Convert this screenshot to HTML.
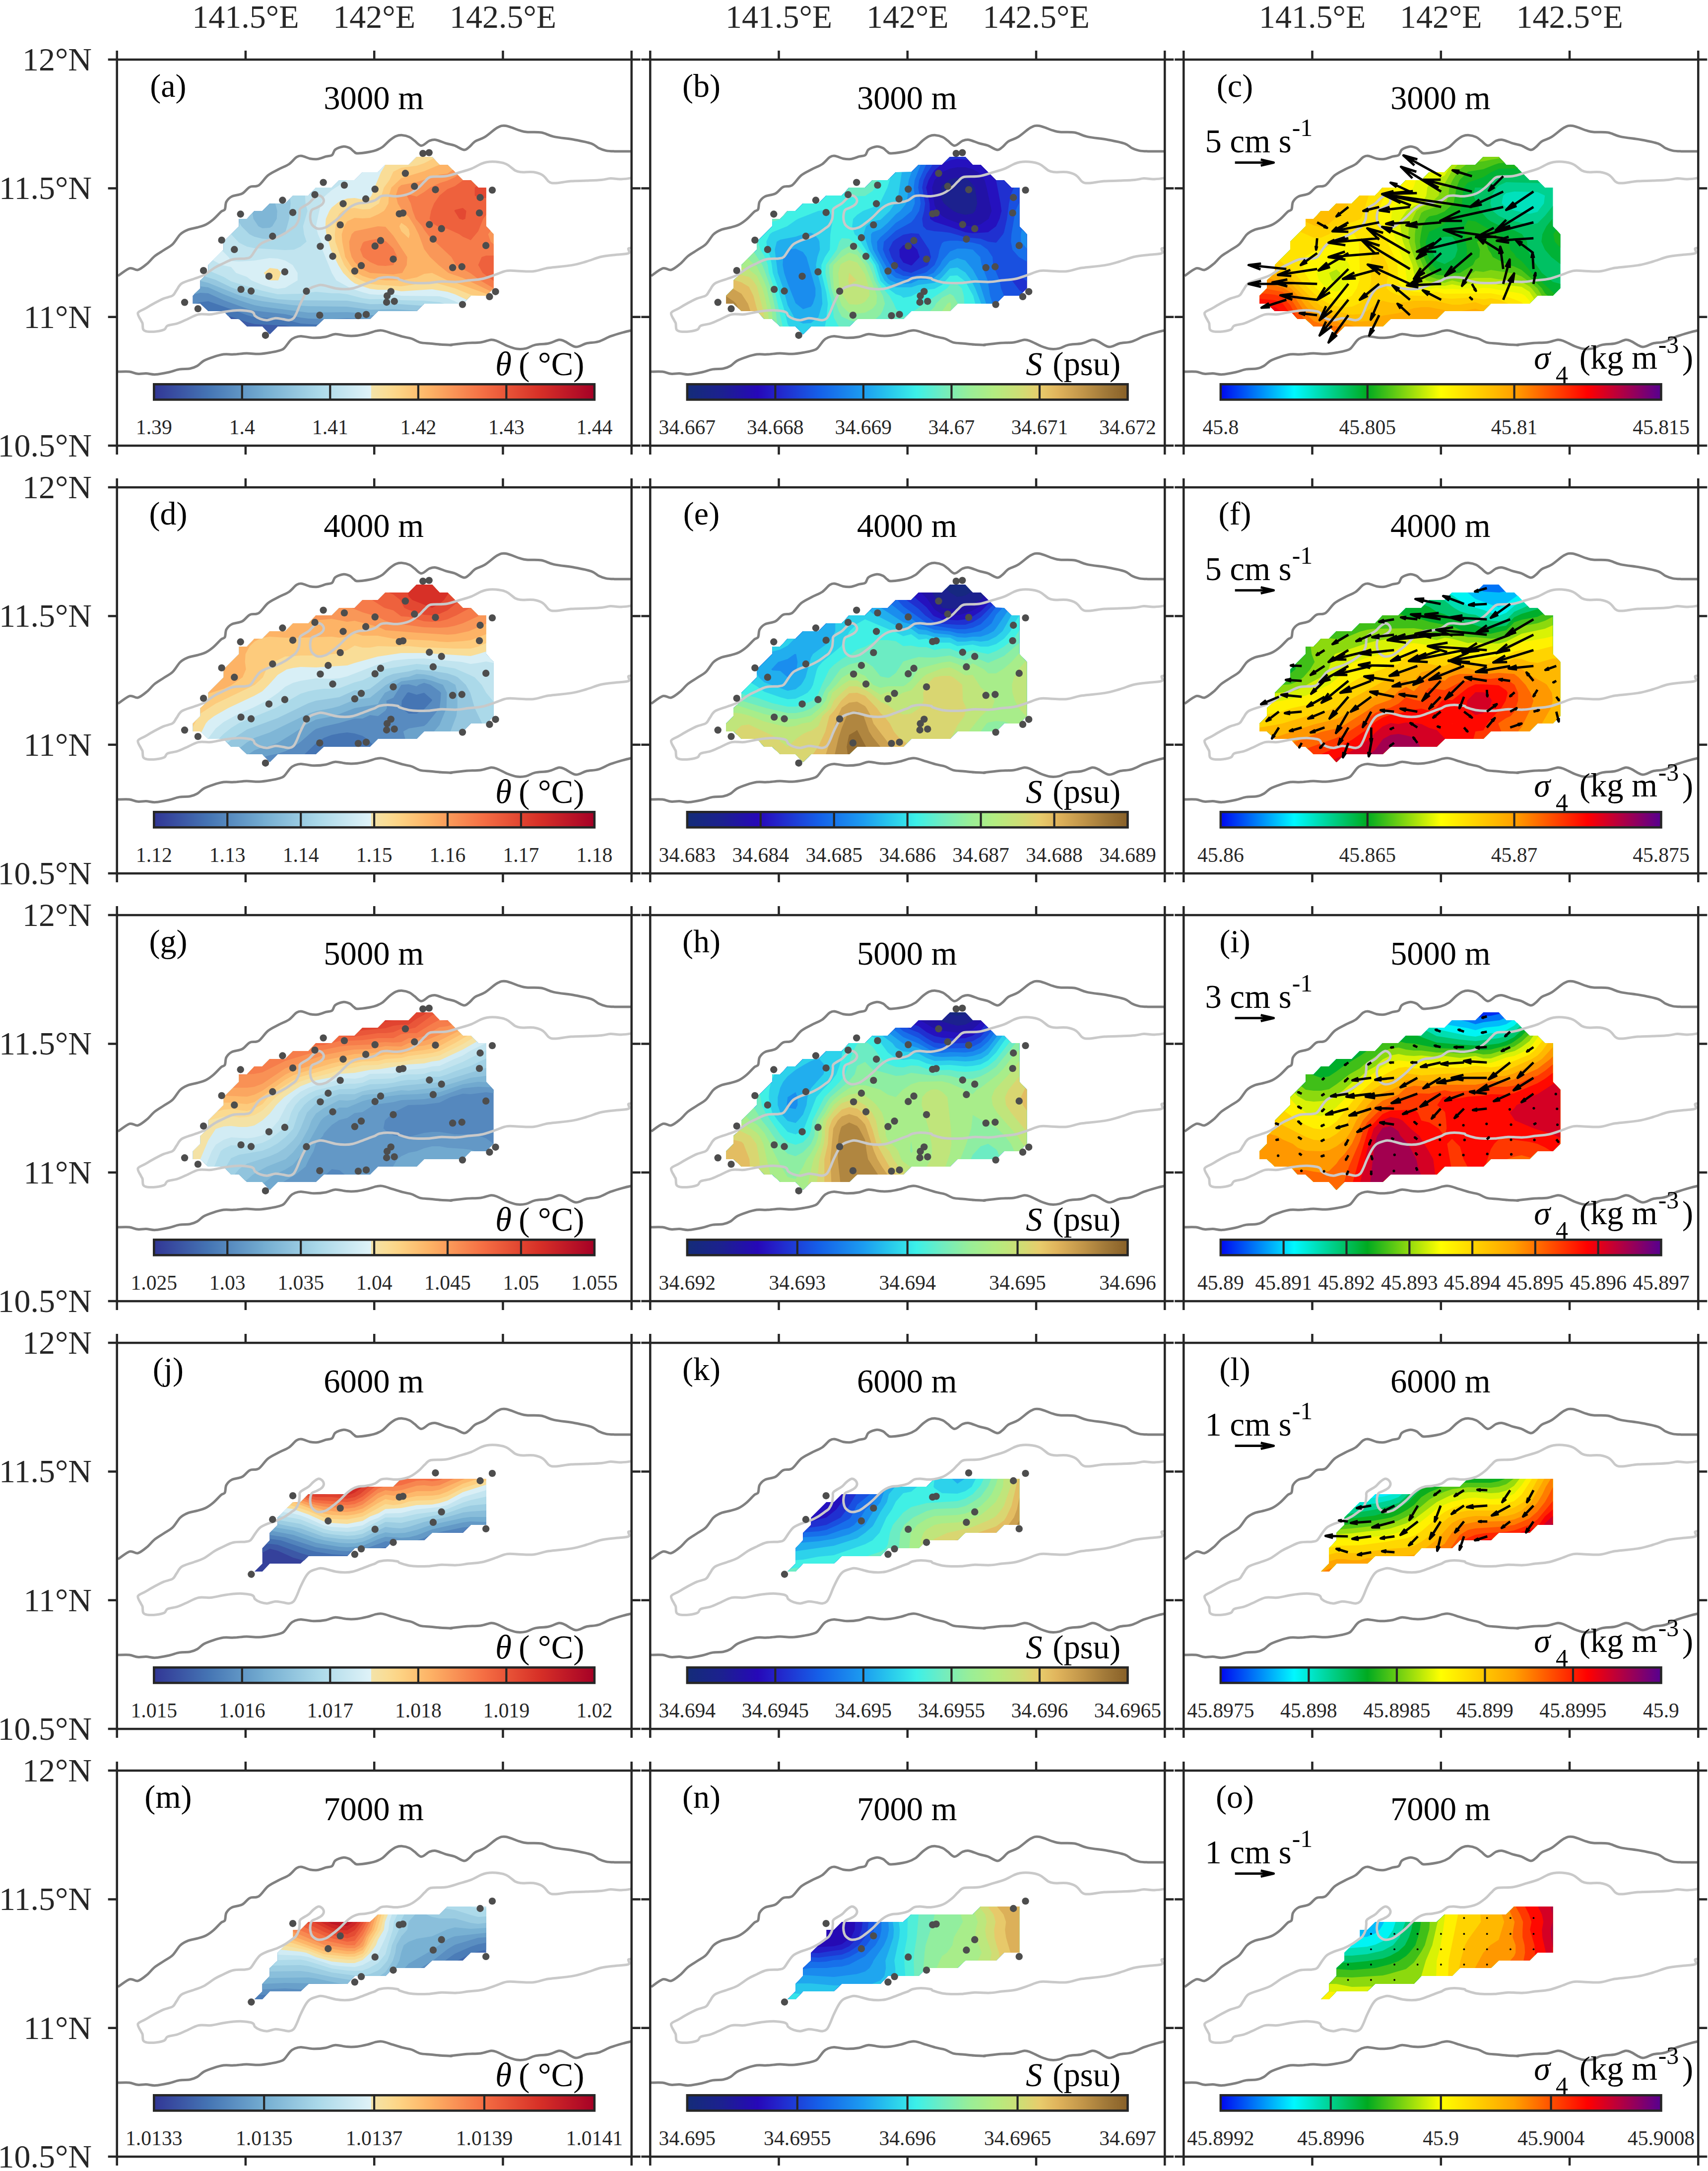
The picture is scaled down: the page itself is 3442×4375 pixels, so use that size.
<!DOCTYPE html><html><head><meta charset="utf-8"><title>fig</title><style>html,body{margin:0;padding:0;background:#fff}svg{display:block}text{font-family:"Liberation Serif",serif}</style></head><body>
<svg width="3442" height="4375" viewBox="0 0 3442 4375">
<rect width="3442" height="4375" fill="#fff"/>
<defs>
<linearGradient id="cm0" x1="0" x2="1" y1="0" y2="0"><stop offset="0.0000" stop-color="#313695"/><stop offset="0.1250" stop-color="#4575b4"/><stop offset="0.2500" stop-color="#74add1"/><stop offset="0.3750" stop-color="#abd9e9"/><stop offset="0.4934" stop-color="#e0f3f8"/><stop offset="0.4935" stop-color="#f3e3a9"/><stop offset="0.5300" stop-color="#fadc94"/><stop offset="0.5600" stop-color="#fdd283"/><stop offset="0.6250" stop-color="#fdb366"/><stop offset="0.7500" stop-color="#f46d43"/><stop offset="0.8750" stop-color="#d73027"/><stop offset="1.0000" stop-color="#a50026"/></linearGradient>
<linearGradient id="cm1" x1="0" x2="1" y1="0" y2="0"><stop offset="0.0000" stop-color="#142c78"/><stop offset="0.0800" stop-color="#1c2090"/><stop offset="0.1600" stop-color="#2608b8"/><stop offset="0.2000" stop-color="#2420c8"/><stop offset="0.3000" stop-color="#1560e8"/><stop offset="0.4000" stop-color="#1c9cf0"/><stop offset="0.4600" stop-color="#28c8ec"/><stop offset="0.5200" stop-color="#3cf0e8"/><stop offset="0.5800" stop-color="#70ecc0"/><stop offset="0.6400" stop-color="#98ee98"/><stop offset="0.7000" stop-color="#b4ec80"/><stop offset="0.7600" stop-color="#d0dc74"/><stop offset="0.8000" stop-color="#e8cc6c"/><stop offset="0.8400" stop-color="#e0b45c"/><stop offset="0.9000" stop-color="#c09448"/><stop offset="0.9500" stop-color="#a07838"/><stop offset="1.0000" stop-color="#886028"/></linearGradient>
<linearGradient id="cm2" x1="0" x2="1" y1="0" y2="0"><stop offset="0.0000" stop-color="#0008f0"/><stop offset="0.1670" stop-color="#00f8ff"/><stop offset="0.3330" stop-color="#00aa20"/><stop offset="0.5000" stop-color="#ffff00"/><stop offset="0.6670" stop-color="#ffa000"/><stop offset="0.8330" stop-color="#ff0000"/><stop offset="1.0000" stop-color="#560090"/></linearGradient>
<path id="du" d="M2.1 435.8C6.0 433.3 18.9 422.7 25.6 420.6C32.3 418.6 36.5 425.2 42.3 423.7C48.2 422.1 55.0 416.1 60.6 411.5C66.2 406.9 70.2 400.8 75.8 396.3C81.4 391.7 88.0 388.2 94.1 384.1C100.2 380.0 106.8 377.2 112.3 371.9C117.9 366.6 122.5 356.9 127.6 352.1C132.6 347.3 137.2 345.3 142.8 343.0C148.4 340.7 155.0 340.2 161.1 338.4C167.1 336.6 173.7 335.1 179.3 332.3C184.9 329.5 189.5 326.0 194.5 321.7C199.6 317.4 206.0 309.8 209.8 306.5C213.6 303.2 215.6 305.2 217.4 301.9C219.2 298.6 218.1 291.0 220.4 286.7C222.7 282.4 225.8 278.8 231.1 276.0C236.4 273.2 246.3 273.1 252.4 269.9C258.5 266.7 262.0 259.6 267.6 256.8C273.2 254.0 279.8 257.1 285.9 253.2C292.0 249.3 297.6 238.7 304.2 233.4C310.7 228.1 318.4 225.0 325.5 221.2C332.6 217.4 340.7 214.7 346.8 210.6C352.8 206.5 357.6 199.3 361.9 196.6C366.1 193.9 367.8 193.6 372.4 194.1C377.0 194.6 384.0 198.5 389.3 199.6C394.5 200.6 398.7 201.1 404.0 200.4C409.3 199.7 416.0 196.7 420.9 195.3C425.8 194.0 430.4 194.7 433.5 192.4C436.7 190.1 436.0 184.3 439.8 181.4C443.7 178.5 451.8 175.6 456.7 175.1C461.6 174.6 465.8 176.7 469.4 178.5C472.9 180.2 475.0 183.9 477.8 185.6C480.6 187.4 479.5 189.3 486.2 189.0C492.9 188.7 509.7 186.1 517.8 184.0C525.9 181.8 529.4 179.9 534.7 176.4C540.0 172.9 544.9 166.5 549.4 162.9C554.0 159.2 557.9 156.2 562.1 154.4C566.3 152.7 570.2 152.1 574.7 152.3C579.3 152.6 585.3 154.2 589.5 156.1C593.7 158.0 596.0 160.8 600.0 163.7C604.0 166.6 608.6 173.4 613.5 173.4C618.4 173.4 624.8 165.7 629.5 163.7C634.3 161.8 636.6 160.8 642.2 161.6C647.8 162.5 656.9 166.9 663.3 168.8C669.6 170.7 674.2 170.8 680.1 173.0C686.1 175.2 694.2 181.3 699.1 181.8C704.0 182.4 705.8 179.2 709.6 176.4C713.5 173.5 717.0 167.9 722.3 164.6C727.5 161.2 733.9 160.7 741.2 156.1C748.6 151.6 759.5 141.0 766.5 137.2C773.6 133.4 776.0 132.5 783.4 133.4C790.8 134.3 803.8 140.5 810.8 142.6C817.8 144.7 818.2 145.3 825.6 146.0C832.9 146.7 845.9 145.3 855.1 146.9C864.2 148.4 869.1 152.8 880.4 155.3C891.6 157.7 909.9 159.3 922.5 161.6C935.2 163.9 948.2 166.4 956.2 169.2C964.3 172.0 966.1 176.1 971.0 178.5C975.9 180.9 980.5 182.5 985.7 183.5C991.0 184.6 994.2 184.6 1002.6 184.8C1011.0 185.0 1030.7 184.8 1036.3 184.8"/>
<path id="dl" d="M1.4 629.0C5.3 629.0 18.2 628.3 25.0 629.0C31.7 629.7 36.2 632.7 41.9 633.2C47.5 633.8 52.7 632.2 58.7 632.4C64.7 632.6 70.0 634.9 77.7 634.5C85.4 634.1 97.0 631.6 105.1 629.9C113.2 628.1 119.1 625.1 126.2 624.0C133.2 622.8 141.3 623.8 147.2 622.7C153.2 621.6 157.4 619.8 162.0 617.2C166.6 614.6 169.4 610.0 174.6 607.1C179.9 604.1 186.9 601.7 193.6 599.5C200.3 597.3 207.7 594.9 214.7 594.0C221.7 593.1 228.0 594.4 235.8 594.0C243.5 593.7 252.6 592.1 261.1 591.9C269.5 591.8 277.9 593.5 286.4 593.2C294.8 592.8 304.6 591.0 311.6 589.8C318.7 588.6 324.3 587.3 328.5 586.0C332.7 584.7 333.4 585.2 336.9 581.8C340.5 578.4 346.1 569.4 349.6 565.8C353.1 562.2 354.5 561.7 358.0 560.3C361.5 558.9 364.3 557.3 370.7 557.3C377.0 557.4 387.5 560.5 396.0 560.7C404.4 560.9 413.9 559.9 421.2 558.6C428.6 557.3 433.2 553.5 440.2 553.1C447.2 552.8 456.0 556.0 463.4 556.5C470.8 557.0 477.5 556.9 484.5 556.1C491.5 555.3 499.2 553.4 505.6 551.9C511.9 550.3 517.5 547.8 522.4 546.8C527.3 545.8 529.4 545.1 535.1 546.0C540.7 546.9 549.1 550.2 556.1 552.3C563.2 554.4 570.9 556.9 577.2 558.6C583.5 560.3 588.5 560.5 594.1 562.4C599.7 564.3 604.6 568.4 610.9 570.0C617.3 571.6 625.0 571.4 632.0 572.1C639.1 572.8 646.1 573.7 653.1 574.2C660.1 574.7 671.0 574.9 674.2 575.1C677.3 575.2 667.2 575.6 671.9 575.0C676.6 574.4 692.2 572.2 702.4 571.3C712.5 570.5 724.2 570.9 732.8 569.8C741.4 568.7 748.5 565.0 754.1 564.6C759.7 564.2 760.7 565.2 766.3 567.4C771.9 569.5 781.0 574.8 787.6 577.4C794.2 580.0 799.8 582.1 805.9 582.9C812.0 583.7 818.1 583.3 824.2 582.0C830.2 580.7 834.8 576.7 842.4 575.0C850.0 573.3 861.7 573.7 869.8 571.9C877.9 570.2 885.5 565.2 891.1 564.6C896.7 564.0 897.7 565.9 903.3 568.3C908.9 570.7 917.5 578.3 924.6 578.9C931.7 579.6 938.3 573.7 945.9 571.9C953.5 570.2 962.2 570.7 970.3 568.3C978.4 565.9 986.5 560.7 994.6 557.6C1002.8 554.6 1011.9 552.0 1019.0 550.0C1026.1 548.0 1034.2 546.2 1037.3 545.5"/>
<path id="lg" d="M1037.3 238.0C1036.3 238.2 1035.2 239.0 1031.2 239.5C1027.1 240.0 1019.0 241.0 1012.9 241.0C1006.8 241.0 1000.7 239.2 994.6 239.5C988.6 239.7 984.5 241.8 976.4 242.5C968.3 243.3 956.1 243.6 945.9 244.0C935.8 244.5 925.1 244.2 915.5 245.0C905.8 245.7 894.7 248.0 888.1 248.6C881.5 249.2 879.0 249.1 875.9 248.6C872.9 248.1 872.9 248.2 869.8 245.6C866.8 242.9 862.7 235.9 857.6 232.8C852.6 229.6 846.5 227.7 839.4 226.7C832.3 225.7 821.1 227.2 815.0 226.7C808.9 226.2 807.9 226.3 802.8 223.6C797.8 221.0 791.2 213.5 784.6 210.6C778.0 207.6 769.9 206.6 763.3 206.0C756.7 205.3 750.1 205.8 745.0 206.6C739.9 207.4 737.9 208.4 732.8 210.6C727.7 212.7 721.7 216.9 714.5 219.7C707.4 222.5 698.8 224.8 690.2 227.3C681.6 229.8 672.4 233.4 662.8 234.9C653.2 236.4 639.5 234.7 632.3 236.4C625.2 238.2 624.2 242.0 620.2 245.6C616.1 249.1 613.1 253.7 608.0 257.7C602.9 261.8 596.8 267.0 589.7 269.9C582.6 272.9 573.0 274.7 565.4 275.4C557.8 276.1 549.6 273.9 544.1 273.9C538.5 273.9 535.9 273.8 531.9 275.4C527.8 277.0 524.7 281.5 519.7 283.6C514.7 285.8 507.5 287.2 502.0 288.2C496.6 289.2 491.4 288.7 486.8 289.7C482.3 290.7 478.7 292.0 474.6 294.3C470.6 296.6 467.0 299.4 462.5 303.4C457.9 307.5 452.3 314.1 447.2 318.6C442.2 323.2 436.6 327.5 432.0 330.8C427.5 334.1 424.2 336.8 419.8 338.4C415.5 340.1 410.2 341.4 406.1 340.9C402.1 340.4 398.0 337.6 395.5 335.4C392.9 333.2 391.9 331.1 390.9 327.8C389.9 324.5 389.1 319.7 389.4 315.6C389.7 311.5 390.4 306.2 392.4 303.4C394.5 300.6 398.3 300.6 401.6 298.8C404.9 297.1 409.7 295.0 412.2 292.8C414.8 290.5 416.5 287.7 416.8 285.1C417.1 282.6 415.5 279.4 413.8 277.5C412.0 275.7 409.2 273.4 406.1 273.9C403.1 274.4 398.8 277.9 395.5 280.6C392.2 283.2 390.7 286.4 386.4 289.7C382.0 293.0 372.7 297.1 369.6 300.4C366.6 303.7 368.6 306.0 368.1 309.5C367.6 313.1 367.8 317.6 366.6 321.7C365.3 325.7 362.8 330.8 360.5 333.9C358.2 336.9 356.7 337.2 352.9 339.9C349.1 342.7 342.7 347.6 337.6 350.6C332.6 353.6 328.0 355.9 322.4 358.2C316.8 360.5 309.7 362.0 304.2 364.3C298.6 366.6 293.0 368.9 288.9 371.9C284.9 375.0 283.1 378.3 279.8 382.6C276.5 386.9 272.7 394.7 269.1 397.8C265.6 400.8 264.3 400.1 258.5 400.8C252.6 401.6 241.7 400.6 234.1 402.4C226.5 404.1 218.9 408.7 212.8 411.5C206.7 414.3 203.9 415.3 197.6 419.1C191.3 422.9 181.9 430.5 174.8 434.3C167.7 438.1 162.3 439.1 155.0 441.9C147.6 444.7 136.4 447.3 130.6 451.1C124.8 454.9 123.0 460.7 120.0 464.8C116.9 468.8 116.7 472.6 112.3 475.4C108.0 478.2 100.2 479.0 94.1 481.5C88.0 484.1 81.9 487.4 75.8 490.7C69.7 493.9 63.1 498.0 57.5 501.3C52.0 504.6 43.8 506.4 42.3 510.4C40.8 514.5 46.9 522.1 48.4 525.7C49.9 529.2 50.7 528.7 51.5 531.8C52.2 534.8 51.5 541.2 53.0 543.9C54.5 546.6 56.3 547.2 60.6 547.9C64.9 548.5 73.0 548.5 78.9 547.9C84.7 547.2 91.8 545.9 95.6 543.9C99.4 542.0 97.4 538.3 101.7 536.3C106.0 534.3 115.1 533.8 121.5 531.8C127.8 529.7 132.6 527.2 139.7 524.1C146.9 521.1 156.0 515.3 164.1 513.5C172.2 511.7 180.3 514.2 188.5 513.5C196.6 512.7 205.2 510.2 212.8 508.9C220.4 507.6 227.5 506.5 234.1 505.9C240.7 505.3 246.6 505.0 252.4 505.3C258.2 505.5 265.3 506.5 269.1 507.4C272.9 508.3 273.7 508.9 275.2 510.4C276.8 512.0 276.0 514.5 278.3 516.5C280.6 518.6 284.9 521.2 288.9 522.6C293.0 524.0 297.6 525.3 302.6 525.1C307.7 524.8 314.0 521.4 319.4 521.1C324.7 520.8 330.0 522.6 334.6 523.2C339.2 523.9 343.2 525.4 346.8 525.1C350.3 524.7 353.4 523.5 355.9 521.1C358.4 518.7 359.7 515.3 362.0 510.4C364.3 505.6 366.8 498.3 369.6 492.2C372.4 486.1 376.0 478.7 378.7 473.9C381.5 469.1 383.6 465.9 386.4 463.3C389.1 460.6 391.4 459.6 395.5 458.1C399.5 456.6 405.6 454.3 410.7 454.1C415.8 454.0 420.9 456.0 425.9 457.2C431.0 458.3 435.6 460.2 441.2 461.1C446.7 462.0 453.8 462.6 459.4 462.6C465.0 462.6 469.1 462.4 474.6 461.1C480.2 459.9 486.8 457.2 492.9 455.0C499.0 452.8 506.7 449.7 511.2 448.0C515.6 446.4 516.8 446.3 519.7 445.0C522.6 443.7 524.5 441.5 528.8 440.4C533.1 439.3 539.5 438.3 545.6 438.3C551.7 438.3 561.3 439.6 565.4 440.4C569.4 441.3 565.4 441.9 569.9 443.5C574.5 445.0 583.4 448.4 592.8 449.5C602.2 450.7 616.1 450.6 626.3 450.2C636.4 449.8 644.0 447.5 653.7 447.1C663.3 446.8 675.0 448.4 684.1 448.0C693.2 447.7 699.8 446.0 708.5 445.0C717.1 444.0 727.2 443.7 735.9 441.9C744.5 440.2 752.1 437.0 760.2 434.3C768.3 431.6 777.0 427.2 784.6 425.8C792.2 424.4 796.8 425.7 805.9 425.8C815.0 426.0 828.7 427.7 839.4 426.7C850.0 425.7 857.1 421.7 869.8 419.7C882.5 417.7 902.8 416.7 915.5 414.5C928.2 412.4 935.8 409.8 945.9 406.9C956.1 404.0 966.2 399.5 976.4 397.2C986.5 394.9 997.7 394.4 1006.8 393.2C1016.0 392.1 1027.2 392.2 1031.2 390.2C1035.1 388.2 1029.6 382.8 1030.6 381.0C1031.6 379.3 1036.2 379.8 1037.3 379.5"/>
<g id="ctr"><use href="#du" fill="none" stroke="#808080" stroke-width="5" stroke-linejoin="round"/><use href="#dl" fill="none" stroke="#808080" stroke-width="5" stroke-linejoin="round"/><use href="#lg" fill="none" stroke="#c9c9c9" stroke-width="5" stroke-linejoin="round"/></g>
<path id="arr" d="M0 0H78M52 -6L78 0L52 6" fill="none" stroke="#000" stroke-width="4.8" stroke-linejoin="round"/>
</defs>
<g transform="translate(235.7 120.1)">
<svg x="0" y="0" width="1037.0" height="778.0" overflow="hidden">
<g shape-rendering="geometricPrecision"><path d="M308 554l-15 -16l-31 0l-16 -15l-16 0l-15 -16l-31 0l-16 -15l-15 0l0 -16l15 -15l0 -16l16 -15l0 -16l31 -31l0 -16l31 -31l0 -15l16 0l15 -16l16 0l15 -15l31 0l16 -16l31 0l15 -16l32 0l15 -15l31 0l16 -16l31 0l15 -15l47 0l16 -16l31 0l15 16l16 0l31 31l16 0l15 15l16 0l0 78l15 16l0 109l-15 15l-31 0l-16 16l-78 0l-15 15l-78 0l-16 16l-93 0l-16 15l-77 0z" fill="#3d5ca8"/><path d="M262 529l15 4l16 1l46 2l13 2l49 0l16 -15l93 0l16 -16l78 0l15 -15l78 0l16 -16l31 0l15 -15l0 -109l-15 -16l0 -78l-16 0l-15 -15l-16 0l-31 -31l-16 0l-15 -16l-31 0l-16 16l-47 0l-15 15l-31 0l-16 16l-31 0l-15 15l-32 0l-15 16l-31 0l-16 16l-31 0l-15 15l-16 0l-15 16l-16 0l0 15l-31 31l0 16l-31 31l0 16l-16 15l0 16l-15 15l0 16l15 0l16 15l31 0l8 9z" fill="#4575b4"/><path d="M168 489l16 -2l46 16l32 12l15 4l47 3l15 2l31 8l16 1l20 1l11 -11l93 0l16 -16l78 0l15 -15l78 0l16 -16l31 0l15 -15l0 -109l-15 -16l0 -78l-16 0l-15 -15l-16 0l-31 -31l-16 0l-15 -16l-31 0l-16 16l-47 0l-15 15l-31 0l-16 16l-31 0l-15 15l-32 0l-15 16l-31 0l-16 16l-31 0l-15 15l-16 0l-15 16l-16 0l0 15l-31 31l0 16l-31 31l0 16l-16 15l0 16l-15 15l0 16l6 0z" fill="#588bc0"/><path d="M168 470l16 1l31 14l47 17l15 4l62 7l31 7l16 2l47 1l31 -2l46 2l16 -16l78 0l15 -15l78 0l16 -16l31 0l15 -15l0 -109l-15 -16l0 -78l-16 0l-15 -15l-16 0l-31 -31l-16 0l-15 -16l-31 0l-16 16l-47 0l-15 15l-31 0l-16 16l-31 0l-15 15l-32 0l-15 16l-31 0l-16 16l-31 0l-15 15l-16 0l-15 16l-16 0l0 15l-31 31l0 16l-31 31l0 16l-16 15l0 16l-13 12z" fill="#6ba2cb"/><path d="M184 459l31 14l31 12l31 10l16 3l93 12l78 -1l15 1l31 5l8 0l8 -8l78 0l15 -15l78 0l16 -16l31 0l15 -15l0 -109l-15 -16l0 -78l-16 0l-15 -15l-16 0l-31 -31l-16 0l-15 -16l-31 0l-16 16l-47 0l-15 15l-31 0l-16 16l-31 0l-15 15l-32 0l-15 16l-31 0l-16 16l-31 0l-15 15l-16 0l-15 16l-16 0l0 15l-31 31l0 16l-31 31l0 16l-16 15l0 12z" fill="#7fb6d6"/><path d="M184 450l62 25l31 9l16 3l62 8l31 2l78 1l46 6l47 -1l48 3l14 -14l78 0l16 -16l31 0l15 -15l0 -109l-15 -16l0 -78l-16 0l-15 -15l-16 0l-31 -31l-16 0l-15 -16l-31 0l-16 16l-47 0l-15 15l-31 0l-16 16l-31 0l-15 15l-32 0l-15 16l-31 0l-16 16l-20 0l4 15l-1 16l-9 15l-5 3l-15 1l-8 -4l-10 -15l-2 -12l-11 12l-16 0l0 15l-31 31l0 16l-31 31l0 16l-16 15l0 1z" fill="#95c7df"/><path d="M350 290l-3 31l-4 15l-5 16l-14 8l-16 2l-15 -1l-16 -4l-10 -5l-16 -16l-5 -8l0 8l-31 31l0 16l-31 31l0 16l-7 7l22 7l31 15l16 6l41 11l21 4l16 3l31 2l109 1l46 7l47 -1l58 4l4 -4l78 0l16 -16l31 0l15 -15l0 -109l-15 -16l0 -78l-16 0l-15 -15l-16 0l-31 -31l-16 0l-15 -16l-31 0l-16 16l-47 0l-15 15l-31 0l-16 16l-31 0l-15 15l-32 0l-15 16l-31 0l-6 6z" fill="#abd9e9"/><path d="M184 425l31 13l15 9l16 5l47 14l31 7l46 -1l31 -4l32 3l15 0l16 2l31 8l15 2l47 -1l16 3l46 1l31 3l10 3l37 0l16 -16l31 0l15 -15l0 -109l-15 -16l0 -78l-16 0l-15 -15l-16 0l-31 -31l-16 0l-15 -16l-31 0l-16 16l-47 0l-15 15l-31 0l-16 16l-31 0l-15 15l-32 0l-15 16l-7 0l1 16l4 15l-9 31l2 16l5 15l-12 10l-13 6l-18 1l-62 -4l-15 -3l-16 -8l-16 -17l-15 15l0 16l-31 31z" fill="#c1e4ef"/><path d="M464 243l-31 20l-16 14l-6 13l-10 46l4 16l7 15l2 16l6 15l13 32l9 15l29 16l24 8l15 4l16 1l31 -1l16 3l77 1l16 4l15 6l9 5l7 0l16 -16l31 0l15 -15l0 -109l-15 -16l0 -78l-16 0l-15 -15l-16 0l-31 -31l-16 0l-15 -16l-31 0l-16 16l-47 0l-15 15l-31 0l-16 16zM193 404l18 10l19 4l10 12l22 8l9 7l22 9l23 7l8 1l15 -2l25 -15l0 -15l-10 -16l-15 -9l-15 -4l-16 -1l-31 5l-31 2l-16 -1l-5 -8l-13 -13z" fill="#d8eff6"/><path d="M532 227l-13 31l-6 16l-3 4l-15 4l-16 -3l-15 1l-16 6l-15 12l-5 7l-7 16l-1 15l2 16l9 31l15 31l10 16l15 15l8 6l16 6l15 5l16 2l31 0l16 3l62 -4l31 5l15 5l24 11l8 -8l31 0l15 -15l0 -109l-15 -16l0 -78l-16 0l-15 -15l-16 0l-31 -31l-16 0l-15 -16l-31 0l-16 16l-47 0zM308 445l17 0l6 -15l-7 -8l-16 -2l-12 10z" fill="#f9dd97"/><path d="M638 199l-19 10l-15 5l-31 4l-16 8l-8 17l-11 15l-10 32l-18 11l-15 1l-16 -3l-15 2l-9 4l-7 6l-6 10l-3 31l1 15l11 31l7 16l12 16l9 8l16 8l15 6l16 2l47 3l62 -9l46 13l32 13l17 2l14 0l15 -15l0 -109l-15 -16l0 -78l-16 0l-15 -15l-16 0l-31 -31l-16 0z" fill="#fdcb7c"/><path d="M650 212l-31 13l-46 14l-20 19l-5 16l-1 16l-6 11l-3 4l-12 7l-16 7l-15 1l-16 -1l-15 7l-6 10l-5 16l1 15l6 31l10 16l14 16l11 6l15 5l31 4l32 0l31 -6l15 -7l16 -2l31 15l15 4l66 24l12 -12l0 -109l-15 -16l0 -78l-16 0l-15 -15l-16 0l-31 -31zM583 336l5 6l2 10l-2 8l-15 -14l-4 -10l4 -7z" fill="#fdb366"/><path d="M677 222l-11 8l-16 2l-46 15l-31 6l-6 5l-5 16l4 16l9 15l13 12l12 19l8 16l11 30l12 16l17 16l20 16l29 10l56 27l6 -6l0 -109l-15 -16l0 -78l-16 0l-15 -15l-16 0zM526 336l-47 10l-6 6l-5 15l1 16l4 15l6 10l16 15l15 7l16 1l31 2l18 -3l9 -16l1 -16l-28 -43l-16 -18z" fill="#f99758"/><path d="M681 237l-15 7l-16 5l-19 9l-12 9l-15 9l-16 -4l-4 2l8 16l4 15l6 16l13 15l4 7l16 21l6 3l17 16l16 15l9 16l30 17l19 14l27 16l0 -89l-6 -5l-5 -15l5 -7l-9 -9l0 -78l-16 0l-15 -15l-16 0l-10 -10zM490 383l6 15l14 10l16 7l15 1l16 -2l8 -16l-8 -17l-14 -14l-2 -1l-15 -5l-16 3l-12 3l-3 3z" fill="#f67b4a"/><path d="M698 243l-17 12l-15 6l-16 13l-11 16l-6 15l-3 16l5 8l11 7l4 2l16 3l24 11l7 5l16 7l15 -18l10 -25l6 -8l0 -55l-16 0l-15 -15zM737 430l22 16l0 -51l-15 0l-9 3l-7 16z" fill="#ee613d"/><path d="M721 258l0 16l7 5l16 0l0 -21l-16 0l-3 -3zM690 321l7 2l5 -2l2 -16l-7 -6l-16 4l-1 2z" fill="#e34832"/></g>
<use href="#ctr"/>
<g fill="#4d4d4d"><circle cx="616.5" cy="189.0" r="7.2"/><circle cx="629.0" cy="187.5" r="7.2"/><circle cx="581.2" cy="229.2" r="7.2"/><circle cx="415.9" cy="247.5" r="7.2"/><circle cx="458.2" cy="253.0" r="7.2"/><circle cx="520.0" cy="261.2" r="7.2"/><circle cx="599.5" cy="255.4" r="7.2"/><circle cx="641.8" cy="262.1" r="7.2"/><circle cx="756.3" cy="263.0" r="7.2"/><circle cx="398.8" cy="272.1" r="7.2"/><circle cx="333.7" cy="283.4" r="7.2"/><circle cx="501.4" cy="280.7" r="7.2"/><circle cx="455.8" cy="290.4" r="7.2"/><circle cx="731.9" cy="277.9" r="7.2"/><circle cx="354.4" cy="308.1" r="7.2"/><circle cx="249.0" cy="311.4" r="7.2"/><circle cx="569.0" cy="310.8" r="7.2"/><circle cx="576.3" cy="309.3" r="7.2"/><circle cx="730.4" cy="309.0" r="7.2"/><circle cx="450.0" cy="333.0" r="7.2"/><circle cx="629.6" cy="332.4" r="7.2"/><circle cx="654.0" cy="340.7" r="7.2"/><circle cx="313.6" cy="355.9" r="7.2"/><circle cx="211.0" cy="363.8" r="7.2"/><circle cx="425.6" cy="358.9" r="7.2"/><circle cx="531.3" cy="364.7" r="7.2"/><circle cx="637.2" cy="361.7" r="7.2"/><circle cx="520.0" cy="375.7" r="7.2"/><circle cx="409.8" cy="376.3" r="7.2"/><circle cx="743.5" cy="374.7" r="7.2"/><circle cx="236.6" cy="382.7" r="7.2"/><circle cx="434.8" cy="396.4" r="7.2"/><circle cx="556.8" cy="402.1" r="7.2"/><circle cx="492.3" cy="415.2" r="7.2"/><circle cx="479.2" cy="426.2" r="7.2"/><circle cx="676.5" cy="419.2" r="7.2"/><circle cx="695.1" cy="417.4" r="7.2"/><circle cx="174.4" cy="425.0" r="7.2"/><circle cx="338.2" cy="427.7" r="7.2"/><circle cx="306.3" cy="436.6" r="7.2"/><circle cx="249.9" cy="463.0" r="7.2"/><circle cx="270.3" cy="466.4" r="7.2"/><circle cx="381.8" cy="466.7" r="7.2"/><circle cx="552.0" cy="467.3" r="7.2"/><circle cx="544.4" cy="476.1" r="7.2"/><circle cx="543.4" cy="488.9" r="7.2"/><circle cx="559.0" cy="487.1" r="7.2"/><circle cx="762.9" cy="467.6" r="7.2"/><circle cx="750.8" cy="477.7" r="7.2"/><circle cx="696.3" cy="493.5" r="7.2"/><circle cx="136.4" cy="489.2" r="7.2"/><circle cx="163.2" cy="502.0" r="7.2"/><circle cx="408.6" cy="515.1" r="7.2"/><circle cx="486.2" cy="516.0" r="7.2"/><circle cx="502.3" cy="513.6" r="7.2"/><circle cx="299.3" cy="555.6" r="7.2"/></g>
</svg>
<rect x="0" y="0" width="1037.0" height="778.0" fill="none" stroke="#262626" stroke-width="4.5"/>
<path d="M0.0 0V-18M0.0 778.0v18M259.2 0V-18M259.2 778.0v18M518.5 0V-18M518.5 778.0v18M777.8 0V-18M777.8 778.0v18M1037.0 0V-18M1037.0 778.0v18M0 0.0h-18M1037.0 0.0h18M0 259.3h-18M1037.0 259.3h18M0 518.7h-18M1037.0 518.7h18M0 778.0h-18M1037.0 778.0h18" stroke="#262626" stroke-width="4.5" fill="none"/>
<rect x="74.6" y="654.2" width="887.6" height="31.1" fill="url(#cm0)" stroke="#262626" stroke-width="4.6"/>
<text x="74.6" y="754.5" font-size="41.67" fill="#262626" text-anchor="middle">1.39</text>
<text x="252.1" y="754.5" font-size="41.67" fill="#262626" text-anchor="middle">1.4</text>
<text x="429.6" y="754.5" font-size="41.67" fill="#262626" text-anchor="middle">1.41</text>
<text x="607.2" y="754.5" font-size="41.67" fill="#262626" text-anchor="middle">1.42</text>
<text x="784.7" y="754.5" font-size="41.67" fill="#262626" text-anchor="middle">1.43</text>
<text x="962.2" y="754.5" font-size="41.67" fill="#262626" text-anchor="middle">1.44</text>
<path d="M252.1 654.2v31.1M429.6 654.2v31.1M607.2 654.2v31.1M784.7 654.2v31.1" stroke="#262626" stroke-width="4.2" fill="none"/>
<text x="103.2" y="74.9" font-size="66.00" text-anchor="middle">(a)</text>
<text x="517.5" y="100.2" font-size="66.67" text-anchor="middle">3000 m</text>
<text x="762.6" y="636.4" font-size="66.67" font-style="italic">θ</text><text x="941.7" y="636.4" font-size="66.67" text-anchor="end">( °C)</text>
</g>
<g transform="translate(1310.3 120.1)">
<svg x="0" y="0" width="1037.0" height="778.0" overflow="hidden">
<g shape-rendering="geometricPrecision"><path d="M308 554l-15 -16l-31 0l-16 -15l-16 0l-15 -16l-31 0l-16 -15l-15 0l0 -16l15 -15l0 -16l16 -15l0 -16l31 -31l0 -16l31 -31l0 -15l16 0l15 -16l16 0l15 -15l31 0l16 -16l31 0l15 -16l32 0l15 -15l31 0l16 -16l31 0l15 -15l47 0l16 -16l31 0l15 16l16 0l31 31l16 0l15 15l16 0l0 78l15 16l0 109l-15 15l-31 0l-16 16l-78 0l-15 15l-78 0l-16 16l-93 0l-16 15l-77 0z" fill="#1c218e"/><path d="M324 538l77 0l16 -15l93 0l16 -16l78 0l15 -15l78 0l16 -16l31 0l15 -15l0 -109l-15 -16l0 -78l-16 0l-15 -15l-16 0l-31 -31l-16 0l-15 -16l-31 0l-16 16l-47 0l-15 15l-31 0l-16 16l-31 0l-15 15l-32 0l-15 16l-31 0l-16 16l-31 0l-15 15l-16 0l-15 16l-16 0l0 15l-31 31l0 16l-31 31l0 16l-16 15l0 16l-15 15l0 16l15 0l16 15l31 0l15 16l16 0l16 15l31 0l15 16zM619 238l16 1l7 4l8 9l4 6l3 16l2 16l-4 15l-5 5l-15 3l-16 -4l-8 -4l-7 -5l-12 -10l-4 -7l-2 -9l0 -16l2 -4l16 -13z" fill="#2212a6"/><path d="M324 538l77 0l16 -15l93 0l16 -16l78 0l15 -15l78 0l16 -16l31 0l15 -15l0 -109l-15 -16l0 -78l-16 0l-15 -15l-16 0l-31 -31l-16 0l-15 -16l-31 0l-16 16l-47 0l-15 15l-31 0l-16 16l-31 0l-15 15l-32 0l-15 16l-31 0l-16 16l-31 0l-15 15l-16 0l-15 16l-16 0l0 15l-31 31l0 16l-31 31l0 16l-16 15l0 16l-15 15l0 16l15 0l16 15l31 0l15 16l16 0l16 15l31 0l15 16zM604 220l15 -3l16 0l15 4l11 6l13 16l4 15l10 47l-6 16l-16 11l-16 4l-15 -1l-37 -14l-10 -6l-10 -10l-5 -12l-5 -35l5 -15l15 -16z" fill="#2511be"/><path d="M697 243l9 47l2 15l-4 16l-7 15l-16 12l-15 1l-16 1l-15 -2l-31 -11l-31 -10l-9 -6l-1 -31l-7 -32l5 -15l9 -16l3 -4l13 -11l-45 0l-15 15l-31 0l-16 16l-31 0l-15 15l-32 0l-15 16l-31 0l-16 16l-31 0l-15 15l-16 0l-15 16l-16 0l0 15l-31 31l0 16l-31 31l0 16l-16 15l0 16l-15 15l0 16l15 0l16 15l31 0l15 16l16 0l16 15l31 0l15 16l16 -16l77 0l16 -15l93 0l16 -16l78 0l15 -15l78 0l16 -16l31 0l15 -15l0 -109l-15 -16l0 -78l-16 0l-15 -15zM526 372l12 11l5 15l-15 16l-2 1l-16 -6l-7 -11l-1 -15l8 -9zM604 203l15 -3l21 2l-5 -6l-31 0l-12 12z" fill="#2030d0"/><path d="M728 269l-5 21l-4 31l-6 27l-2 4l-12 15l-2 2l-16 -2l-15 -6l-31 -3l-31 -9l-16 -2l-15 -1l-16 -3l-7 -7l-2 -15l4 -16l2 -15l-6 -32l3 -15l6 -13l12 -18l-28 0l-15 15l-31 0l-16 16l-31 0l-15 15l-32 0l-15 16l-31 0l-16 16l-31 0l-15 15l-16 0l-15 16l-16 0l0 15l-31 31l0 16l-31 31l0 16l-16 15l0 16l-15 15l0 16l15 0l16 15l31 0l15 16l16 0l16 15l31 0l15 16l16 -16l77 0l16 -15l93 0l16 -16l78 0l15 -15l78 0l16 -16l31 0l7 -7l-7 -4l-15 -20l15 -9l13 9l2 3l0 -96l-15 -16l0 -78l-11 0zM541 351l21 32l4 15l-6 16l-3 2l-31 14l-16 -4l-15 -12l-9 -16l-5 -15l8 -16l6 -5l15 -9l16 -3z" fill="#1950e0"/><path d="M744 288l-8 17l-8 47l-1 15l3 16l13 15l16 9l0 -55l-15 -16zM713 476l-6 -15l-3 -16l-13 -31l-1 -16l-10 -15l-14 -10l-16 -4l-31 -4l-15 0l-12 2l-4 3l-5 13l-3 15l-7 16l-16 14l-4 2l-27 7l-16 -1l-15 -7l-11 -15l-9 -16l-6 -15l2 -16l24 -22l31 -17l6 -7l10 -16l3 -15l-2 -16l-3 -16l2 -15l14 -31l-15 0l-15 15l-31 0l-16 16l-31 0l-15 15l-32 0l-15 16l-31 0l-16 16l-31 0l-15 15l-16 0l-15 16l-16 0l0 15l-31 31l0 16l-31 31l0 16l-16 15l0 16l-15 15l0 16l15 0l16 15l31 0l15 16l16 0l16 15l31 0l15 16l16 -16l77 0l16 -15l93 0l16 -16l78 0l15 -15l78 0z" fill="#176fea"/><path d="M747 352l0 15l12 14l0 -29l-10 -10zM685 476l-5 -31l-12 -31l-3 -16l-15 -15l-15 -2l-16 0l-15 6l-16 19l-4 8l-13 16l-14 6l-16 2l-15 5l-16 0l-15 -3l-12 -10l-18 -32l-7 -15l-1 -16l7 -9l15 -13l16 -16l13 -8l19 -16l6 -15l0 -16l-2 -16l2 -15l12 -31l-4 0l-15 15l-31 0l-16 16l-31 0l-15 15l-32 0l-15 16l-31 0l-16 16l-31 0l-15 15l-16 0l-15 16l-16 0l0 15l-31 31l0 16l-31 31l0 16l-16 15l0 16l-15 15l0 16l15 0l16 15l31 0l15 16l16 0l16 15l31 0l15 16l16 -16l77 0l16 -15l93 0l16 -16l78 0l15 -15l71 0z" fill="#1a8dee"/><path d="M677 492l-15 -47l-12 -22l-15 -18l-16 -5l-15 6l-20 24l-11 9l-16 5l-16 0l-15 7l-16 1l-15 -2l-11 -5l-5 -4l-13 -27l-17 -31l-4 -16l0 -15l3 -4l16 -6l15 -13l16 -17l9 -7l12 -15l3 -16l0 -16l2 -15l6 -17l-32 1l-16 16l-31 0l-15 15l-32 0l-15 16l-31 0l-16 16l-31 0l-15 15l-16 0l-15 16l-16 0l0 15l-31 31l0 16l-31 31l0 16l-16 15l0 16l-15 15l0 16l15 0l16 15l31 0l15 16l16 0l16 15l31 0l15 16l16 -16l77 0l16 -15l93 0l16 -16l78 0l15 -15zM293 381l15 7l7 10l18 63l0 15l-5 16l-4 6l-16 5l-15 -12l-16 -40l-7 -21l-3 -16l1 -16l8 -15z" fill="#21aeee"/><path d="M667 492l-12 -31l-8 -16l-12 -16l-16 -10l-15 2l-16 18l-7 6l-8 5l-32 4l-15 5l-31 0l-16 -7l-7 -7l-8 -16l-4 -15l-19 -31l-11 -31l5 -16l13 -10l16 -3l19 -18l10 -15l7 -16l7 -47l-12 0l-16 16l-31 0l-15 15l-32 0l-15 16l-31 0l-16 16l-31 0l-15 15l-16 0l-15 16l-16 0l0 15l-31 31l0 16l-31 31l0 16l-16 15l0 16l-15 15l0 16l15 0l16 15l31 0l15 16l16 0l16 15l31 0l15 16l16 -16l77 0l16 -15l93 0l16 -16l78 0l15 -15zM330 352l9 10l2 5l1 16l-5 15l-3 16l2 16l3 7l6 24l2 31l-8 27l-15 12l-16 1l-15 -7l-16 -30l-9 -34l-11 -31l-6 -47l4 -16l7 -4l31 -6l15 -5l16 -3z" fill="#2dd2eb"/><path d="M651 476l-16 -29l-16 -12l-15 1l-16 18l-15 8l-16 2l-16 5l-15 8l-16 3l-5 -4l-10 -3l-16 -12l-15 -15l-10 -32l-37 -58l-5 -4l-5 -16l2 -15l8 -8l12 -8l19 -7l16 -11l14 -29l6 -20l-5 5l-31 0l-15 15l-32 0l-15 16l-31 0l-16 16l-31 0l-15 15l-16 0l-15 16l-16 0l0 15l-31 31l0 16l-31 31l0 16l-16 15l0 16l-15 15l0 16l15 0l16 15l31 0l15 16l16 0l16 15l18 0l-3 -5l-6 -26l-9 -29l-4 -17l-11 -31l-2 -16l-3 -16l-6 -15l-2 -16l7 -15l5 -4l30 -12l17 -12l5 -3l41 -16l16 -2l6 2l7 16l-5 31l-1 31l-10 15l-7 16l0 16l10 40l3 22l-3 31l-3 15l49 0l16 -15l93 0l16 -16l78 0l15 -15l36 0z" fill="#40f0e5"/><path d="M267 538l-17 -77l-11 -31l-2 -16l-7 -18l-8 -13l-5 -16l0 -2l-2 2l0 16l-31 31l0 16l-16 15l0 16l-15 15l0 16l15 0l16 15l31 0l15 16l16 0l16 15zM262 322l15 -15l3 -2l-3 0l-15 16l-16 0l0 6zM392 268l25 7l16 0l15 -10l5 -7l5 -15l-10 0l-15 15l-32 0zM376 383l-22 31l-1 16l6 31l8 31l3 28l10 18l21 0l16 -15l93 0l8 -8l-8 3l-15 -16l-4 -10l-9 -16l-18 -21l-6 -10l-9 -31l-32 -42l-8 -5l-8 -6l-15 -1l-5 7zM632 476l-4 -15l-9 -8l-15 1l-6 7l-46 31l-21 15l73 0l15 -15l14 0z" fill="#6cecc3"/><path d="M256 533l-3 -26l-10 -46l-13 -37l-4 -10l-17 -26l-25 26l0 16l-16 15l0 16l-15 15l0 16l15 0l16 15l31 0l15 16l16 0zM375 398l-14 16l0 16l4 31l15 46l6 11l15 7l11 3l5 -5l37 0l10 -9l4 -7l5 -15l-4 -16l-17 -31l-4 -14l-7 -17l-24 -31l-16 -7l-15 8zM573 498l-9 9l40 0l16 -15l-9 -16l-7 -4l-16 8l-12 12z" fill="#8eeea2"/><path d="M247 524l-2 -17l-7 -31l-3 -15l-5 -13l-15 -31l-19 -16l-12 13l0 16l-16 15l0 16l-15 15l0 16l15 0l16 15l31 0l15 16l16 0zM368 430l2 31l9 15l7 20l11 11l4 3l16 2l16 -2l15 -8l8 -10l1 -16l-5 -15l-7 -16l-12 -31l-16 -20l-16 -5l-15 9l-17 16zM606 492l-2 -3l-5 3l-11 15l16 0l2 -2z" fill="#a8ed8a"/><path d="M237 507l-7 -33l-4 -13l-11 -25l-16 -13l-15 -5l0 12l-16 15l0 16l-15 15l0 16l15 0l16 15l31 0l15 16l9 0zM379 430l2 31l5 11l15 21l16 1l9 -2l7 -4l9 -12l-1 -15l-8 -28l-16 -24l-16 -5l-15 7l-3 3z" fill="#c0e57b"/><path d="M401 430l-2 15l2 9l15 -9zM228 507l-13 -50l-8 -12l-8 -7l-19 -5l-12 12l0 16l-15 15l0 16l15 0l16 15l31 0l15 15z" fill="#d9d671"/><path d="M217 510l-9 -34l-9 -18l-15 -9l-15 -5l-1 1l0 16l-15 15l0 16l15 0l16 15l31 0z" fill="#e3bd62"/><path d="M202 507l-5 -15l-13 -20l-17 -10l-14 14l0 16l15 0l16 15z" fill="#cda150"/><path d="M173 492l-5 -5l-15 -10l0 15l15 0l11 11z" fill="#b08640"/></g>
<use href="#ctr"/>
<g fill="#4d4d4d"><circle cx="616.5" cy="189.0" r="7.2"/><circle cx="629.0" cy="187.5" r="7.2"/><circle cx="581.2" cy="229.2" r="7.2"/><circle cx="415.9" cy="247.5" r="7.2"/><circle cx="458.2" cy="253.0" r="7.2"/><circle cx="520.0" cy="261.2" r="7.2"/><circle cx="599.5" cy="255.4" r="7.2"/><circle cx="641.8" cy="262.1" r="7.2"/><circle cx="756.3" cy="263.0" r="7.2"/><circle cx="398.8" cy="272.1" r="7.2"/><circle cx="333.7" cy="283.4" r="7.2"/><circle cx="501.4" cy="280.7" r="7.2"/><circle cx="455.8" cy="290.4" r="7.2"/><circle cx="731.9" cy="277.9" r="7.2"/><circle cx="354.4" cy="308.1" r="7.2"/><circle cx="249.0" cy="311.4" r="7.2"/><circle cx="569.0" cy="310.8" r="7.2"/><circle cx="576.3" cy="309.3" r="7.2"/><circle cx="730.4" cy="309.0" r="7.2"/><circle cx="450.0" cy="333.0" r="7.2"/><circle cx="629.6" cy="332.4" r="7.2"/><circle cx="654.0" cy="340.7" r="7.2"/><circle cx="313.6" cy="355.9" r="7.2"/><circle cx="211.0" cy="363.8" r="7.2"/><circle cx="425.6" cy="358.9" r="7.2"/><circle cx="531.3" cy="364.7" r="7.2"/><circle cx="637.2" cy="361.7" r="7.2"/><circle cx="520.0" cy="375.7" r="7.2"/><circle cx="409.8" cy="376.3" r="7.2"/><circle cx="743.5" cy="374.7" r="7.2"/><circle cx="236.6" cy="382.7" r="7.2"/><circle cx="434.8" cy="396.4" r="7.2"/><circle cx="556.8" cy="402.1" r="7.2"/><circle cx="492.3" cy="415.2" r="7.2"/><circle cx="479.2" cy="426.2" r="7.2"/><circle cx="676.5" cy="419.2" r="7.2"/><circle cx="695.1" cy="417.4" r="7.2"/><circle cx="174.4" cy="425.0" r="7.2"/><circle cx="338.2" cy="427.7" r="7.2"/><circle cx="306.3" cy="436.6" r="7.2"/><circle cx="249.9" cy="463.0" r="7.2"/><circle cx="270.3" cy="466.4" r="7.2"/><circle cx="381.8" cy="466.7" r="7.2"/><circle cx="552.0" cy="467.3" r="7.2"/><circle cx="544.4" cy="476.1" r="7.2"/><circle cx="543.4" cy="488.9" r="7.2"/><circle cx="559.0" cy="487.1" r="7.2"/><circle cx="762.9" cy="467.6" r="7.2"/><circle cx="750.8" cy="477.7" r="7.2"/><circle cx="696.3" cy="493.5" r="7.2"/><circle cx="136.4" cy="489.2" r="7.2"/><circle cx="163.2" cy="502.0" r="7.2"/><circle cx="408.6" cy="515.1" r="7.2"/><circle cx="486.2" cy="516.0" r="7.2"/><circle cx="502.3" cy="513.6" r="7.2"/><circle cx="299.3" cy="555.6" r="7.2"/></g>
</svg>
<rect x="0" y="0" width="1037.0" height="778.0" fill="none" stroke="#262626" stroke-width="4.5"/>
<path d="M0.0 0V-18M0.0 778.0v18M259.2 0V-18M259.2 778.0v18M518.5 0V-18M518.5 778.0v18M777.8 0V-18M777.8 778.0v18M1037.0 0V-18M1037.0 778.0v18M0 0.0h-18M1037.0 0.0h18M0 259.3h-18M1037.0 259.3h18M0 518.7h-18M1037.0 518.7h18M0 778.0h-18M1037.0 778.0h18" stroke="#262626" stroke-width="4.5" fill="none"/>
<rect x="74.6" y="654.2" width="887.6" height="31.1" fill="url(#cm1)" stroke="#262626" stroke-width="4.6"/>
<text x="74.6" y="754.5" font-size="41.67" fill="#262626" text-anchor="middle">34.667</text>
<text x="252.1" y="754.5" font-size="41.67" fill="#262626" text-anchor="middle">34.668</text>
<text x="429.6" y="754.5" font-size="41.67" fill="#262626" text-anchor="middle">34.669</text>
<text x="607.2" y="754.5" font-size="41.67" fill="#262626" text-anchor="middle">34.67</text>
<text x="784.7" y="754.5" font-size="41.67" fill="#262626" text-anchor="middle">34.671</text>
<text x="962.2" y="754.5" font-size="41.67" fill="#262626" text-anchor="middle">34.672</text>
<path d="M252.1 654.2v31.1M429.6 654.2v31.1M607.2 654.2v31.1M784.7 654.2v31.1" stroke="#262626" stroke-width="4.2" fill="none"/>
<text x="103.2" y="74.9" font-size="66.00" text-anchor="middle">(b)</text>
<text x="517.5" y="100.2" font-size="66.67" text-anchor="middle">3000 m</text>
<text x="757" y="636.4" font-size="66.67" font-style="italic">S</text><text x="947.9" y="636.4" font-size="66.67" text-anchor="end">(psu)</text>
</g>
<g transform="translate(2385.3 120.1)">
<svg x="0" y="0" width="1037.0" height="778.0" overflow="hidden">
<g shape-rendering="geometricPrecision"><path d="M308 554l-15 -16l-31 0l-16 -15l-16 0l-15 -16l-31 0l-16 -15l-15 0l0 -16l15 -15l0 -16l16 -15l0 -16l31 -31l0 -16l31 -31l0 -15l16 0l15 -16l16 0l15 -15l31 0l16 -16l31 0l15 -16l32 0l15 -15l31 0l16 -16l31 0l15 -15l47 0l16 -16l31 0l15 16l16 0l31 31l16 0l15 15l16 0l0 78l15 16l0 109l-15 15l-31 0l-16 16l-78 0l-15 15l-78 0l-16 16l-93 0l-16 15l-77 0z" fill="#00e1bc"/><path d="M324 538l77 0l16 -15l93 0l16 -16l78 0l15 -15l78 0l16 -16l31 0l15 -15l0 -109l-15 -16l0 -78l-16 0l-15 -15l-16 0l-31 -31l-16 0l-15 -16l-31 0l-16 16l-47 0l-15 15l-31 0l-16 16l-31 0l-15 15l-32 0l-15 16l-31 0l-16 16l-31 0l-15 15l-16 0l-15 16l-16 0l0 15l-31 31l0 16l-31 31l0 16l-16 15l0 16l-15 15l0 16l15 0l16 15l31 0l15 16l16 0l16 15l31 0l15 16zM666 266l47 1l15 7l-2 16l-13 17l-16 4l-31 -7l-16 -6l-9 -8l3 -16l6 -5z" fill="#00d190"/><path d="M744 295l-16 20l-15 15l-16 3l-49 -12l-13 -6l-12 -10l-5 -15l3 -16l10 -16l4 -4l15 -7l68 2l-5 -6l-16 0l-31 -31l-16 0l-15 -16l-31 0l-16 16l-47 0l-15 15l-31 0l-16 16l-31 0l-15 15l-32 0l-15 16l-31 0l-16 16l-31 0l-15 15l-16 0l-15 16l-16 0l0 15l-31 31l0 16l-31 31l0 16l-16 15l0 16l-15 15l0 16l15 0l16 15l31 0l15 16l16 0l16 15l31 0l15 16l16 -16l77 0l16 -15l93 0l16 -16l78 0l15 -15l78 0l16 -16l31 0l15 -15l0 -109l-15 -16z" fill="#00c163"/><path d="M744 448l-22 -18l-22 -32l-7 -15l-1 -16l-10 -15l-16 -8l-16 -3l-31 -15l-7 -5l-14 -16l-14 -31l3 -16l17 0l31 -24l15 -2l37 1l-21 -21l-16 0l-15 -16l-31 0l-16 16l-47 0l-15 15l-31 0l-16 16l-31 0l-15 15l-32 0l-15 16l-31 0l-16 16l-31 0l-15 15l-16 0l-15 16l-16 0l0 15l-31 31l0 16l-31 31l0 16l-16 15l0 16l-15 15l0 16l15 0l16 15l31 0l15 16l16 0l16 15l31 0l15 16l16 -16l77 0l16 -15l93 0l16 -16l78 0l15 -15l78 0l16 -16l31 0l15 -15l0 -9zM526 357l15 0l8 10l3 16l-5 15l-6 6l-15 8l-16 -6l-4 -8l-6 -15l5 -16l5 -5zM743 321l-12 15l-8 16l-2 15l7 16l13 15l18 14l0 -60l-15 -16z" fill="#00b236"/><path d="M745 352l3 15l11 12l0 -27l-8 -9zM744 469l-42 -39l-21 -24l-11 -8l-4 -7l-8 -8l-2 -16l-6 -2l-15 -13l-16 -8l-31 -18l-15 -2l-7 12l0 16l5 31l-1 15l-13 16l-31 11l-16 -2l-8 -9l-7 -12l-7 -19l0 -16l7 -20l24 -11l17 -15l21 -16l4 -15l1 -16l3 -16l8 -10l31 -11l16 -10l15 -7l39 -1l-8 -7l-16 0l-15 -16l-31 0l-16 16l-47 0l-15 15l-31 0l-16 16l-31 0l-15 15l-32 0l-15 16l-31 0l-16 16l-31 0l-15 15l-16 0l-15 16l-16 0l0 15l-31 31l0 16l-31 31l0 16l-16 15l0 16l-15 15l0 16l15 0l16 15l31 0l15 16l16 0l16 15l31 0l15 16l16 -16l77 0l16 -15l93 0l16 -16l78 0l15 -15l78 0l16 -16l31 0l4 -4z" fill="#1ab31d"/><path d="M590 352l-2 0l0 7zM728 471l-6 -10l-9 -9l-32 -28l-15 -7l-16 -5l-27 -14l-4 -8l-5 -7l-5 -16l-5 -5l-13 5l6 16l-1 15l-8 6l-5 10l-26 16l-16 1l-15 4l-16 -1l-9 -4l-6 -7l-4 -9l-13 -31l-2 -16l2 -15l3 -16l8 -15l6 -5l15 -3l16 -7l15 -13l3 -3l6 -32l6 -15l17 -17l31 -5l22 -9l9 -3l12 -1l-12 -12l-31 0l-16 16l-47 0l-15 15l-31 0l-16 16l-31 0l-15 15l-32 0l-15 16l-31 0l-16 16l-31 0l-15 15l-16 0l-15 16l-16 0l0 15l-31 31l0 16l-31 31l0 16l-16 15l0 16l-15 15l0 16l15 0l16 15l31 0l15 16l16 0l16 15l31 0l15 16l16 -16l77 0l16 -15l93 0l16 -16l78 0l15 -15l78 0l16 -16l21 0z" fill="#4dc416"/><path d="M604 205l15 -3l18 -3l-2 -3l-31 0l-10 10zM713 461l-16 -13l-16 -11l-15 -6l-47 -7l-15 4l-16 -2l-6 4l-9 3l-16 8l-16 -3l-15 6l-16 -2l-15 -5l-7 -7l-19 -47l-3 -16l0 -15l2 -16l11 -27l6 -4l41 -14l2 -1l6 -16l1 -16l7 -15l10 -16l5 -6l12 -9l-28 0l-15 15l-31 0l-16 16l-31 0l-15 15l-32 0l-15 16l-31 0l-16 16l-31 0l-15 15l-16 0l-15 16l-16 0l0 15l-31 31l0 16l-31 31l0 16l-16 15l0 16l-15 15l0 16l15 0l16 15l31 0l15 16l16 0l16 15l31 0l15 16l16 -16l77 0l16 -15l93 0l16 -16l78 0l15 -15l78 0l16 -16l9 0z" fill="#80d510"/><path d="M713 476l-12 -15l-4 -4l-16 -9l-15 -4l-31 -1l-16 -3l-31 0l-15 2l-16 7l-16 -4l-15 5l-31 -3l-6 -2l-10 -11l-20 -51l-5 -16l-1 -15l1 -16l15 -31l10 -7l18 -8l17 -16l3 -16l9 -8l15 -26l11 -12l-11 0l-15 15l-31 0l-16 16l-31 0l-15 15l-32 0l-15 16l-31 0l-16 16l-31 0l-15 15l-16 0l-15 16l-16 0l0 15l-31 31l0 16l-31 31l0 16l-16 15l0 16l-15 15l0 16l15 0l16 15l31 0l15 16l16 0l16 15l31 0l15 16l16 -16l77 0l16 -15l93 0l16 -16l78 0l15 -15l78 0z" fill="#b3e60a"/><path d="M706 482l-9 -14l-16 -10l-15 -2l-31 -2l-16 -3l-15 -1l-16 2l-15 0l-16 4l-16 -3l-15 3l-16 -1l-15 0l-16 -4l-12 -6l-6 -31l-19 -47l-3 -15l-2 -16l1 -15l11 -16l15 -10l16 -5l9 -16l2 -16l4 -8l7 -7l8 -2l16 -7l10 -17l-10 10l-31 0l-16 16l-31 0l-15 15l-32 0l-15 16l-31 0l-16 16l-31 0l-15 15l-16 0l-15 16l-16 0l0 15l-31 31l0 16l-31 31l0 16l-16 15l0 16l-15 15l0 16l15 0l16 15l31 0l15 16l16 0l16 15l31 0l15 16l16 -16l77 0l16 -15l93 0l16 -16l78 0l15 -15l78 0zM308 423l8 7l-5 15l-3 3l-9 -3l-6 -15z" fill="#e6f703"/><path d="M510 230l5 -3l-19 0zM697 486l-9 -10l-7 -4l-15 -3l-47 -8l-15 -1l-16 2l-15 -1l-16 2l-16 -1l-15 1l-16 -3l-15 3l-16 -1l-15 -4l-14 -13l-4 -31l-18 -47l-5 -15l-5 -31l2 -16l13 -17l20 -14l11 -18l4 -13l-20 0l-15 15l-32 0l-15 16l-31 0l-16 16l-31 0l-15 15l-16 0l-15 16l-16 0l0 15l-31 31l0 16l-31 31l0 16l-16 15l0 16l-15 15l0 16l15 0l16 15l31 0l15 16l16 0l16 15l31 0l15 16l16 -16l77 0l16 -15l93 0l16 -16l78 0l15 -15l78 0l2 -2zM324 398l10 16l3 16l-3 15l-10 16l-16 7l-15 -4l-5 -3l-15 -16l-5 -15l9 -16l31 -14z" fill="#fff600"/><path d="M681 489l-15 -6l-20 -7l-27 -5l-93 1l-16 -4l-15 2l-16 -1l-15 -1l-16 -4l-8 -3l-8 -16l-1 -31l-6 -16l-29 -62l-3 -15l1 -16l4 -15l8 -16l11 -16l-16 0l-15 16l-31 0l-16 16l-31 0l-15 15l-16 0l-15 16l-16 0l0 15l-31 31l0 16l-31 31l0 16l-16 15l0 16l-15 15l0 16l15 0l16 15l31 0l15 16l16 0l16 15l31 0l15 16l16 -16l77 0l16 -15l93 0l16 -16l78 0l15 -15l65 0zM339 350l4 2l10 15l2 63l-1 15l-5 16l-10 15l-15 8l-16 0l-15 -5l-5 -3l-11 -7l-10 -8l-13 -16l-10 -15l-4 -16l6 -18l16 -8l15 -4l16 -8l8 -9l23 -17z" fill="#ffe300"/><path d="M235 347l27 12l15 0l16 -7l15 -11l16 -9l15 -4l16 -6l2 -1l7 -16l4 -15l5 -16l-18 0l-16 16l-31 0l-15 15l-16 0l-15 16l-16 0l0 15zM655 492l-20 -8l-16 -3l-15 2l-16 -2l-15 -1l-32 2l-15 -1l-16 -4l-77 -2l-16 -7l-8 -7l1 -16l4 -15l-3 -16l-10 -21l-15 -9l-7 14l-3 16l2 31l-3 16l-8 15l-12 15l-16 7l-15 1l-16 -2l-15 -5l-16 -9l-15 -12l-26 -26l-21 -25l-11 -6l-11 -10l-9 10l0 16l-16 15l0 16l-15 15l0 16l15 0l16 15l31 0l15 16l16 0l16 15l31 0l15 16l16 -16l77 0l16 -15l93 0l16 -16l78 0l15 -15z" fill="#ffd000"/><path d="M262 334l15 4l16 -7l29 -26l10 -15l-24 0l-15 15l-16 0l-15 16l-16 0l0 6zM604 495l-16 -6l-31 5l-16 0l-31 -7l-15 -1l-31 0l-31 5l-16 -1l-16 -4l-15 8l-17 13l-14 6l-16 1l-15 -3l-31 -7l-16 -7l-15 -12l-47 -47l-31 -17l0 9l-16 15l0 16l-15 15l0 16l15 0l16 15l31 0l15 16l16 0l16 15l31 0l15 16l16 -16l77 0l16 -15l93 0l16 -16l78 0l13 -13z" fill="#ffbd00"/><path d="M277 305zM604 507l-16 -5l-28 5zM536 507l-41 -8l-16 0l-15 2l-31 10l-32 5l-16 7l-15 4l-15 1l-16 -2l-46 -12l-19 -7l-12 -8l-21 -23l-26 -26l-16 -10l-18 -7l-13 12l0 16l-15 15l0 16l15 0l16 15l31 0l15 16l16 0l16 15l31 0l15 16l16 -16l77 0l16 -15l93 0l16 -16z" fill="#ffaa00"/><path d="M345 538l-37 -10l-31 -7l-15 -8l-16 -16l-15 -21l-15 -15l-17 -11l-27 -9l-4 4l0 16l-15 15l0 16l15 0l16 15l31 0l15 16l16 0l16 15l31 0l15 16l16 -16z" fill="#ff9000"/><path d="M310 538l-33 -5l-15 -6l-16 -15l-24 -36l-7 -7l-16 -10l-31 -8l0 10l-15 15l0 16l15 0l16 15l31 0l15 16l16 0l16 15l31 0l15 16l12 -12z" fill="#ff7000"/><path d="M242 523l-27 -43l-16 -12l-32 -6l-14 14l0 16l15 0l16 15l31 0l15 16zM312 551l-9 -3l5 6z" fill="#ff5000"/><path d="M230 523l-15 -28l-16 -17l-15 -4l-26 -3l-5 5l0 16l15 0l16 15l31 0z" fill="#ff3000"/><path d="M200 492l-16 -7l-31 -3l0 10l15 0l16 15l27 0z" fill="#ff1000"/><path d="M184 499l-10 -1l10 9l12 0z" fill="#ee000f"/></g>
<use href="#ctr"/>
<path d="M519 235L443 193M465 213L443 193L471 201M581 235L542 223M554 230L542 223L556 224M644 235L615 264M627 257L615 264L622 252M456 266L417 248M429 257L417 248L431 251M519 266L438 216M461 239L438 216L469 226M581 266L484 242M514 258L484 242L518 242M644 266L577 297M601 292L577 297L596 282M705 266L650 303M671 295L650 303L665 287M332 297L308 316M317 312L308 316L314 308M394 297L362 305M373 305L362 305L372 300M456 297L395 304M416 307L395 304L415 297M470 269L400 271M423 276L400 271L423 265M519 297L400 271M437 289L400 271L441 270M581 297L400 271M458 294L400 271L462 265M644 297L517 325M561 325L517 325L557 305M705 297L629 344M658 335L629 344L650 323M269 328L289 339M283 334L289 339L282 337M332 328L300 346M312 343L300 346L309 337M394 328L300 346M332 347L300 346L329 333M456 328L408 331M424 334L408 331L424 326M519 328L449 334M472 338L449 334L471 327M705 328L589 358M630 357L589 358L625 339M269 360L267 383M269 376L267 383L266 375M332 360L292 369M306 369L292 369L304 363M394 360L292 369M326 374L292 369L325 358M456 360L400 337M417 349L400 337L421 340M519 360L470 401M490 391L470 401L483 383M581 360L470 387M509 387L470 387L505 369M644 360L524 343M562 358L524 343L565 339M705 360L631 365M656 369L631 365L655 357M269 390L236 414M249 409L236 414L245 403M332 390L272 425M295 418L272 425L289 409M394 390L292 398M326 403L292 398L325 387M456 390L370 340M394 363L370 340L402 349M519 390L464 442M486 429L464 442L478 420M581 390L527 436M548 425L527 436L541 416M644 390L590 356M605 372L590 356L610 363M705 390L669 363M679 375L669 363L683 369M207 422L131 414M155 423L131 414L156 411M269 422L190 434M217 436L190 434L215 424M332 422L269 484M295 469L269 484L285 459M394 422L321 442M347 441L321 442L344 429M456 422L358 363M386 391L358 363L395 375M519 422L458 451M481 446L458 451L476 437M581 422L561 456M570 447L561 456L565 443M644 422L638 377M636 392L638 377L643 391M705 422L703 389M701 400L703 389L706 400M207 452L131 452M156 458L131 452L156 446M269 452L179 449M209 457L179 449L209 443M332 452L274 525M299 506L274 525L287 497M394 452L355 484M371 476L355 484L366 470M456 452L371 413M396 433L371 413L402 419M519 452L450 455M473 459L450 455L473 449M581 452L589 466M587 461L589 466L585 462M644 452L657 403M649 418L657 403L657 420M705 452L709 430M706 437L709 430L709 437M207 484L157 500M174 499L157 500L172 491M269 484L195 475M219 484L195 475L220 472M332 484L274 556M299 537L274 556L287 528M394 484L377 524M386 512L377 524L380 510M456 484L421 455M431 467L421 455L435 462M519 484L482 465M493 475L482 465L496 469M576 478L581 483M580 481L581 483L579 482M644 484L666 431M654 447L666 431L663 450M269 515L234 511M245 515L234 511L246 510M332 515L292 570M309 555L292 570L301 549M394 515L374 556M384 544L374 556L378 541M456 515L431 492M437 502L431 492L441 497" fill="none" stroke="#000" stroke-width="4.8" stroke-linejoin="round"/><g fill="#000"></g>
</svg>
<rect x="0" y="0" width="1037.0" height="778.0" fill="none" stroke="#262626" stroke-width="4.5"/>
<path d="M0.0 0V-18M0.0 778.0v18M259.2 0V-18M259.2 778.0v18M518.5 0V-18M518.5 778.0v18M777.8 0V-18M777.8 778.0v18M1037.0 0V-18M1037.0 778.0v18M0 0.0h-18M1037.0 0.0h18M0 259.3h-18M1037.0 259.3h18M0 518.7h-18M1037.0 518.7h18M0 778.0h-18M1037.0 778.0h18" stroke="#262626" stroke-width="4.5" fill="none"/>
<rect x="74.6" y="654.2" width="887.6" height="31.1" fill="url(#cm2)" stroke="#262626" stroke-width="4.6"/>
<text x="74.6" y="754.5" font-size="41.67" fill="#262626" text-anchor="middle">45.8</text>
<text x="370.5" y="754.5" font-size="41.67" fill="#262626" text-anchor="middle">45.805</text>
<text x="666.3" y="754.5" font-size="41.67" fill="#262626" text-anchor="middle">45.81</text>
<text x="962.2" y="754.5" font-size="41.67" fill="#262626" text-anchor="middle">45.815</text>
<path d="M370.5 654.2v31.1M666.3 654.2v31.1" stroke="#262626" stroke-width="4.2" fill="none"/>
<text x="103.2" y="74.9" font-size="66.00" text-anchor="middle">(c)</text>
<text x="517.5" y="100.2" font-size="66.67" text-anchor="middle">3000 m</text>
<text x="706" y="623" font-size="66.67" font-style="italic">σ</text>
<text x="749.8" y="651.9" font-size="50">4</text>
<text x="797.5" y="623" font-size="66.67">(kg m</text>
<text x="956.4" y="591" font-size="50.00">-3</text>
<text x="1004.8" y="623" font-size="66.67">)</text>
<text x="43.3" y="186.5" font-size="66.67">5 cm s</text>
<text x="218.4" y="154.4" font-size="50.00">-1</text>
<use href="#arr" transform="translate(103.4 207.5)"/>
</g>
<g transform="translate(235.7 982.1)">
<svg x="0" y="0" width="1037.0" height="778.0" overflow="hidden">
<g shape-rendering="geometricPrecision"><path d="M308 554l-15 -16l-31 0l-16 -15l-16 0l-15 -16l-31 0l-16 -15l-15 0l0 -16l15 -15l0 -16l16 -15l0 -16l31 -31l0 -16l31 -31l0 -15l16 0l15 -16l16 0l15 -15l31 0l16 -16l31 0l15 -16l32 0l15 -15l31 0l16 -16l31 0l15 -15l47 0l16 -16l31 0l15 16l16 0l31 31l16 0l15 15l16 0l0 78l15 16l0 109l-15 15l-31 0l-16 16l-78 0l-15 15l-78 0l-16 16l-93 0l-16 15l-77 0z" fill="#4575b4"/><path d="M378 538l23 -22l16 -11l16 -6l15 -3l16 -2l15 2l16 5l9 6l11 11l11 -11l78 0l15 -15l78 0l16 -16l31 0l15 -15l0 -109l-15 -16l0 -78l-16 0l-15 -15l-16 0l-31 -31l-16 0l-15 -16l-31 0l-16 16l-47 0l-15 15l-31 0l-16 16l-31 0l-15 15l-32 0l-15 16l-31 0l-16 16l-31 0l-15 15l-16 0l-15 16l-16 0l0 15l-31 31l0 16l-31 31l0 16l-16 15l0 16l-15 15l0 16l15 0l16 15l31 0l15 16l16 0l16 15l31 0l15 16l16 -16zM588 413l16 5l15 -4l16 14l0 2l-16 17l-15 9l-16 0l-15 -11l1 -15l11 -16z" fill="#588bc0"/><path d="M308 540l16 -3l15 -5l16 -8l15 -11l24 -21l7 -5l16 -5l31 -7l31 -9l16 0l15 -7l16 2l15 -11l3 -5l-1 -15l14 -6l16 -26l15 -1l16 4l4 -3l11 -4l13 4l18 13l3 3l-1 16l-2 15l-25 31l-6 5l-31 5l-11 6l4 15l23 0l15 -15l78 0l16 -16l31 0l15 -15l0 -109l-15 -16l0 -78l-16 0l-15 -15l-16 0l-31 -31l-16 0l-15 -16l-31 0l-16 16l-47 0l-15 15l-31 0l-16 16l-31 0l-15 15l-32 0l-15 16l-31 0l-16 16l-31 0l-15 15l-16 0l-15 16l-16 0l0 15l-31 31l0 16l-31 31l0 16l-16 15l0 16l-15 15l0 16l15 0l16 15l31 0l15 16l16 0l16 15l31 0l4 5z" fill="#6ba2cb"/><path d="M277 530l16 -6l15 -3l16 -6l31 -19l30 -20l16 -8l32 -6l15 -5l31 -12l47 -8l3 -7l11 -16l17 -8l5 -8l11 -7l31 -4l15 -1l16 4l22 8l8 16l-1 31l-14 34l-11 13l58 0l16 -16l31 0l15 -15l0 -109l-15 -16l0 -78l-16 0l-15 -15l-16 0l-31 -31l-16 0l-15 -16l-31 0l-16 16l-47 0l-15 15l-31 0l-16 16l-31 0l-15 15l-32 0l-15 16l-31 0l-16 16l-31 0l-15 15l-16 0l-15 16l-16 0l0 15l-31 31l0 16l-31 31l0 16l-16 15l0 16l-15 15l0 16l15 0l16 15l31 0l15 16l16 0l16 15l3 0z" fill="#7fb6d6"/><path d="M248 525l14 -11l15 -9l31 -11l78 -38l15 -5l32 -6l15 -4l31 -13l31 -4l31 -25l16 -9l16 -6l15 -2l16 -6l15 1l16 3l15 6l16 3l16 9l4 16l0 31l-2 16l-12 31l25 0l16 -16l31 0l15 -15l0 -109l-15 -16l0 -78l-16 0l-15 -15l-16 0l-31 -31l-16 0l-15 -16l-31 0l-16 16l-47 0l-15 15l-31 0l-16 16l-31 0l-15 15l-32 0l-15 16l-31 0l-16 16l-31 0l-15 15l-16 0l-15 16l-16 0l0 15l-31 31l0 16l-31 31l0 16l-16 15l0 16l-15 15l0 16l15 0l16 15l31 0l15 16l16 0z" fill="#95c7df"/><path d="M230 509l32 -21l62 -23l62 -30l15 -5l47 -7l31 -14l16 1l15 -4l31 -24l16 -6l31 -5l16 -4l31 3l31 5l15 5l6 3l16 15l9 16l9 31l15 31l8 0l15 -15l0 -109l-15 -16l0 -78l-16 0l-15 -15l-16 0l-31 -31l-16 0l-15 -16l-31 0l-16 16l-47 0l-15 15l-31 0l-16 16l-31 0l-15 15l-32 0l-15 16l-31 0l-16 16l-31 0l-15 15l-16 0l-15 16l-16 0l0 15l-31 31l0 16l-31 31l0 16l-16 15l0 16l-15 15l0 16l15 0l16 15l31 0l8 8z" fill="#abd9e9"/><path d="M215 497l15 -12l16 -10l73 -30l51 -29l16 -5l15 -3l16 -2l16 0l15 -1l31 -12l16 -4l46 -23l63 -10l46 4l31 5l32 14l8 4l14 15l9 16l15 18l0 -80l-15 -16l0 -78l-16 0l-15 -15l-16 0l-31 -31l-16 0l-15 -16l-31 0l-16 16l-47 0l-15 15l-31 0l-16 16l-31 0l-15 15l-32 0l-15 16l-31 0l-16 16l-31 0l-15 15l-16 0l-15 16l-16 0l0 15l-31 31l0 16l-31 31l0 16l-16 15l0 16l-15 15l0 16l15 0l16 15l21 0z" fill="#c1e4ef"/><path d="M183 507l16 -21l16 -13l31 -17l26 -11l30 -15l23 -16l14 -12l16 -8l15 -4l31 -5l32 1l15 -1l16 -4l62 -24l31 -8l31 -3l31 -1l76 7l18 4l15 -2l16 -3l15 3l0 -2l-15 -16l0 -78l-16 0l-15 -15l-16 0l-31 -31l-16 0l-15 -16l-31 0l-16 16l-47 0l-15 15l-31 0l-16 16l-31 0l-15 15l-32 0l-15 16l-31 0l-16 16l-31 0l-15 15l-16 0l-15 16l-16 0l0 15l-31 31l0 16l-31 31l0 16l-16 15l0 16l-15 15l0 16l15 0z" fill="#d8eff6"/><path d="M170 494l9 -18l5 -6l12 -9l28 -16l53 -25l16 -9l13 -13l18 -20l18 -11l13 -3l15 -2l31 1l63 -4l15 -5l47 -13l47 -7l46 0l94 6l15 -4l16 -5l0 -73l-16 0l-15 -15l-16 0l-31 -31l-16 0l-15 -16l-31 0l-16 16l-47 0l-15 15l-31 0l-16 16l-31 0l-15 15l-32 0l-15 16l-31 0l-16 16l-31 0l-15 15l-16 0l-15 16l-16 0l0 15l-31 31l0 16l-31 31l0 16l-16 15l0 16l-15 15l0 16l15 0z" fill="#f9dd97"/><path d="M168 456l31 -20l79 -38l16 -15l7 -16l7 -11l31 -15l31 -2l31 0l47 -4l16 -7l15 -9l16 4l15 0l16 -3l31 1l31 -1l31 3l16 0l46 2l32 0l15 -4l16 -7l0 -56l-16 0l-15 -15l-16 0l-31 -31l-16 0l-15 -16l-31 0l-16 16l-47 0l-15 15l-31 0l-16 16l-31 0l-15 15l-32 0l-15 16l-31 0l-16 16l-31 0l-15 15l-16 0l-15 16l-16 0l0 15l-31 31l0 16l-31 31l0 16l-16 15zM153 483l8 -15l-8 8z" fill="#fdcb7c"/><path d="M308 301l31 2l31 0l63 -2l15 2l16 -2l15 -7l16 5l31 0l31 6l78 4l15 2l16 1l31 -2l16 -2l31 -12l0 -38l-16 0l-15 -15l-16 0l-31 -31l-16 0l-15 -16l-31 0l-16 16l-47 0l-15 15l-31 0l-16 16l-31 0l-15 15l-32 0l-15 16l-31 0l-16 16l-31 0l-13 13zM184 416l31 -10l15 -7l23 -16l7 -16l-2 -15l1 -16l8 -15l10 -10l11 -6l-11 0l-15 16l-16 0l0 15l-31 31l0 16l-31 31z" fill="#fdb366"/><path d="M401 268l32 -3l31 6l15 -2l47 12l15 7l63 5l62 4l15 -1l28 -6l35 -15l0 -17l-16 0l-15 -15l-16 0l-31 -31l-16 0l-15 -16l-31 0l-16 16l-47 0l-15 15l-31 0l-16 16l-31 0l-15 15l-32 0l-8 9z" fill="#f99758"/><path d="M473 243l22 9l31 9l15 8l16 5l62 8l31 1l16 -1l15 -3l16 -5l35 -16l-4 0l-15 -15l-16 0l-31 -31l-16 0l-15 -16l-31 0l-16 16l-47 0l-15 15l-31 0l-16 16z" fill="#f67b4a"/><path d="M514 227l25 16l18 5l13 10l3 2l15 1l31 9l16 1l15 -1l16 -4l18 -8l28 -15l-15 0l-31 -31l-16 0l-15 -16l-31 0l-16 16l-47 0l-15 15z" fill="#ee613d"/><path d="M557 216l14 11l8 16l9 4l31 10l16 1l15 -3l16 -7l20 -16l-20 -20l-16 0l-15 -16l-31 0l-16 16l-41 0z" fill="#e34832"/><path d="M588 220l7 7l40 16l15 -8l9 -8l9 -13l-2 -2l-16 0l-15 -16l-31 0l-16 16l-2 0z" fill="#d73027"/></g>
<use href="#ctr"/>
<g fill="#4d4d4d"><circle cx="616.5" cy="189.0" r="7.2"/><circle cx="629.0" cy="187.5" r="7.2"/><circle cx="581.2" cy="229.2" r="7.2"/><circle cx="415.9" cy="247.5" r="7.2"/><circle cx="458.2" cy="253.0" r="7.2"/><circle cx="520.0" cy="261.2" r="7.2"/><circle cx="599.5" cy="255.4" r="7.2"/><circle cx="641.8" cy="262.1" r="7.2"/><circle cx="756.3" cy="263.0" r="7.2"/><circle cx="398.8" cy="272.1" r="7.2"/><circle cx="333.7" cy="283.4" r="7.2"/><circle cx="501.4" cy="280.7" r="7.2"/><circle cx="455.8" cy="290.4" r="7.2"/><circle cx="731.9" cy="277.9" r="7.2"/><circle cx="354.4" cy="308.1" r="7.2"/><circle cx="249.0" cy="311.4" r="7.2"/><circle cx="569.0" cy="310.8" r="7.2"/><circle cx="576.3" cy="309.3" r="7.2"/><circle cx="730.4" cy="309.0" r="7.2"/><circle cx="450.0" cy="333.0" r="7.2"/><circle cx="629.6" cy="332.4" r="7.2"/><circle cx="654.0" cy="340.7" r="7.2"/><circle cx="313.6" cy="355.9" r="7.2"/><circle cx="211.0" cy="363.8" r="7.2"/><circle cx="425.6" cy="358.9" r="7.2"/><circle cx="531.3" cy="364.7" r="7.2"/><circle cx="637.2" cy="361.7" r="7.2"/><circle cx="520.0" cy="375.7" r="7.2"/><circle cx="409.8" cy="376.3" r="7.2"/><circle cx="743.5" cy="374.7" r="7.2"/><circle cx="236.6" cy="382.7" r="7.2"/><circle cx="434.8" cy="396.4" r="7.2"/><circle cx="556.8" cy="402.1" r="7.2"/><circle cx="492.3" cy="415.2" r="7.2"/><circle cx="479.2" cy="426.2" r="7.2"/><circle cx="676.5" cy="419.2" r="7.2"/><circle cx="695.1" cy="417.4" r="7.2"/><circle cx="174.4" cy="425.0" r="7.2"/><circle cx="338.2" cy="427.7" r="7.2"/><circle cx="306.3" cy="436.6" r="7.2"/><circle cx="249.9" cy="463.0" r="7.2"/><circle cx="270.3" cy="466.4" r="7.2"/><circle cx="381.8" cy="466.7" r="7.2"/><circle cx="552.0" cy="467.3" r="7.2"/><circle cx="544.4" cy="476.1" r="7.2"/><circle cx="543.4" cy="488.9" r="7.2"/><circle cx="559.0" cy="487.1" r="7.2"/><circle cx="762.9" cy="467.6" r="7.2"/><circle cx="750.8" cy="477.7" r="7.2"/><circle cx="696.3" cy="493.5" r="7.2"/><circle cx="136.4" cy="489.2" r="7.2"/><circle cx="163.2" cy="502.0" r="7.2"/><circle cx="408.6" cy="515.1" r="7.2"/><circle cx="486.2" cy="516.0" r="7.2"/><circle cx="502.3" cy="513.6" r="7.2"/><circle cx="299.3" cy="555.6" r="7.2"/></g>
</svg>
<rect x="0" y="0" width="1037.0" height="778.0" fill="none" stroke="#262626" stroke-width="4.5"/>
<path d="M0.0 0V-18M0.0 778.0v18M259.2 0V-18M259.2 778.0v18M518.5 0V-18M518.5 778.0v18M777.8 0V-18M777.8 778.0v18M1037.0 0V-18M1037.0 778.0v18M0 0.0h-18M1037.0 0.0h18M0 259.3h-18M1037.0 259.3h18M0 518.7h-18M1037.0 518.7h18M0 778.0h-18M1037.0 778.0h18" stroke="#262626" stroke-width="4.5" fill="none"/>
<rect x="74.6" y="654.2" width="887.6" height="31.1" fill="url(#cm0)" stroke="#262626" stroke-width="4.6"/>
<text x="74.6" y="754.5" font-size="41.67" fill="#262626" text-anchor="middle">1.12</text>
<text x="222.5" y="754.5" font-size="41.67" fill="#262626" text-anchor="middle">1.13</text>
<text x="370.5" y="754.5" font-size="41.67" fill="#262626" text-anchor="middle">1.14</text>
<text x="518.4" y="754.5" font-size="41.67" fill="#262626" text-anchor="middle">1.15</text>
<text x="666.3" y="754.5" font-size="41.67" fill="#262626" text-anchor="middle">1.16</text>
<text x="814.3" y="754.5" font-size="41.67" fill="#262626" text-anchor="middle">1.17</text>
<text x="962.2" y="754.5" font-size="41.67" fill="#262626" text-anchor="middle">1.18</text>
<path d="M222.5 654.2v31.1M370.5 654.2v31.1M518.4 654.2v31.1M666.3 654.2v31.1M814.3 654.2v31.1" stroke="#262626" stroke-width="4.2" fill="none"/>
<text x="103.2" y="74.9" font-size="66.00" text-anchor="middle">(d)</text>
<text x="517.5" y="100.2" font-size="66.67" text-anchor="middle">4000 m</text>
<text x="762.6" y="636.4" font-size="66.67" font-style="italic">θ</text><text x="941.7" y="636.4" font-size="66.67" text-anchor="end">( °C)</text>
</g>
<g transform="translate(1310.3 982.1)">
<svg x="0" y="0" width="1037.0" height="778.0" overflow="hidden">
<g shape-rendering="geometricPrecision"><path d="M308 554l-15 -16l-31 0l-16 -15l-16 0l-15 -16l-31 0l-16 -15l-15 0l0 -16l15 -15l0 -16l16 -15l0 -16l31 -31l0 -16l31 -31l0 -15l16 0l15 -16l16 0l15 -15l31 0l16 -16l31 0l15 -16l32 0l15 -15l31 0l16 -16l31 0l15 -15l47 0l16 -16l31 0l15 16l16 0l31 31l16 0l15 15l16 0l0 78l15 16l0 109l-15 15l-31 0l-16 16l-78 0l-15 15l-78 0l-16 16l-93 0l-16 15l-77 0z" fill="#162880"/><path d="M648 210l-13 8l-16 3l-15 -9l-8 -8l-8 8l-47 0l-15 15l-31 0l-16 16l-31 0l-15 15l-32 0l-15 16l-31 0l-16 16l-31 0l-15 15l-16 0l-15 16l-16 0l0 15l-31 31l0 16l-31 31l0 16l-16 15l0 16l-15 15l0 16l15 0l16 15l31 0l15 16l16 0l16 15l31 0l15 16l16 -16l77 0l16 -15l93 0l16 -16l78 0l15 -15l78 0l16 -16l31 0l15 -15l0 -109l-15 -16l0 -78l-16 0l-15 -15l-16 0l-31 -31l-16 0z" fill="#1c218e"/><path d="M666 227l-31 13l-16 4l-15 1l-16 -2l-11 -16l-9 -15l-27 0l-15 15l-31 0l-16 16l-31 0l-15 15l-32 0l-15 16l-31 0l-16 16l-31 0l-15 15l-16 0l-15 16l-16 0l0 15l-31 31l0 16l-31 31l0 16l-16 15l0 16l-15 15l0 16l15 0l16 15l31 0l15 16l16 0l16 15l31 0l15 16l16 -16l77 0l16 -15l93 0l16 -16l78 0l15 -15l78 0l16 -16l31 0l15 -15l0 -109l-15 -16l0 -78l-16 0l-15 -15l-16 0l-25 -25z" fill="#2212a6"/><path d="M680 226l-14 13l-16 9l-15 6l-16 4l-16 0l-15 -2l-15 -10l-16 -23l-12 -11l-4 0l-15 15l-31 0l-16 16l-31 0l-15 15l-32 0l-15 16l-31 0l-16 16l-31 0l-15 15l-16 0l-15 16l-16 0l0 15l-31 31l0 16l-31 31l0 16l-16 15l0 16l-15 15l0 16l15 0l16 15l31 0l15 16l16 0l16 15l31 0l15 16l16 -16l77 0l16 -15l93 0l16 -16l78 0l15 -15l78 0l16 -16l31 0l15 -15l0 -109l-15 -16l0 -78l-16 0l-15 -15l-16 0z" fill="#2511be"/><path d="M685 231l-19 19l-16 10l-15 6l-16 2l-15 -1l-16 -1l-15 -6l-3 -2l-13 -16l-25 -21l-6 6l-31 0l-16 16l-31 0l-15 15l-32 0l-15 16l-31 0l-16 16l-31 0l-15 15l-16 0l-15 16l-16 0l0 15l-31 31l0 16l-31 31l0 16l-16 15l0 16l-15 15l0 16l15 0l16 15l31 0l15 16l16 0l16 15l31 0l15 16l16 -16l77 0l16 -15l93 0l16 -16l78 0l15 -15l78 0l16 -16l31 0l15 -15l0 -109l-15 -16l0 -78l-16 0l-15 -15l-16 0z" fill="#2030d0"/><path d="M691 237l-25 25l-16 10l-15 5l-16 0l-31 -2l-15 -4l-19 -13l-13 -13l-25 -18l-21 0l-16 16l-31 0l-15 15l-32 0l-15 16l-31 0l-16 16l-31 0l-15 15l-16 0l-15 16l-16 0l0 15l-31 31l0 16l-31 31l0 16l-16 15l0 16l-15 15l0 16l15 0l16 15l31 0l15 16l16 0l16 15l31 0l15 16l16 -16l77 0l16 -15l93 0l16 -16l78 0l15 -15l78 0l16 -16l31 0l15 -15l0 -109l-15 -16l0 -78l-16 0l-15 -15l-16 0z" fill="#1950e0"/><path d="M696 242l-15 19l-15 15l-16 7l-15 3l-16 0l-46 -7l-15 -5l-48 -34l-12 -13l-3 0l-16 16l-31 0l-15 15l-32 0l-15 16l-31 0l-16 16l-31 0l-15 15l-16 0l-15 16l-16 0l0 15l-31 31l0 16l-31 31l0 16l-16 15l0 16l-15 15l0 16l15 0l16 15l31 0l15 16l16 0l16 15l31 0l15 16l16 -16l77 0l16 -15l93 0l16 -16l78 0l15 -15l78 0l16 -16l31 0l15 -15l0 -109l-15 -16l0 -78l-16 0l-15 -15z" fill="#176fea"/><path d="M697 257l-9 17l-7 6l-15 10l-31 5l-16 -1l-15 -4l-31 -3l-32 -11l-15 -12l-16 -9l-24 -19l-7 7l-31 0l-15 15l-32 0l-15 16l-31 0l-16 16l-31 0l-15 15l-16 0l-15 16l-16 0l0 15l-31 31l0 16l-31 31l0 16l-16 15l0 16l-15 15l0 16l15 0l16 15l31 0l15 16l16 0l16 15l31 0l15 16l16 -16l77 0l16 -15l93 0l16 -16l78 0l15 -15l78 0l16 -16l31 0l15 -15l0 -109l-15 -16l0 -78l-16 0l-15 -15l-3 0z" fill="#1a8dee"/><path d="M720 250l-23 34l-5 6l-11 6l-15 5l-16 0l-15 2l-16 -1l-15 -5l-31 -3l-16 -6l-16 -2l-15 -10l-16 -4l-45 -29l-17 0l-15 15l-32 0l-15 16l-31 0l-16 16l-31 0l-15 15l-16 0l-15 16l-16 0l0 15l-31 31l0 16l-31 31l0 16l-16 15l0 16l-15 15l0 16l15 0l16 15l31 0l15 16l16 0l16 15l31 0l15 16l16 -16l77 0l16 -15l93 0l16 -16l78 0l15 -15l78 0l16 -16l31 0l15 -15l0 -109l-15 -16l0 -78l-16 0zM294 336l3 16l-2 15l-2 6l-16 10l-15 -13l-16 -1l-2 -2l14 -15l19 -6l14 -10z" fill="#21aeee"/><path d="M262 327l15 -8l14 -14l-14 0l-15 16l-16 0l0 10zM373 290l-7 15l-11 11l-27 20l-4 7l-11 40l-5 9l-4 6l-11 9l-16 3l-47 -17l-11 -10l-4 -7l0 7l-31 31l0 16l-16 15l0 16l-15 15l0 16l15 0l16 15l31 0l15 16l16 0l16 15l31 0l15 16l16 -16l77 0l16 -15l93 0l16 -16l78 0l15 -15l78 0l16 -16l31 0l15 -15l0 -109l-15 -16l0 -78l-16 0l-18 32l-13 11l-16 8l-15 2l-16 -2l-15 2l-16 0l-15 -8l-31 -1l-16 -5l-16 -1l-15 -11l-16 1l-62 -32l-6 -5l-9 9l-32 0l-15 16l-13 0z" fill="#2dd2eb"/><path d="M734 274l-8 16l-13 15l-16 11l-16 5l-15 0l-16 -4l-31 3l-15 -7l-31 0l-16 -8l-16 2l-15 -11l-16 4l-15 -8l-62 -26l-16 9l-15 15l-18 31l-37 31l-8 9l-3 6l-8 31l-4 8l-7 8l-9 5l-15 7l-16 1l-15 -4l-32 -11l-15 -11l-12 -7l-19 20l0 16l-16 15l0 16l-15 15l0 16l15 0l16 15l31 0l15 16l16 0l16 15l31 0l15 16l16 -16l77 0l16 -15l93 0l16 -16l78 0l15 -15l78 0l16 -16l31 0l15 -15l0 -109l-15 -16l0 -78z" fill="#40f0e5"/><path d="M744 288l-11 17l-20 16l-16 9l-16 6l-15 -3l-16 -5l-15 5l-16 -2l-15 -6l-16 0l-15 3l-16 -6l-16 0l-15 -3l-16 1l-15 -10l-16 -2l-15 0l-16 5l-14 8l-17 6l-12 9l-19 10l-16 12l-9 9l-15 31l-7 18l-12 14l-19 8l-15 4l-16 0l-31 -7l-31 -11l-31 -8l0 14l-16 15l0 16l-15 15l0 16l15 0l16 15l31 0l15 16l16 0l16 15l31 0l15 16l16 -16l77 0l16 -15l93 0l16 -16l78 0l15 -15l78 0l16 -16l31 0l15 -15l0 -109l-15 -16z" fill="#6cecc3"/><path d="M735 321l-22 19l-32 14l-31 -13l-15 8l-31 -10l-31 4l-16 0l-16 -1l-15 4l-16 5l-15 23l-12 9l-4 1l-15 -3l-16 -20l-15 -10l-16 2l-16 4l-15 8l-3 2l-22 31l-6 7l-5 9l-6 16l-5 5l-15 11l-16 6l-15 3l-16 0l-43 -10l-50 -15l-16 15l0 16l-15 15l0 16l15 0l16 15l31 0l15 16l16 0l16 15l31 0l15 16l16 -16l77 0l16 -15l93 0l16 -16l78 0l15 -15l78 0l16 -16l31 0l15 -15l0 -109l-15 -16l0 -22z" fill="#8eeea2"/><path d="M678 476l3 -2l16 -3l16 1l10 4l21 0l15 -15l0 -109l-15 -16l0 -2l-16 18l-15 13l-16 10l-16 0l-8 -8l-23 -12l-15 9l-16 -8l-15 -5l-16 2l-31 8l-16 5l-15 23l-11 9l-5 3l-31 0l-15 3l-15 -6l-16 -18l-16 -7l-16 2l-15 9l-11 14l-16 16l-5 16l-12 15l-18 15l-16 4l-15 3l-16 0l-47 -10l-56 -18l-6 6l0 16l-15 15l0 16l15 0l16 15l31 0l15 16l16 0l16 15l31 0l15 16l16 -16l77 0l16 -15l93 0l16 -16l78 0l15 -15l47 0z" fill="#a8ed8a"/><path d="M757 350l-15 17l-9 16l-4 15l1 16l5 16l8 15l15 17l1 -1l0 -109zM557 377l-8 6l-23 26l-17 5l-14 8l-9 -8l-7 -2l-15 6l-47 -29l-16 0l-14 9l-20 16l-5 16l-7 15l-31 28l-18 3l-13 5l-16 2l-15 -3l-32 -8l-31 -12l-15 -4l-16 -2l0 7l-15 15l0 16l15 0l16 15l31 0l15 16l16 0l16 15l31 0l15 16l16 -16l77 0l16 -15l93 0l16 -16l78 0l15 -15l23 0l24 -30l15 -14l8 -3l5 -15l-14 -16l-14 -11l-16 -25l-15 1l-21 -12l-10 -4l-16 2z" fill="#c0e57b"/><path d="M557 398l-7 16l1 16l-8 15l-17 11l-16 2l-15 -7l-16 -12l-15 -7l-21 -18l-10 -6l-16 -7l-16 0l-15 13l-16 16l-6 15l-17 16l-8 20l-15 10l-5 1l-11 5l-14 10l-17 16l-15 -11l-3 -5l-13 -7l-47 -22l-15 2l-14 13l14 14l31 0l15 16l16 0l16 15l31 0l15 16l16 -16l77 0l16 -15l93 0l16 -16l78 0l4 -4l5 -11l6 -12l14 -19l4 -16l-7 -15l-1 -32l-18 -15l-7 -3l-16 0l-16 3z" fill="#d9d671"/><path d="M517 516l-13 -9l-9 -10l-4 -5l-8 -16l-12 -15l-7 -6l-7 -10l-24 -25l-16 -6l-16 1l-16 15l-15 21l-9 10l-8 31l-14 30l-11 16l73 0l16 -15l93 0z" fill="#e3bd62"/><path d="M479 514l-29 -38l-5 -15l-9 -16l-3 -4l-16 -9l-16 2l-15 10l-8 17l-24 77l47 0l16 -15l71 0z" fill="#cda150"/><path d="M464 523l-16 -20l-7 -11l-11 -31l-13 -10l-16 2l-5 8l-10 24l-7 22l-7 31l29 0l16 -15z" fill="#b08640"/><path d="M435 523l-18 -34l-4 3l-12 7l-2 8l-3 16l2 15l3 0l16 -15z" fill="#946c30"/></g>
<use href="#ctr"/>
<g fill="#4d4d4d"><circle cx="616.5" cy="189.0" r="7.2"/><circle cx="629.0" cy="187.5" r="7.2"/><circle cx="581.2" cy="229.2" r="7.2"/><circle cx="415.9" cy="247.5" r="7.2"/><circle cx="458.2" cy="253.0" r="7.2"/><circle cx="520.0" cy="261.2" r="7.2"/><circle cx="599.5" cy="255.4" r="7.2"/><circle cx="641.8" cy="262.1" r="7.2"/><circle cx="756.3" cy="263.0" r="7.2"/><circle cx="398.8" cy="272.1" r="7.2"/><circle cx="333.7" cy="283.4" r="7.2"/><circle cx="501.4" cy="280.7" r="7.2"/><circle cx="455.8" cy="290.4" r="7.2"/><circle cx="731.9" cy="277.9" r="7.2"/><circle cx="354.4" cy="308.1" r="7.2"/><circle cx="249.0" cy="311.4" r="7.2"/><circle cx="569.0" cy="310.8" r="7.2"/><circle cx="576.3" cy="309.3" r="7.2"/><circle cx="730.4" cy="309.0" r="7.2"/><circle cx="450.0" cy="333.0" r="7.2"/><circle cx="629.6" cy="332.4" r="7.2"/><circle cx="654.0" cy="340.7" r="7.2"/><circle cx="313.6" cy="355.9" r="7.2"/><circle cx="211.0" cy="363.8" r="7.2"/><circle cx="425.6" cy="358.9" r="7.2"/><circle cx="531.3" cy="364.7" r="7.2"/><circle cx="637.2" cy="361.7" r="7.2"/><circle cx="520.0" cy="375.7" r="7.2"/><circle cx="409.8" cy="376.3" r="7.2"/><circle cx="743.5" cy="374.7" r="7.2"/><circle cx="236.6" cy="382.7" r="7.2"/><circle cx="434.8" cy="396.4" r="7.2"/><circle cx="556.8" cy="402.1" r="7.2"/><circle cx="492.3" cy="415.2" r="7.2"/><circle cx="479.2" cy="426.2" r="7.2"/><circle cx="676.5" cy="419.2" r="7.2"/><circle cx="695.1" cy="417.4" r="7.2"/><circle cx="174.4" cy="425.0" r="7.2"/><circle cx="338.2" cy="427.7" r="7.2"/><circle cx="306.3" cy="436.6" r="7.2"/><circle cx="249.9" cy="463.0" r="7.2"/><circle cx="270.3" cy="466.4" r="7.2"/><circle cx="381.8" cy="466.7" r="7.2"/><circle cx="552.0" cy="467.3" r="7.2"/><circle cx="544.4" cy="476.1" r="7.2"/><circle cx="543.4" cy="488.9" r="7.2"/><circle cx="559.0" cy="487.1" r="7.2"/><circle cx="762.9" cy="467.6" r="7.2"/><circle cx="750.8" cy="477.7" r="7.2"/><circle cx="696.3" cy="493.5" r="7.2"/><circle cx="136.4" cy="489.2" r="7.2"/><circle cx="163.2" cy="502.0" r="7.2"/><circle cx="408.6" cy="515.1" r="7.2"/><circle cx="486.2" cy="516.0" r="7.2"/><circle cx="502.3" cy="513.6" r="7.2"/><circle cx="299.3" cy="555.6" r="7.2"/></g>
</svg>
<rect x="0" y="0" width="1037.0" height="778.0" fill="none" stroke="#262626" stroke-width="4.5"/>
<path d="M0.0 0V-18M0.0 778.0v18M259.2 0V-18M259.2 778.0v18M518.5 0V-18M518.5 778.0v18M777.8 0V-18M777.8 778.0v18M1037.0 0V-18M1037.0 778.0v18M0 0.0h-18M1037.0 0.0h18M0 259.3h-18M1037.0 259.3h18M0 518.7h-18M1037.0 518.7h18M0 778.0h-18M1037.0 778.0h18" stroke="#262626" stroke-width="4.5" fill="none"/>
<rect x="74.6" y="654.2" width="887.6" height="31.1" fill="url(#cm1)" stroke="#262626" stroke-width="4.6"/>
<text x="74.6" y="754.5" font-size="41.67" fill="#262626" text-anchor="middle">34.683</text>
<text x="222.5" y="754.5" font-size="41.67" fill="#262626" text-anchor="middle">34.684</text>
<text x="370.5" y="754.5" font-size="41.67" fill="#262626" text-anchor="middle">34.685</text>
<text x="518.4" y="754.5" font-size="41.67" fill="#262626" text-anchor="middle">34.686</text>
<text x="666.3" y="754.5" font-size="41.67" fill="#262626" text-anchor="middle">34.687</text>
<text x="814.3" y="754.5" font-size="41.67" fill="#262626" text-anchor="middle">34.688</text>
<text x="962.2" y="754.5" font-size="41.67" fill="#262626" text-anchor="middle">34.689</text>
<path d="M222.5 654.2v31.1M370.5 654.2v31.1M518.4 654.2v31.1M666.3 654.2v31.1M814.3 654.2v31.1" stroke="#262626" stroke-width="4.2" fill="none"/>
<text x="103.2" y="74.9" font-size="66.00" text-anchor="middle">(e)</text>
<text x="517.5" y="100.2" font-size="66.67" text-anchor="middle">4000 m</text>
<text x="757" y="636.4" font-size="66.67" font-style="italic">S</text><text x="947.9" y="636.4" font-size="66.67" text-anchor="end">(psu)</text>
</g>
<g transform="translate(2385.3 982.1)">
<svg x="0" y="0" width="1037.0" height="778.0" overflow="hidden">
<g shape-rendering="geometricPrecision"><path d="M308 554l-15 -16l-31 0l-16 -15l-16 0l-15 -16l-31 0l-16 -15l-15 0l0 -16l15 -15l0 -16l16 -15l0 -16l31 -31l0 -16l31 -31l0 -15l16 0l15 -16l16 0l15 -15l31 0l16 -16l31 0l15 -16l32 0l15 -15l31 0l16 -16l31 0l15 -15l47 0l16 -16l31 0l15 16l16 0l31 31l16 0l15 15l16 0l0 78l15 16l0 109l-15 15l-31 0l-16 16l-78 0l-15 15l-78 0l-16 16l-93 0l-16 15l-77 0z" fill="#0074f7"/><path d="M636 212l-32 -2l-9 -6l-7 8l-47 0l-15 15l-31 0l-16 16l-31 0l-15 15l-32 0l-15 16l-31 0l-16 16l-31 0l-15 15l-16 0l-15 16l-16 0l0 15l-31 31l0 16l-31 31l0 16l-16 15l0 16l-15 15l0 16l15 0l16 15l31 0l15 16l16 0l16 15l31 0l15 16l16 -16l77 0l16 -15l93 0l16 -16l78 0l15 -15l78 0l16 -16l31 0l15 -15l0 -109l-15 -16l0 -78l-16 0l-15 -15l-16 0l-31 -31l-16 0l-2 -2z" fill="#00bcfb"/><path d="M673 218l-23 16l-15 8l-47 -17l-16 -13l-31 0l-15 15l-31 0l-16 16l-31 0l-15 15l-32 0l-15 16l-31 0l-16 16l-31 0l-15 15l-16 0l-15 16l-16 0l0 15l-31 31l0 16l-31 31l0 16l-16 15l0 16l-15 15l0 16l15 0l16 15l31 0l15 16l16 0l16 15l31 0l15 16l16 -16l77 0l16 -15l93 0l16 -16l78 0l15 -15l78 0l16 -16l31 0l15 -15l0 -109l-15 -16l0 -78l-16 0l-15 -15l-16 0z" fill="#00f4f4"/><path d="M683 229l-17 10l-16 14l-15 6l-31 -12l-31 -8l-35 -24l-12 12l-31 0l-16 16l-31 0l-15 15l-32 0l-15 16l-31 0l-16 16l-31 0l-15 15l-16 0l-15 16l-16 0l0 15l-31 31l0 16l-31 31l0 16l-16 15l0 16l-15 15l0 16l15 0l16 15l31 0l15 16l16 0l16 15l31 0l15 16l16 -16l77 0l16 -15l93 0l16 -16l78 0l15 -15l78 0l16 -16l31 0l15 -15l0 -109l-15 -16l0 -78l-16 0l-15 -15l-16 0z" fill="#00ddb1"/><path d="M693 239l-27 12l-16 16l-15 3l-16 -1l-15 -4l-16 -8l-15 -2l-16 -5l-12 -7l-21 -16l-29 0l-16 16l-31 0l-15 15l-32 0l-15 16l-31 0l-16 16l-31 0l-15 15l-16 0l-15 16l-16 0l0 15l-31 31l0 16l-31 31l0 16l-16 15l0 16l-15 15l0 16l15 0l16 15l31 0l15 16l16 0l16 15l31 0l15 16l16 -16l77 0l16 -15l93 0l16 -16l78 0l15 -15l78 0l16 -16l31 0l15 -15l0 -109l-15 -16l0 -78l-16 0l-15 -15l-16 0z" fill="#00c56e"/><path d="M715 245l-34 10l-15 7l-16 17l-31 4l-15 0l-31 -10l-16 -3l-31 -14l-16 -5l-15 -10l-10 -4l-6 6l-31 0l-15 15l-32 0l-15 16l-31 0l-16 16l-31 0l-15 15l-16 0l-15 16l-16 0l0 15l-31 31l0 16l-31 31l0 16l-16 15l0 16l-15 15l0 16l15 0l16 15l31 0l15 16l16 0l16 15l31 0l15 16l16 -16l77 0l16 -15l93 0l16 -16l78 0l15 -15l78 0l16 -16l31 0l15 -15l0 -109l-15 -16l0 -78l-16 0z" fill="#00ae2b"/><path d="M225 367l-10 8l0 8l-31 31l0 16l-16 15l0 16l-15 15l0 16l15 0l16 15l31 0l15 16l16 0l16 15l31 0l15 16l16 -16l77 0l16 -15l93 0l16 -16l78 0l15 -15l78 0l16 -16l31 0l15 -15l0 -109l-15 -16l0 -78l-16 0l-3 -3l-12 6l-32 6l-15 5l-16 16l-31 7l-15 0l-39 -5l-8 -3l-16 -7l-46 -9l-16 -5l-31 -6l-12 -5l-3 3l-32 0l-15 16l-31 0l-16 16l-31 0l-15 15l-16 0l-15 16l-16 0l0 15l-19 19z" fill="#40bf18"/><path d="M258 336l6 16l-9 15l-14 16l-11 8l-15 6l-15 1l-16 16l0 16l-16 15l0 16l-15 15l0 16l15 0l16 15l31 0l15 16l16 0l16 15l31 0l15 16l16 -16l77 0l16 -15l93 0l16 -16l78 0l15 -15l78 0l16 -16l31 0l15 -15l0 -109l-15 -16l0 -75l-16 8l-15 5l-32 6l-15 7l-16 11l-15 6l-16 1l-31 -3l-15 0l-32 -8l-15 -2l-16 3l-31 -9l-15 -2l-78 1l-16 2l-15 4l-31 13l-16 2l-14 -2l-1 1l-16 0l-15 16l-6 0z" fill="#8cd90e"/><path d="M728 285l-47 10l-31 16l-15 4l-31 -1l-16 -2l-15 2l-32 -9l-15 -2l-16 5l-31 -7l-15 -2l-16 1l-62 10l-16 4l-62 21l-3 1l-8 16l-5 15l-16 16l-46 25l-15 4l-31 3l0 15l-16 15l0 16l-15 15l0 16l15 0l16 15l31 0l15 16l16 0l16 15l31 0l15 16l16 -16l77 0l16 -15l93 0l16 -16l78 0l15 -15l78 0l16 -16l31 0l15 -15l0 -109l-15 -16l0 -58z" fill="#d9f205"/><path d="M728 304l-47 8l-15 5l-16 9l-46 3l-16 -2l-15 1l-16 -6l-16 -3l-15 0l-16 2l-31 -5l-15 -2l-16 2l-31 16l-47 11l-31 12l-15 13l-16 18l-15 12l-47 22l-16 4l-50 9l-12 12l0 16l-15 15l0 16l15 0l16 15l31 0l15 16l16 0l16 15l31 0l15 16l16 -16l77 0l16 -15l93 0l16 -16l78 0l15 -15l78 0l16 -16l31 0l15 -15l0 -109l-15 -16l0 -36z" fill="#fff100"/><path d="M744 320l-31 8l-16 1l-16 -1l-15 3l-16 9l-31 2l-15 4l-16 1l-47 -9l-31 4l-15 -2l-16 -5l-15 -2l-16 7l-15 16l-47 15l-29 12l-18 10l-29 21l-17 8l-31 13l-16 4l-28 6l-19 6l-31 7l0 3l-15 15l0 16l15 0l16 15l31 0l15 16l16 0l16 15l31 0l15 16l16 -16l77 0l16 -15l93 0l16 -16l78 0l15 -15l78 0l16 -16l31 0l15 -15l0 -109l-15 -16z" fill="#ffd400"/><path d="M744 345l-31 9l-16 -2l-16 -6l-15 -1l-16 8l-15 2l-16 -1l-15 4l-16 1l-31 -6l-16 0l-15 7l-16 -1l-15 -3l-16 -1l-15 4l-9 8l-7 4l-31 12l-113 62l-11 4l-31 8l-63 19l-15 3l-31 5l0 8l15 0l16 15l31 0l15 16l16 0l16 15l31 0l15 16l16 -16l77 0l16 -15l93 0l16 -16l78 0l15 -15l78 0l16 -16l31 0l15 -15l0 -109l-6 -7z" fill="#ffb800"/><path d="M722 476l18 -31l4 -15l-2 -16l-10 -16l-4 -3l-31 -17l-16 -12l-15 -6l-16 4l-31 1l-15 3l-16 1l-15 -5l-16 -1l-16 2l-15 9l-31 -5l-16 4l-10 10l-5 16l-16 -11l-15 4l-10 6l-6 7l-12 9l-19 8l-66 39l-12 6l-46 11l-81 27l3 2l31 0l15 16l16 0l16 15l31 0l15 16l16 -16l77 0l16 -15l93 0l16 -16l78 0l15 -15l78 0l16 -16z" fill="#ff9800"/><path d="M681 483l19 -38l5 -15l-6 -16l-10 -16l-14 -15l-9 -7l-31 -2l-31 3l-47 -1l-16 4l-7 3l-8 7l-31 -7l-16 10l-3 5l-12 13l-16 -9l-15 9l-16 17l-31 11l-16 11l-46 29l-16 7l-31 7l-56 21l9 9l16 0l16 15l31 0l15 16l16 -16l77 0l16 -15l93 0l16 -16l78 0l15 -15l55 0z" fill="#ff6800"/><path d="M640 492l-6 -16l1 -1l15 -10l9 -4l7 -8l3 -8l5 -15l0 -16l-7 -16l-17 -12l-15 -2l-16 2l-31 -1l-15 5l-16 3l-31 16l-31 -5l-9 10l-4 16l-3 1l-15 -3l-16 -5l-15 13l-16 8l-16 4l-15 7l-31 23l-31 20l-16 7l-59 21l13 12l31 0l15 16l16 -16l77 0l16 -15l93 0l16 -16l78 0l15 -15z" fill="#ff3800"/><path d="M588 492l16 -2l8 -14l13 -15l15 -16l9 -15l4 -16l-3 -5l-15 -10l-31 -2l-16 0l-15 7l-32 25l-15 -2l-6 3l-10 13l-2 2l-13 5l-16 -4l-15 2l-31 8l-16 2l-16 6l-15 9l-16 14l-31 22l-15 8l-47 21l16 0l15 16l16 -16l77 0l16 -15l93 0l16 -16l58 0zM542 476l-1 1l0 -1z" fill="#ff0800"/><path d="M571 430l0 15l2 2l15 12l16 -4l12 -10l5 -15l-2 -4l-11 -12l-4 -1l-16 0zM389 492l-19 18l-15 11l-16 10l-15 7l-21 11l5 5l16 -16l77 0l16 -15l93 0l17 -16l-17 -18l-15 -4l-16 -8l-15 -2l-16 -1l-15 3l-16 -2l-16 7z" fill="#d40024"/><path d="M468 507l-4 -3l-16 -4l-15 -3l-16 2l-15 8l-16 22l-11 9l26 0l16 -15l60 0z" fill="#a2004f"/></g>
<use href="#ctr"/>
<path d="M611 203L587 210M595 210L587 210L594 206M518 235L467 225M483 232L467 225L485 224M565 235L523 219M535 228L523 219L538 221M611 235L575 237M587 239L575 237L587 233M658 235L619 263M634 257L619 263L630 250M424 266L394 271M405 272L394 271L404 267M471 266L438 262M448 266L438 262L449 261M518 266L458 256M477 264L458 256L479 255M565 266L487 256M512 265L487 256L514 253M611 266L537 262M561 269L537 262L562 258M658 266L590 293M615 289L590 293L611 278M705 266L649 299M670 292L649 299L665 283M332 297L300 316M312 312L300 316L309 307M378 297L348 310M359 308L348 310L357 304M424 297L380 302M395 304L380 302L395 297M471 297L411 308M432 309L411 308L430 299M518 297L413 308M448 313L413 308L447 296M565 297L467 295M499 303L467 295L500 288M611 297L509 287M542 299L509 287L543 282M658 297L562 333M596 329L562 333L591 314M705 297L630 334M658 327L630 334L652 316M284 328L268 338M274 336L268 338L272 333M332 328L292 352M307 347L292 352L303 341M378 328L301 347M328 347L301 347L325 335M424 328L356 335M379 338L356 335L378 327M471 328L418 350M438 347L418 350L434 339M518 328L454 350M477 348L454 350L473 338M565 328L454 350M492 352L454 350L489 334M611 328L492 320M531 332L492 320L532 313M658 328L534 350M577 352L534 350L574 333M705 328L624 353M652 352L624 353L648 339M238 360L216 359M223 361L216 359L223 357M284 360L256 378M267 374L256 378L264 369M332 360L274 393M296 387L274 393L290 377M378 360L304 378M330 378L304 378L327 366M424 360L353 358M376 364L353 358L377 353M471 360L415 380M435 378L415 380L432 369M518 360L463 398M484 390L463 398L478 381M565 360L495 388M520 384L495 388L516 373M611 360L534 349M559 358L534 349L561 346M658 360L589 372M613 373L589 372L611 362M705 360L655 365M672 367L655 365L671 359M751 360L729 368M737 367L729 368L736 363M238 390L206 388M217 391L206 388L217 386M284 390L257 416M268 409L257 416L264 405M332 390L278 434M299 424L278 434L292 415M378 390L316 414M339 411L316 414L335 401M424 390L364 381M383 389L364 381L384 379M471 390L421 401M439 401L421 401L437 393M518 390L481 430M496 419L481 430L490 414M565 390L527 427M543 417L527 427L537 412M611 390L567 383M581 389L567 383L582 382M658 390L636 387M643 390L636 387L644 386M705 390L691 373M694 380L691 373L697 378M751 390L745 393M748 392L745 393L747 392M192 422L156 437M169 435L156 437L166 429M238 422L197 418M210 423L197 418L211 416M284 422L249 442M262 438L249 442L259 432M332 422L294 466M310 454L294 466L303 449M378 422L337 452M353 445L337 452L348 439M424 422L376 412M391 419L376 412L393 411M471 422L435 417M447 422L435 417L447 416M518 422L495 446M504 440L495 446L501 436M565 422L556 445M560 438L556 445L557 437M611 408L612 421M613 417L612 421L611 417M667 413L658 421M662 419L658 421L660 418M713 408L705 421M709 418L705 421L707 416M751 422L756 429M755 426L756 429L754 427M192 452L167 471M177 467L167 471L174 463M238 452L204 455M215 457L204 455L215 452M284 452L251 466M263 464L251 466L261 459M332 452L307 495M319 483L307 495L312 479M378 452L361 483M369 474L361 483L364 471M424 452L397 449M406 453L397 449L406 448M471 452L437 446M448 451L437 446L449 446M518 452L503 464M509 461L503 464L507 459M565 452L581 464M576 459L581 464L575 461M611 452L631 437M623 440L631 437L626 443M658 452L671 445M667 447L671 445L668 449M705 452L716 449M712 449L716 449L712 451M751 452L756 472M756 465L756 472L753 466M192 484L178 506M184 500L178 506L181 498M238 484L214 491M222 491L214 491L221 487M284 484L256 494M266 493L256 494L265 489M332 484L312 518M321 508L312 518L316 505M378 484L378 515M380 505L378 515L376 505M424 484L417 487M420 487L417 487L419 486M471 484L457 475M461 479L457 475L463 477M518 484L512 482M514 483L512 482L514 482M565 484L572 492M570 489L572 492L569 490M611 484L627 465M620 470L627 465L623 472M658 484L681 476M673 477L681 476L674 480M238 515L233 524M235 521L233 524L234 521M284 515L275 525M279 523L275 525L277 521M332 515L321 544M327 535L321 544L322 533M378 515L373 542M377 534L373 542L372 533M424 515L416 521M419 520L416 521L419 518M471 515L463 504M465 508L463 504L466 507" fill="none" stroke="#000" stroke-width="4.8" stroke-linejoin="round"/><g fill="#000"></g>
</svg>
<rect x="0" y="0" width="1037.0" height="778.0" fill="none" stroke="#262626" stroke-width="4.5"/>
<path d="M0.0 0V-18M0.0 778.0v18M259.2 0V-18M259.2 778.0v18M518.5 0V-18M518.5 778.0v18M777.8 0V-18M777.8 778.0v18M1037.0 0V-18M1037.0 778.0v18M0 0.0h-18M1037.0 0.0h18M0 259.3h-18M1037.0 259.3h18M0 518.7h-18M1037.0 518.7h18M0 778.0h-18M1037.0 778.0h18" stroke="#262626" stroke-width="4.5" fill="none"/>
<rect x="74.6" y="654.2" width="887.6" height="31.1" fill="url(#cm2)" stroke="#262626" stroke-width="4.6"/>
<text x="74.6" y="754.5" font-size="41.67" fill="#262626" text-anchor="middle">45.86</text>
<text x="370.5" y="754.5" font-size="41.67" fill="#262626" text-anchor="middle">45.865</text>
<text x="666.3" y="754.5" font-size="41.67" fill="#262626" text-anchor="middle">45.87</text>
<text x="962.2" y="754.5" font-size="41.67" fill="#262626" text-anchor="middle">45.875</text>
<path d="M370.5 654.2v31.1M666.3 654.2v31.1" stroke="#262626" stroke-width="4.2" fill="none"/>
<text x="103.2" y="74.9" font-size="66.00" text-anchor="middle">(f)</text>
<text x="517.5" y="100.2" font-size="66.67" text-anchor="middle">4000 m</text>
<text x="706" y="623" font-size="66.67" font-style="italic">σ</text>
<text x="749.8" y="651.9" font-size="50">4</text>
<text x="797.5" y="623" font-size="66.67">(kg m</text>
<text x="956.4" y="591" font-size="50.00">-3</text>
<text x="1004.8" y="623" font-size="66.67">)</text>
<text x="43.3" y="186.5" font-size="66.67">5 cm s</text>
<text x="218.4" y="154.4" font-size="50.00">-1</text>
<use href="#arr" transform="translate(103.4 207.5)"/>
</g>
<g transform="translate(235.7 1844.1)">
<svg x="0" y="0" width="1037.0" height="778.0" overflow="hidden">
<g shape-rendering="geometricPrecision"><path d="M308 554l-15 -16l-31 0l-16 -15l-16 0l-15 -16l-31 0l-16 -15l-15 0l0 -16l15 -15l0 -16l16 -15l0 -16l31 -31l0 -16l31 -31l0 -15l16 0l15 -16l16 0l15 -15l31 0l16 -16l31 0l15 -16l32 0l15 -15l31 0l16 -16l31 0l15 -15l47 0l16 -16l31 0l15 16l16 0l31 31l16 0l15 15l16 0l0 78l15 16l0 109l-15 15l-31 0l-16 16l-78 0l-15 15l-78 0l-16 16l-93 0l-16 15l-77 0z" fill="#5588be"/><path d="M744 450l-16 -6l-15 -2l-32 0l-31 -5l-15 0l-16 2l-31 8l-15 0l-16 -3l-16 -10l-4 -4l3 -16l17 -16l30 -15l32 -1l31 -4l22 -11l25 -7l16 1l31 -4l15 2l0 -7l-15 -16l0 -78l-16 0l-15 -15l-16 0l-31 -31l-16 0l-15 -16l-31 0l-16 16l-47 0l-15 15l-31 0l-16 16l-31 0l-15 15l-32 0l-15 16l-31 0l-16 16l-31 0l-15 15l-16 0l-15 16l-16 0l0 15l-31 31l0 16l-31 31l0 16l-16 15l0 16l-15 15l0 16l15 0l16 15l31 0l15 16l16 0l16 15l31 0l15 16l16 -16l77 0l16 -15l4 0l12 -11l15 2l11 9l51 0l16 -16l78 0l15 -15l78 0l16 -16l31 0l15 -15z" fill="#6398c6"/><path d="M335 538l25 -15l20 -16l7 -15l9 -16l5 -16l14 -15l2 -5l9 -10l7 -7l15 -10l16 -4l15 -10l16 -2l22 -14l9 -2l31 -4l16 -4l46 -2l31 -5l47 -17l31 -3l26 1l-10 -11l0 -78l-16 0l-15 -15l-16 0l-31 -31l-16 0l-15 -16l-31 0l-16 16l-47 0l-15 15l-31 0l-16 16l-31 0l-15 15l-32 0l-15 16l-31 0l-16 16l-31 0l-15 15l-16 0l-15 16l-16 0l0 15l-31 31l0 16l-31 31l0 16l-16 15l0 16l-15 15l0 16l15 0l16 15l31 0l15 16l16 0l16 15l31 0l15 16l16 -16zM573 486l-8 6l-9 15l48 0l15 -15l78 0l16 -16l8 0l-8 -3l-16 -2l-31 -2l-16 -3l-15 0l-16 4l-15 6l-16 3z" fill="#71a9cf"/><path d="M295 541l22 -18l22 -10l16 -10l15 -18l6 -9l35 -62l6 -6l31 -20l16 0l31 -13l15 -4l16 0l15 -5l32 -4l31 -1l46 -4l47 -16l31 -5l16 1l0 -79l-16 0l-15 -15l-16 0l-31 -31l-16 0l-15 -16l-31 0l-16 16l-47 0l-15 15l-31 0l-16 16l-31 0l-15 15l-32 0l-15 16l-31 0l-16 16l-31 0l-15 15l-16 0l-15 16l-16 0l0 15l-31 31l0 16l-31 31l0 16l-16 15l0 16l-15 15l0 16l15 0l16 15l31 0l15 16l16 0l16 15l31 0z" fill="#80b7d6"/><path d="M259 536l15 -13l19 -11l9 -5l38 -15l15 -14l15 -19l16 -29l6 -16l9 -14l16 -11l31 -16l16 1l15 -2l16 -9l15 -2l16 0l47 -8l15 1l62 -7l63 -19l31 -4l0 -66l-16 0l-15 -15l-16 0l-31 -31l-16 0l-15 -16l-31 0l-16 16l-47 0l-15 15l-31 0l-16 16l-31 0l-15 15l-32 0l-15 16l-31 0l-16 16l-31 0l-15 15l-16 0l-15 16l-16 0l0 15l-31 31l0 16l-31 31l0 16l-16 15l0 16l-15 15l0 16l15 0l16 15l31 0l15 16l16 0z" fill="#91c4dd"/><path d="M246 512l16 -11l46 -15l16 -7l15 -10l16 -15l7 -9l8 -15l13 -32l18 -18l16 -7l31 -12l31 0l16 -6l15 -3l31 -3l32 -5l77 -7l94 -29l0 -50l-16 0l-15 -15l-16 0l-31 -31l-16 0l-15 -16l-31 0l-16 16l-47 0l-15 15l-31 0l-16 16l-31 0l-15 15l-32 0l-15 16l-31 0l-16 16l-31 0l-15 15l-16 0l-15 16l-16 0l0 15l-31 31l0 16l-31 31l0 16l-16 15l0 16l-15 15l0 16l15 0l16 15l31 0l15 16l7 0z" fill="#a1d1e5"/><path d="M218 510l12 -20l16 -7l47 -8l15 -6l16 -9l15 -12l16 -17l11 -33l11 -15l9 -8l15 -10l47 -14l31 -1l31 -9l31 -1l16 -2l16 -4l15 -2l16 0l31 -6l15 0l16 -5l15 -6l32 -11l31 -15l0 -31l-16 0l-15 -15l-16 0l-31 -31l-16 0l-15 -16l-31 0l-16 16l-47 0l-15 15l-31 0l-16 16l-31 0l-15 15l-32 0l-15 16l-31 0l-16 16l-31 0l-15 15l-16 0l-15 16l-16 0l0 15l-31 31l0 16l-31 31l0 16l-16 15l0 16l-15 15l0 16l15 0l16 15l31 0z" fill="#b1dceb"/><path d="M196 507l13 -31l6 -5l15 -7l32 1l15 -2l16 -4l15 -7l28 -22l10 -16l5 -16l8 -15l11 -12l16 -11l15 -7l47 -11l16 -2l15 0l16 -2l15 -7l47 -2l16 -6l15 -2l16 0l15 -1l16 -5l15 0l47 -19l47 -24l0 -14l-16 0l-15 -15l-16 0l-31 -31l-16 0l-15 -16l-31 0l-16 16l-47 0l-15 15l-31 0l-16 16l-31 0l-15 15l-32 0l-15 16l-31 0l-16 16l-31 0l-15 15l-16 0l-15 16l-16 0l0 15l-31 31l0 16l-31 31l0 16l-16 15l0 16l-15 15l0 16l15 0l16 15z" fill="#c2e4ef"/><path d="M180 503l11 -27l8 -13l16 -10l15 -5l32 2l15 -2l16 -4l15 -11l4 -3l14 -16l16 -31l14 -16l14 -11l16 -8l15 -5l32 -7l15 -5l16 -2l15 1l16 -3l15 -7l47 -1l16 -6l46 -4l16 -4l15 -1l30 -14l17 -7l16 -10l31 -15l-16 0l-15 -15l-16 0l-31 -31l-16 0l-15 -16l-31 0l-16 16l-47 0l-15 15l-31 0l-16 16l-31 0l-15 15l-32 0l-15 16l-31 0l-16 16l-31 0l-15 15l-16 0l-15 16l-16 0l0 15l-31 31l0 16l-31 31l0 16l-16 15l0 16l-15 15l0 16l15 0z" fill="#d2ecf4"/><path d="M168 492l16 -38l15 -23l16 -5l15 -1l16 2l16 0l15 -3l16 -10l15 -14l13 -17l16 -16l22 -15l11 -7l31 -12l32 -6l15 -7l31 -2l31 -6l16 -1l62 -10l31 -2l16 -4l15 -2l47 -22l28 -16l-12 -12l-16 0l-31 -31l-16 0l-15 -16l-31 0l-16 16l-47 0l-15 15l-31 0l-16 16l-31 0l-15 15l-32 0l-15 16l-31 0l-16 16l-31 0l-15 15l-16 0l-15 16l-16 0l0 15l-31 31l0 16l-31 31l0 16l-16 15l0 16l-15 15l0 16z" fill="#f4e2a5"/><path d="M184 414l31 -8l15 -1l16 3l16 -1l15 -4l16 -9l27 -27l21 -15l27 -16l18 -6l47 -12l15 -6l31 -5l16 -4l31 -1l15 -4l32 -2l31 -6l15 -1l31 -6l47 -23l20 -12l-4 -5l-16 0l-31 -31l-16 0l-15 -16l-31 0l-16 16l-47 0l-15 15l-31 0l-16 16l-31 0l-15 15l-32 0l-15 16l-31 0l-16 16l-31 0l-15 15l-16 0l-15 16l-16 0l0 15l-31 31l0 16zM153 476l0 -1l0 2z" fill="#fbda90"/><path d="M215 392l15 -1l32 4l15 -5l16 -9l12 -14l20 -15l30 -19l15 -7l78 -22l47 -9l31 -1l15 -4l32 -2l15 -4l47 -6l15 -4l31 -16l26 -15l-10 0l-31 -31l-16 0l-15 -16l-31 0l-16 16l-47 0l-15 15l-31 0l-16 16l-31 0l-15 15l-32 0l-15 16l-31 0l-16 16l-31 0l-15 15l-16 0l-15 16l-16 0l0 15l-31 31l0 16l-13 13z" fill="#fdcb7d"/><path d="M215 378l15 0l32 3l15 -4l62 -45l16 -9l15 -5l63 -19l46 -10l16 -2l31 -2l15 -4l32 0l15 -5l31 -4l16 -3l15 -5l44 -24l-28 -28l-16 0l-15 -16l-31 0l-16 16l-47 0l-15 15l-31 0l-16 16l-31 0l-15 15l-32 0l-15 16l-31 0l-16 16l-31 0l-15 15l-16 0l-15 16l-16 0l0 15l-31 31z" fill="#fdba6c"/><path d="M218 364l44 2l15 -4l16 -8l47 -33l15 -7l31 -9l31 -12l62 -13l31 -1l31 -6l32 1l15 -7l31 -4l16 -4l15 -6l38 -19l-22 -22l-16 0l-15 -16l-31 0l-16 16l-47 0l-15 15l-31 0l-16 16l-31 0l-15 15l-32 0l-15 16l-31 0l-16 16l-31 0l-15 15l-16 0l-15 16l-16 0l0 15z" fill="#fba660"/><path d="M234 348l28 0l15 -2l16 -6l46 -31l78 -27l47 -9l15 -2l31 -1l31 -6l32 1l15 -7l31 -4l63 -26l-16 -16l-16 0l-15 -16l-31 0l-16 16l-47 0l-15 15l-31 0l-16 16l-31 0l-15 15l-32 0l-15 16l-31 0l-16 16l-31 0l-15 15l-16 0l-15 16l-16 0l0 15z" fill="#f99155"/><path d="M262 321l15 -1l16 -3l46 -23l66 -20l43 -9l16 -2l46 -2l16 -4l15 -1l16 1l16 -1l15 -8l16 0l15 -4l31 -18l16 -2l9 -3l-9 -9l-16 0l-15 -16l-31 0l-16 16l-47 0l-15 15l-31 0l-16 16l-31 0l-15 15l-32 0l-15 16l-31 0l-16 16l-31 0l-15 15l-16 0l-15 16l-16 0l0 2z" fill="#f67d4b"/><path d="M666 214l2 0l-2 -2l-13 0zM448 254l47 -2l31 -4l31 0l16 -8l15 -2l16 0l31 -19l15 -8l-15 -15l-31 0l-16 16l-47 0l-15 15l-31 0l-16 16l-31 0l-15 15zM396 263l21 -1l14 -4l-30 0z" fill="#f26841"/><path d="M448 243l31 2l47 -7l15 0l16 -2l16 -7l15 1l13 -3l34 -25l5 -1l-5 -5l-31 0l-16 16l-47 0l-15 15l-31 0l-16 16z" fill="#e95639"/><path d="M489 233l52 -5l16 -5l16 -2l15 0l16 -12l15 -8l6 -5l-21 0l-16 16l-47 0l-15 15l-31 0z" fill="#e14430"/><path d="M538 215l19 -3l22 0l-38 0z" fill="#d83228"/></g>
<use href="#ctr"/>
<g fill="#4d4d4d"><circle cx="616.5" cy="189.0" r="7.2"/><circle cx="629.0" cy="187.5" r="7.2"/><circle cx="581.2" cy="229.2" r="7.2"/><circle cx="415.9" cy="247.5" r="7.2"/><circle cx="458.2" cy="253.0" r="7.2"/><circle cx="520.0" cy="261.2" r="7.2"/><circle cx="599.5" cy="255.4" r="7.2"/><circle cx="641.8" cy="262.1" r="7.2"/><circle cx="756.3" cy="263.0" r="7.2"/><circle cx="398.8" cy="272.1" r="7.2"/><circle cx="333.7" cy="283.4" r="7.2"/><circle cx="501.4" cy="280.7" r="7.2"/><circle cx="455.8" cy="290.4" r="7.2"/><circle cx="731.9" cy="277.9" r="7.2"/><circle cx="354.4" cy="308.1" r="7.2"/><circle cx="249.0" cy="311.4" r="7.2"/><circle cx="569.0" cy="310.8" r="7.2"/><circle cx="576.3" cy="309.3" r="7.2"/><circle cx="730.4" cy="309.0" r="7.2"/><circle cx="450.0" cy="333.0" r="7.2"/><circle cx="629.6" cy="332.4" r="7.2"/><circle cx="654.0" cy="340.7" r="7.2"/><circle cx="313.6" cy="355.9" r="7.2"/><circle cx="211.0" cy="363.8" r="7.2"/><circle cx="425.6" cy="358.9" r="7.2"/><circle cx="531.3" cy="364.7" r="7.2"/><circle cx="637.2" cy="361.7" r="7.2"/><circle cx="520.0" cy="375.7" r="7.2"/><circle cx="409.8" cy="376.3" r="7.2"/><circle cx="743.5" cy="374.7" r="7.2"/><circle cx="236.6" cy="382.7" r="7.2"/><circle cx="434.8" cy="396.4" r="7.2"/><circle cx="556.8" cy="402.1" r="7.2"/><circle cx="492.3" cy="415.2" r="7.2"/><circle cx="479.2" cy="426.2" r="7.2"/><circle cx="676.5" cy="419.2" r="7.2"/><circle cx="695.1" cy="417.4" r="7.2"/><circle cx="174.4" cy="425.0" r="7.2"/><circle cx="338.2" cy="427.7" r="7.2"/><circle cx="306.3" cy="436.6" r="7.2"/><circle cx="249.9" cy="463.0" r="7.2"/><circle cx="270.3" cy="466.4" r="7.2"/><circle cx="381.8" cy="466.7" r="7.2"/><circle cx="552.0" cy="467.3" r="7.2"/><circle cx="544.4" cy="476.1" r="7.2"/><circle cx="543.4" cy="488.9" r="7.2"/><circle cx="559.0" cy="487.1" r="7.2"/><circle cx="762.9" cy="467.6" r="7.2"/><circle cx="750.8" cy="477.7" r="7.2"/><circle cx="696.3" cy="493.5" r="7.2"/><circle cx="136.4" cy="489.2" r="7.2"/><circle cx="163.2" cy="502.0" r="7.2"/><circle cx="408.6" cy="515.1" r="7.2"/><circle cx="486.2" cy="516.0" r="7.2"/><circle cx="502.3" cy="513.6" r="7.2"/><circle cx="299.3" cy="555.6" r="7.2"/></g>
</svg>
<rect x="0" y="0" width="1037.0" height="778.0" fill="none" stroke="#262626" stroke-width="4.5"/>
<path d="M0.0 0V-18M0.0 778.0v18M259.2 0V-18M259.2 778.0v18M518.5 0V-18M518.5 778.0v18M777.8 0V-18M777.8 778.0v18M1037.0 0V-18M1037.0 778.0v18M0 0.0h-18M1037.0 0.0h18M0 259.3h-18M1037.0 259.3h18M0 518.7h-18M1037.0 518.7h18M0 778.0h-18M1037.0 778.0h18" stroke="#262626" stroke-width="4.5" fill="none"/>
<rect x="74.6" y="654.2" width="887.6" height="31.1" fill="url(#cm0)" stroke="#262626" stroke-width="4.6"/>
<text x="74.6" y="754.5" font-size="41.67" fill="#262626" text-anchor="middle">1.025</text>
<text x="222.5" y="754.5" font-size="41.67" fill="#262626" text-anchor="middle">1.03</text>
<text x="370.5" y="754.5" font-size="41.67" fill="#262626" text-anchor="middle">1.035</text>
<text x="518.4" y="754.5" font-size="41.67" fill="#262626" text-anchor="middle">1.04</text>
<text x="666.3" y="754.5" font-size="41.67" fill="#262626" text-anchor="middle">1.045</text>
<text x="814.3" y="754.5" font-size="41.67" fill="#262626" text-anchor="middle">1.05</text>
<text x="962.2" y="754.5" font-size="41.67" fill="#262626" text-anchor="middle">1.055</text>
<path d="M222.5 654.2v31.1M370.5 654.2v31.1M518.4 654.2v31.1M666.3 654.2v31.1M814.3 654.2v31.1" stroke="#262626" stroke-width="4.2" fill="none"/>
<text x="103.2" y="74.9" font-size="66.00" text-anchor="middle">(g)</text>
<text x="517.5" y="100.2" font-size="66.67" text-anchor="middle">5000 m</text>
<text x="762.6" y="636.4" font-size="66.67" font-style="italic">θ</text><text x="941.7" y="636.4" font-size="66.67" text-anchor="end">( °C)</text>
</g>
<g transform="translate(1310.3 1844.1)">
<svg x="0" y="0" width="1037.0" height="778.0" overflow="hidden">
<g shape-rendering="geometricPrecision"><path d="M308 554l-15 -16l-31 0l-16 -15l-16 0l-15 -16l-31 0l-16 -15l-15 0l0 -16l15 -15l0 -16l16 -15l0 -16l31 -31l0 -16l31 -31l0 -15l16 0l15 -16l16 0l15 -15l31 0l16 -16l31 0l15 -16l32 0l15 -15l31 0l16 -16l31 0l15 -15l47 0l16 -16l31 0l15 16l16 0l31 31l16 0l15 15l16 0l0 78l15 16l0 109l-15 15l-31 0l-16 16l-78 0l-15 15l-78 0l-16 16l-93 0l-16 15l-77 0z" fill="#162880"/><path d="M635 200l-16 3l-18 -4l-13 13l-47 0l-15 15l-31 0l-16 16l-31 0l-15 15l-32 0l-15 16l-31 0l-16 16l-31 0l-15 15l-16 0l-15 16l-16 0l0 15l-31 31l0 16l-31 31l0 16l-16 15l0 16l-15 15l0 16l15 0l16 15l31 0l15 16l16 0l16 15l31 0l15 16l16 -16l77 0l16 -15l93 0l16 -16l78 0l15 -15l78 0l16 -16l31 0l15 -15l0 -109l-15 -16l0 -78l-16 0l-15 -15l-16 0l-31 -31l-16 0l-13 -14z" fill="#1c218e"/><path d="M652 212l-17 9l-16 2l-15 -4l-25 -7l-38 0l-15 15l-31 0l-16 16l-31 0l-15 15l-32 0l-15 16l-31 0l-16 16l-31 0l-15 15l-16 0l-15 16l-16 0l0 15l-31 31l0 16l-31 31l0 16l-16 15l0 16l-15 15l0 16l15 0l16 15l31 0l15 16l16 0l16 15l31 0l15 16l16 -16l77 0l16 -15l93 0l16 -16l78 0l15 -15l78 0l16 -16l31 0l15 -15l0 -109l-15 -16l0 -78l-16 0l-15 -15l-16 0l-31 -31z" fill="#2212a6"/><path d="M668 214l-18 16l-15 6l-16 1l-31 -4l-15 -4l-29 -17l-3 0l-15 15l-31 0l-16 16l-31 0l-15 15l-32 0l-15 16l-31 0l-16 16l-31 0l-15 15l-16 0l-15 16l-16 0l0 15l-31 31l0 16l-31 31l0 16l-16 15l0 16l-15 15l0 16l15 0l16 15l31 0l15 16l16 0l16 15l31 0l15 16l16 -16l77 0l16 -15l93 0l16 -16l78 0l15 -15l78 0l16 -16l31 0l15 -15l0 -109l-15 -16l0 -78l-16 0l-15 -15l-16 0z" fill="#2511be"/><path d="M675 221l-9 11l-16 11l-15 5l-16 1l-31 -2l-15 -3l-16 -8l-16 -12l-9 -3l-6 6l-31 0l-16 16l-31 0l-15 15l-32 0l-15 16l-31 0l-16 16l-31 0l-15 15l-16 0l-15 16l-16 0l0 15l-31 31l0 16l-31 31l0 16l-16 15l0 16l-15 15l0 16l15 0l16 15l31 0l15 16l16 0l16 15l31 0l15 16l16 -16l77 0l16 -15l93 0l16 -16l78 0l15 -15l78 0l16 -16l31 0l15 -15l0 -109l-15 -16l0 -78l-16 0l-15 -15l-16 0z" fill="#2030d0"/><path d="M681 228l-15 17l-16 9l-15 4l-47 1l-15 -2l-16 -9l-16 -11l-15 -6l-8 -4l-23 0l-16 16l-31 0l-15 15l-32 0l-15 16l-31 0l-16 16l-31 0l-15 15l-16 0l-15 16l-16 0l0 15l-31 31l0 16l-31 31l0 16l-16 15l0 16l-15 15l0 16l15 0l16 15l31 0l15 16l16 0l16 15l31 0l15 16l16 -16l77 0l16 -15l93 0l16 -16l78 0l15 -15l78 0l16 -16l31 0l15 -15l0 -109l-15 -16l0 -78l-16 0l-15 -15l-16 0z" fill="#1950e0"/><path d="M681 242l-15 15l-16 8l-15 3l-47 1l-15 -2l-17 -9l-15 -10l-31 -14l-8 -7l-7 0l-16 16l-31 0l-15 15l-32 0l-15 16l-31 0l-16 16l-31 0l-15 15l-16 0l-15 16l-16 0l0 15l-31 31l0 16l-31 31l0 16l-16 15l0 16l-15 15l0 16l15 0l16 15l31 0l15 16l16 0l16 15l31 0l15 16l16 -16l77 0l16 -15l93 0l16 -16l78 0l15 -15l78 0l16 -16l31 0l15 -15l0 -109l-15 -16l0 -78l-16 0l-15 -15l-16 0l-9 -10z" fill="#176fea"/><path d="M693 239l-12 16l-15 13l-16 7l-15 2l-31 -1l-16 2l-15 -1l-32 -18l-31 -13l-19 -15l-12 12l-31 0l-15 15l-32 0l-15 16l-31 0l-16 16l-31 0l-15 15l-16 0l-15 16l-16 0l0 15l-31 31l0 16l-31 31l0 16l-16 15l0 16l-15 15l0 16l15 0l16 15l31 0l15 16l16 0l16 15l31 0l15 16l16 -16l77 0l16 -15l93 0l16 -16l78 0l15 -15l78 0l16 -16l31 0l15 -15l0 -109l-15 -16l0 -78l-16 0l-15 -15l-16 0z" fill="#1a8dee"/><path d="M700 243l-19 25l-7 6l-8 5l-16 5l-15 2l-16 -1l-31 1l-15 -1l-16 -7l-16 -10l-31 -9l-27 -20l-4 4l-31 0l-15 15l-32 0l-15 16l-31 0l-16 16l-31 0l-15 15l-16 0l-15 16l-16 0l0 15l-31 31l0 16l-31 31l0 16l-16 15l0 16l-15 15l0 16l15 0l16 15l31 0l15 16l16 0l16 15l31 0l15 16l16 -16l77 0l16 -15l93 0l16 -16l78 0l15 -15l78 0l16 -16l31 0l15 -15l0 -109l-15 -16l0 -78l-16 0l-15 -15zM293 357l4 10l0 16l-4 8l-16 -3l-2 -5l2 -16z" fill="#21aeee"/><path d="M710 243l-29 38l-14 9l-17 4l-15 1l-31 -2l-31 1l-16 -6l-16 -9l-15 -3l-16 -1l-15 -8l-7 -9l-20 -15l-20 0l-15 15l-32 0l-15 16l-31 0l-15 15l14 16l-5 16l-25 28l-7 18l-2 16l-7 19l-10 12l-5 5l-16 -4l-15 -17l-5 -15l0 -16l5 -19l6 -12l9 -11l16 -13l15 -9l16 -9l12 -4l-28 0l-15 15l-16 0l-15 16l-16 0l0 15l-31 31l0 16l-31 31l0 16l-16 15l0 16l-15 15l0 16l15 0l16 15l31 0l15 16l16 0l16 15l31 0l15 16l16 -16l77 0l16 -15l93 0l16 -16l78 0l15 -15l78 0l16 -16l31 0l15 -15l0 -109l-15 -16l0 -78l-16 0l-15 -15z" fill="#2dd2eb"/><path d="M250 321l-4 0l0 9zM388 272l-3 18l-4 15l-6 16l-11 15l-16 16l-13 15l-27 68l-15 7l-16 -5l-20 -23l-11 -16l-5 -15l-2 -16l1 -15l3 -13l-28 28l0 16l-31 31l0 16l-16 15l0 16l-15 15l0 16l15 0l16 15l31 0l15 16l16 0l16 15l31 0l15 16l16 -16l77 0l16 -15l93 0l16 -16l78 0l15 -15l78 0l16 -16l31 0l15 -15l0 -109l-15 -16l0 -78l-16 0l-10 -10l-5 6l-16 23l-16 16l-15 8l-16 3l-15 1l-31 -3l-31 1l-16 -4l-16 -7l-15 -2l-16 2l-15 -3l-16 -12l-14 -19l-18 -14l-14 14l-32 0z" fill="#40f0e5"/><path d="M417 260l-8 14l-16 47l-11 15l-31 31l-24 47l-3 20l-4 11l-12 13l-15 5l-16 -5l-15 -16l-30 -44l-7 -15l-4 -22l-6 6l0 16l-31 31l0 16l-16 15l0 16l-15 15l0 16l15 0l16 15l31 0l15 16l16 0l16 15l31 0l15 16l16 -16l77 0l16 -15l93 0l16 -16l78 0l15 -15l78 0l16 -16l31 0l15 -15l0 -109l-15 -16l0 -78l-16 0l-3 -3l-28 36l-16 13l-15 8l-16 3l-15 1l-16 -1l-15 -3l-31 1l-16 -3l-16 -6l-15 -1l-16 4l-15 -1l-16 -6l-13 -10l-18 -25l-9 -7l-4 -2l-2 2l-12 0z" fill="#6cecc3"/><path d="M728 268l-31 38l-16 11l-15 8l-16 5l-15 0l-16 -2l-15 -4l-16 -2l-15 2l-47 -6l-16 5l-15 1l-47 -13l-15 -15l-16 8l-5 17l-13 15l-36 31l-8 12l-20 35l-3 16l-1 15l-7 16l-16 17l-15 8l-16 -5l-15 -15l-24 -36l-13 -16l-10 -16l-6 -10l-25 26l0 16l-16 15l0 16l-15 15l0 16l15 0l16 15l31 0l15 16l16 0l16 15l31 0l15 16l16 -16l77 0l16 -15l93 0l16 -16l78 0l15 -15l27 0l4 -9l16 -17l15 -5l16 11l3 4l3 9l10 -9l31 0l15 -15l0 -109l-15 -16l0 -78l-7 0z" fill="#8eeea2"/><path d="M744 271l-16 17l-15 20l-12 13l-35 27l-8 4l-8 9l-15 -6l-2 -3l-29 -13l-16 -4l-46 1l-16 5l-17 11l-14 15l-16 -5l-15 -10l-31 -9l-16 0l-16 6l-15 10l-16 13l-9 11l-8 15l-11 16l-3 16l0 15l-5 16l-10 19l-9 12l-7 15l-15 25l-16 -4l-15 -24l-16 -32l-4 -11l-12 -22l-15 -17l-14 -8l-8 -9l-9 9l0 16l-16 15l0 16l-15 15l0 16l15 0l16 15l31 0l15 16l16 0l16 15l31 0l15 16l16 -16l77 0l16 -15l93 0l16 -16l78 0l15 -15l6 0l12 -31l10 -31l3 -27l19 11l12 5l16 9l16 15l14 18l7 15l10 0l15 -15l0 -109l-15 -16zM526 456l3 20l-3 4l-2 -4l1 -15z" fill="#a8ed8a"/><path d="M744 294l-21 27l-29 31l-6 15l2 16l9 15l41 47l14 21l5 -5l0 -109l-15 -16zM548 367l-1 16l14 47l6 31l1 15l-2 16l-9 15l38 0l9 -26l3 -20l-1 -31l-7 -63l-11 -11l-8 -4l-7 -1l-7 1l-9 5zM525 508l-15 -11l-4 -5l-6 -16l-5 -7l-16 -15l-4 -9l-3 -31l-5 -16l-11 -15l-8 -8l-15 -11l-16 -5l-16 3l-15 7l-16 13l-10 16l-11 16l-3 16l0 15l-3 16l-14 31l-12 53l7 -7l77 0l16 -15l93 0zM242 523l-14 -62l-8 -16l-5 -6l-13 -9l-18 -10l0 10l-16 15l0 16l-15 15l0 16l15 0l16 15l31 0l15 16z" fill="#c0e57b"/><path d="M744 325l-22 27l-7 15l2 16l10 15l32 39l0 -85l-15 -16zM356 414l-4 16l0 15l-2 16l-9 31l-5 46l65 0l16 -15l93 0l4 -4l-13 -12l-11 -15l-8 -16l-15 -15l-6 -16l-6 -31l-8 -16l-14 -15l-16 -9l-16 0l-15 5l-16 15zM221 514l-1 -22l-6 -31l-12 -16l-22 -11l-12 11l0 16l-15 15l0 16l15 0l16 15l31 0z" fill="#d9d671"/><path d="M756 348l-9 19l4 16l8 11l0 -42zM360 430l-2 31l-7 31l0 46l50 0l16 -15l80 0l-15 -16l-18 -32l-8 -14l-8 -29l-7 -18l-8 -12l-16 -12l-16 -3l-15 5l-16 16l-4 6zM200 492l-12 -31l-4 -4l-16 -4l0 8l-15 15l0 16l15 0l16 15l17 0z" fill="#e3bd62"/><path d="M369 430l-6 62l2 46l36 0l16 -15l61 0l-11 -16l-9 -15l-7 -16l-15 -46l-3 -8l-7 -8l-9 -8l-16 -5l-15 5l-8 8z" fill="#cda150"/><path d="M459 523l-20 -31l-3 -16l-3 -23l-12 -23l-4 -5l-16 -7l-15 8l-2 4l-4 15l-2 16l0 31l5 46l18 0l16 -15z" fill="#b08640"/></g>
<use href="#ctr"/>
<g fill="#4d4d4d"><circle cx="616.5" cy="189.0" r="7.2"/><circle cx="629.0" cy="187.5" r="7.2"/><circle cx="581.2" cy="229.2" r="7.2"/><circle cx="415.9" cy="247.5" r="7.2"/><circle cx="458.2" cy="253.0" r="7.2"/><circle cx="520.0" cy="261.2" r="7.2"/><circle cx="599.5" cy="255.4" r="7.2"/><circle cx="641.8" cy="262.1" r="7.2"/><circle cx="756.3" cy="263.0" r="7.2"/><circle cx="398.8" cy="272.1" r="7.2"/><circle cx="333.7" cy="283.4" r="7.2"/><circle cx="501.4" cy="280.7" r="7.2"/><circle cx="455.8" cy="290.4" r="7.2"/><circle cx="731.9" cy="277.9" r="7.2"/><circle cx="354.4" cy="308.1" r="7.2"/><circle cx="249.0" cy="311.4" r="7.2"/><circle cx="569.0" cy="310.8" r="7.2"/><circle cx="576.3" cy="309.3" r="7.2"/><circle cx="730.4" cy="309.0" r="7.2"/><circle cx="450.0" cy="333.0" r="7.2"/><circle cx="629.6" cy="332.4" r="7.2"/><circle cx="654.0" cy="340.7" r="7.2"/><circle cx="313.6" cy="355.9" r="7.2"/><circle cx="211.0" cy="363.8" r="7.2"/><circle cx="425.6" cy="358.9" r="7.2"/><circle cx="531.3" cy="364.7" r="7.2"/><circle cx="637.2" cy="361.7" r="7.2"/><circle cx="520.0" cy="375.7" r="7.2"/><circle cx="409.8" cy="376.3" r="7.2"/><circle cx="743.5" cy="374.7" r="7.2"/><circle cx="236.6" cy="382.7" r="7.2"/><circle cx="434.8" cy="396.4" r="7.2"/><circle cx="556.8" cy="402.1" r="7.2"/><circle cx="492.3" cy="415.2" r="7.2"/><circle cx="479.2" cy="426.2" r="7.2"/><circle cx="676.5" cy="419.2" r="7.2"/><circle cx="695.1" cy="417.4" r="7.2"/><circle cx="174.4" cy="425.0" r="7.2"/><circle cx="338.2" cy="427.7" r="7.2"/><circle cx="306.3" cy="436.6" r="7.2"/><circle cx="249.9" cy="463.0" r="7.2"/><circle cx="270.3" cy="466.4" r="7.2"/><circle cx="381.8" cy="466.7" r="7.2"/><circle cx="552.0" cy="467.3" r="7.2"/><circle cx="544.4" cy="476.1" r="7.2"/><circle cx="543.4" cy="488.9" r="7.2"/><circle cx="559.0" cy="487.1" r="7.2"/><circle cx="762.9" cy="467.6" r="7.2"/><circle cx="750.8" cy="477.7" r="7.2"/><circle cx="696.3" cy="493.5" r="7.2"/><circle cx="136.4" cy="489.2" r="7.2"/><circle cx="163.2" cy="502.0" r="7.2"/><circle cx="408.6" cy="515.1" r="7.2"/><circle cx="486.2" cy="516.0" r="7.2"/><circle cx="502.3" cy="513.6" r="7.2"/><circle cx="299.3" cy="555.6" r="7.2"/></g>
</svg>
<rect x="0" y="0" width="1037.0" height="778.0" fill="none" stroke="#262626" stroke-width="4.5"/>
<path d="M0.0 0V-18M0.0 778.0v18M259.2 0V-18M259.2 778.0v18M518.5 0V-18M518.5 778.0v18M777.8 0V-18M777.8 778.0v18M1037.0 0V-18M1037.0 778.0v18M0 0.0h-18M1037.0 0.0h18M0 259.3h-18M1037.0 259.3h18M0 518.7h-18M1037.0 518.7h18M0 778.0h-18M1037.0 778.0h18" stroke="#262626" stroke-width="4.5" fill="none"/>
<rect x="74.6" y="654.2" width="887.6" height="31.1" fill="url(#cm1)" stroke="#262626" stroke-width="4.6"/>
<text x="74.6" y="754.5" font-size="41.67" fill="#262626" text-anchor="middle">34.692</text>
<text x="296.5" y="754.5" font-size="41.67" fill="#262626" text-anchor="middle">34.693</text>
<text x="518.4" y="754.5" font-size="41.67" fill="#262626" text-anchor="middle">34.694</text>
<text x="740.3" y="754.5" font-size="41.67" fill="#262626" text-anchor="middle">34.695</text>
<text x="962.2" y="754.5" font-size="41.67" fill="#262626" text-anchor="middle">34.696</text>
<path d="M296.5 654.2v31.1M518.4 654.2v31.1M740.3 654.2v31.1" stroke="#262626" stroke-width="4.2" fill="none"/>
<text x="103.2" y="74.9" font-size="66.00" text-anchor="middle">(h)</text>
<text x="517.5" y="100.2" font-size="66.67" text-anchor="middle">5000 m</text>
<text x="757" y="636.4" font-size="66.67" font-style="italic">S</text><text x="947.9" y="636.4" font-size="66.67" text-anchor="end">(psu)</text>
</g>
<g transform="translate(2385.3 1844.1)">
<svg x="0" y="0" width="1037.0" height="778.0" overflow="hidden">
<g shape-rendering="geometricPrecision"><path d="M308 554l-15 -16l-31 0l-16 -15l-16 0l-15 -16l-31 0l-16 -15l-15 0l0 -16l15 -15l0 -16l16 -15l0 -16l31 -31l0 -16l31 -31l0 -15l16 0l15 -16l16 0l15 -15l31 0l16 -16l31 0l15 -16l32 0l15 -15l31 0l16 -16l31 0l15 -15l47 0l16 -16l31 0l15 16l16 0l31 31l16 0l15 15l16 0l0 78l15 16l0 109l-15 15l-31 0l-16 16l-78 0l-15 15l-78 0l-16 16l-93 0l-16 15l-77 0z" fill="#002cf2"/><path d="M637 199l-18 4l-15 1l-11 3l-5 5l-47 0l-15 15l-31 0l-16 16l-31 0l-15 15l-32 0l-15 16l-31 0l-16 16l-31 0l-15 15l-16 0l-15 16l-16 0l0 15l-31 31l0 16l-31 31l0 16l-16 15l0 16l-15 15l0 16l15 0l16 15l31 0l15 16l16 0l16 15l31 0l15 16l16 -16l77 0l16 -15l93 0l16 -16l78 0l15 -15l78 0l16 -16l31 0l15 -15l0 -109l-15 -16l0 -78l-16 0l-15 -15l-16 0l-31 -31l-16 0z" fill="#0074f7"/><path d="M637 212l-33 4l-16 4l-15 -5l-14 -3l-18 0l-15 15l-31 0l-16 16l-31 0l-15 15l-32 0l-15 16l-31 0l-16 16l-31 0l-15 15l-16 0l-15 16l-16 0l0 15l-31 31l0 16l-31 31l0 16l-16 15l0 16l-15 15l0 16l15 0l16 15l31 0l15 16l16 0l16 15l31 0l15 16l16 -16l77 0l16 -15l93 0l16 -16l78 0l15 -15l78 0l16 -16l31 0l15 -15l0 -109l-15 -16l0 -78l-16 0l-15 -15l-16 0l-31 -31l-16 0l-4 -4z" fill="#00bcfb"/><path d="M650 220l-15 4l-30 3l-17 5l-15 -4l-41 -7l-6 6l-31 0l-16 16l-31 0l-15 15l-32 0l-15 16l-31 0l-16 16l-31 0l-15 15l-16 0l-15 16l-16 0l0 15l-31 31l0 16l-31 31l0 16l-16 15l0 16l-15 15l0 16l15 0l16 15l31 0l15 16l16 0l16 15l31 0l15 16l16 -16l77 0l16 -15l93 0l16 -16l78 0l15 -15l78 0l16 -16l31 0l15 -15l0 -109l-15 -16l0 -78l-16 0l-15 -15l-16 0l-31 -31l-3 0z" fill="#00f4f4"/><path d="M666 223l-16 9l-15 5l-16 1l-31 7l-17 -2l-61 -13l-5 -3l-10 0l-16 16l-31 0l-15 15l-32 0l-15 16l-31 0l-16 16l-31 0l-15 15l-16 0l-15 16l-16 0l0 15l-31 31l0 16l-31 31l0 16l-16 15l0 16l-15 15l0 16l15 0l16 15l31 0l15 16l16 0l16 15l31 0l15 16l16 -16l77 0l16 -15l93 0l16 -16l78 0l15 -15l78 0l16 -16l31 0l15 -15l0 -109l-15 -16l0 -78l-16 0l-15 -15l-16 0l-25 -26z" fill="#00ddb1"/><path d="M678 224l-12 11l-16 9l-15 4l-47 6l-31 -3l-47 -7l-21 -11l-10 10l-31 0l-15 15l-32 0l-15 16l-31 0l-16 16l-31 0l-15 15l-16 0l-15 16l-16 0l0 15l-31 31l0 16l-31 31l0 16l-16 15l0 16l-15 15l0 16l15 0l16 15l31 0l15 16l16 0l16 15l31 0l15 16l16 -16l77 0l16 -15l93 0l16 -16l78 0l15 -15l78 0l16 -16l31 0l15 -15l0 -109l-15 -16l0 -78l-16 0l-15 -15l-16 0z" fill="#00c56e"/><path d="M684 230l-18 16l-16 8l-15 5l-16 2l-31 2l-31 -2l-47 -4l-39 -14l-23 0l-15 15l-32 0l-15 16l-31 0l-16 16l-31 0l-15 15l-16 0l-15 16l-16 0l0 15l-31 31l0 16l-31 31l0 16l-16 15l0 16l-15 15l0 16l15 0l16 15l31 0l15 16l16 0l16 15l31 0l15 16l16 -16l77 0l16 -15l93 0l16 -16l78 0l15 -15l78 0l16 -16l31 0l15 -15l0 -109l-15 -16l0 -78l-16 0l-15 -15l-16 0z" fill="#00ae2b"/><path d="M355 284l-31 19l-16 12l-15 10l-16 3l-20 -7l-11 0l0 15l-31 31l0 16l-31 31l0 16l-16 15l0 16l-15 15l0 16l15 0l16 15l31 0l15 16l16 0l16 15l31 0l15 16l16 -16l77 0l16 -15l93 0l16 -16l78 0l15 -15l78 0l16 -16l31 0l15 -15l0 -109l-15 -16l0 -78l-16 0l-15 -15l-16 0l-8 -8l-8 9l-20 14l-11 5l-31 8l-15 1l-94 -4l-46 -9l-16 -1l-12 -3l-3 3l-32 0l-15 16l-17 0z" fill="#40bf18"/><path d="M696 241l-15 14l-15 10l-47 15l-15 1l-16 -3l-31 1l-31 -2l-16 0l-31 -4l-15 0l-16 -2l-15 -4l-16 2l-16 6l-31 21l-15 13l-21 12l-26 20l-15 10l-16 3l-15 0l-16 -2l-9 -7l-22 22l0 16l-31 31l0 16l-16 15l0 16l-15 15l0 16l15 0l16 15l31 0l15 16l16 0l16 15l31 0l15 16l16 -16l77 0l16 -15l93 0l16 -16l78 0l15 -15l78 0l16 -16l31 0l15 -15l0 -109l-15 -16l0 -78l-16 0l-15 -15l-16 0z" fill="#8cd90e"/><path d="M697 254l-16 12l-14 8l-17 4l-31 11l-15 0l-16 -5l-31 4l-31 -4l-16 2l-31 -3l-15 1l-16 -1l-15 -3l-16 3l-16 8l-15 14l-16 9l-15 13l-14 9l-18 16l-15 11l-15 9l-16 3l-15 1l-16 -2l-16 -9l-6 -7l-9 9l0 16l-31 31l0 16l-16 15l0 16l-15 15l0 16l15 0l16 15l31 0l15 16l16 0l16 15l31 0l15 16l16 -16l77 0l16 -15l93 0l16 -16l78 0l15 -15l78 0l16 -16l31 0l15 -15l0 -109l-15 -16l0 -78l-16 0l-15 -15l-8 0z" fill="#d9f205"/><path d="M715 245l-10 13l-8 10l-9 6l-22 10l-16 3l-15 6l-16 5l-15 0l-16 -7l-31 7l-31 -4l-16 2l-31 -2l-15 2l-31 -3l-16 5l-16 8l-31 22l-27 24l-35 35l-15 12l-16 6l-15 -2l-16 -5l-16 -11l-15 -17l0 13l-31 31l0 16l-16 15l0 16l-15 15l0 16l15 0l16 15l31 0l15 16l16 0l16 15l31 0l15 16l16 -16l77 0l16 -15l93 0l16 -16l78 0l15 -15l78 0l16 -16l31 0l15 -15l0 -109l-15 -16l0 -78l-16 0z" fill="#fff100"/><path d="M723 253l-17 21l-9 7l-31 13l-31 11l-16 2l-31 -3l-31 4l-31 -1l-62 2l-16 -3l-15 2l-16 7l-31 17l-6 4l-18 16l-15 15l-39 49l-15 11l-16 5l-15 -2l-16 -7l-16 -9l-27 -19l-19 19l0 16l-16 15l0 16l-15 15l0 16l15 0l16 15l31 0l15 16l16 0l16 15l31 0l15 16l16 -16l77 0l16 -15l93 0l16 -16l78 0l15 -15l78 0l16 -16l31 0l15 -15l0 -109l-15 -16l0 -78l-16 0z" fill="#ffd400"/><path d="M734 258l-12 16l-9 9l-11 7l-52 23l-31 3l-31 1l-31 3l-16 -1l-46 3l-16 1l-31 -4l-3 2l-28 14l-16 5l-19 12l-16 15l-11 14l-13 17l-18 29l-16 14l-15 9l-16 4l-15 -1l-16 -6l-47 -24l-15 -7l0 14l-16 15l0 16l-15 15l0 16l15 0l16 15l31 0l15 16l16 0l16 15l31 0l15 16l16 -16l77 0l16 -15l93 0l16 -16l78 0l15 -15l78 0l16 -16l31 0l15 -15l0 -109l-15 -16l0 -78z" fill="#ffb800"/><path d="M737 274l-15 16l-9 6l-47 23l-16 5l-31 2l-31 4l-47 1l-46 4l-31 -3l-16 1l-15 12l-14 7l-18 6l-15 10l-16 16l-15 20l-7 10l-9 19l-8 12l-7 9l-16 12l-15 8l-16 2l-31 -1l-16 -6l-10 -8l-21 -9l-11 -7l-15 -4l-5 4l0 16l-15 15l0 16l15 0l16 15l31 0l15 16l16 0l16 15l31 0l15 16l16 -16l77 0l16 -15l93 0l16 -16l78 0l15 -15l78 0l16 -16l31 0l15 -15l0 -109l-15 -16l0 -70z" fill="#ff9800"/><path d="M739 290l-26 20l-47 21l-16 4l-31 0l-15 4l-16 3l-62 0l-31 4l-31 -2l-16 4l-15 14l-32 12l-15 12l-25 28l-8 16l-14 31l-15 21l-10 10l-6 9l-15 15l-16 3l-15 -2l-16 -3l-25 -1l9 10l16 0l16 15l31 0l15 16l16 -16l77 0l16 -15l93 0l16 -16l78 0l15 -15l78 0l16 -16l31 0l15 -15l0 -109l-15 -16l0 -51z" fill="#ff6800"/><path d="M666 487l15 -3l18 5l14 -13l31 0l15 -15l0 -109l-15 -16l0 -35l-16 13l-15 10l-16 5l-31 15l-16 2l-31 0l-15 5l-16 2l-47 3l-15 -3l-31 7l-31 -1l-31 18l-32 11l-15 14l-16 16l-7 12l-8 26l-22 51l-9 29l-3 5l3 -3l77 0l16 -15l93 0l16 -16l78 0l15 -15l32 0z" fill="#ff3800"/><path d="M609 502l10 -30l7 -11l9 -9l15 -3l16 4l31 4l16 4l15 7l13 8l3 0l15 -15l0 -109l-15 -16l0 -18l-16 12l-15 9l-47 20l-16 3l-31 -1l-15 3l-31 2l-16 3l-16 1l-6 -3l-9 -1l-4 1l-11 16l15 13l1 2l2 16l1 16l-4 16l-12 -16l-19 -12l-16 -4l-7 -16l-8 -6l-47 2l-16 7l-28 29l-19 62l-13 46l60 0l16 -15l93 0l16 -16l13 0l-8 -46l10 -10l16 16l7 25l8 15l32 0z" fill="#ff0800"/><path d="M747 339l-34 22l-15 6l-17 11l-10 5l-5 7l-9 8l11 16l38 16l38 12l15 7l0 -97zM383 430l-14 46l-13 62l45 0l16 -15l90 0l-4 -31l-9 -16l-19 -31l-18 -15l-16 -16l-8 -4l-16 -3l-16 6z" fill="#d40024"/><path d="M386 458l-3 18l-7 62l25 0l16 -15l61 0l-6 -16l-3 -15l-17 -31l-15 -16l-4 -9l-8 -6l-8 -5l-16 4l-11 16z" fill="#a2004f"/></g>
<use href="#ctr"/>
<path d="M611 204L602 207M605 207L602 207L605 205M518 235L508 231M511 233L508 231L512 231M565 235L554 231M558 233L554 231L558 231M611 235L601 237M605 237L601 237L604 236M658 235L648 244M652 242L648 244L651 240M424 266L418 267M420 267L418 267L420 266M471 266L464 263M466 264L464 263L467 263M518 266L506 263M510 265L506 263L510 263M565 266L546 266M552 268L546 266L552 265M611 266L590 267M597 269L590 267L597 265M658 266L641 274M647 273L641 274L646 270M705 266L692 275M697 273L692 275L695 271M332 297L325 302M328 301L325 302L327 300M378 297L372 301M374 300L372 301L374 299M424 297L416 297M419 298L416 297L419 297M471 297L459 297M463 298L459 297L463 296M518 297L478 306M492 306L478 306L490 300M565 297L519 300M534 303L519 300L534 296M611 297L565 294M580 299L565 294L580 291M658 297L615 331M632 323L615 331L626 317M705 297L673 328M686 320L673 328L681 315M284 328L280 331M282 331L280 331L282 330M332 328L325 335M328 333L325 335L327 332M378 328L340 333M353 334L340 333L352 328M424 328L386 332M399 333L386 332L399 327M471 328L437 347M449 343L437 347L447 338M518 328L483 349M496 345L483 349L493 339M565 328L511 338M530 339L511 338L528 330M611 328L540 328M564 333L540 328L564 322M658 328L592 355M616 351L592 355L612 341M705 328L665 353M680 348L665 353L676 341M238 360L231 357M233 358L231 357L234 357M284 360L279 363M281 363L279 363L280 362M332 360L297 365M309 366L297 365L308 360M378 360L328 366M345 368L328 366L344 360M424 360L367 366M386 369L367 366L385 359M471 360L419 379M438 377L419 379L435 369M518 360L477 386M493 381L477 386L489 374M565 360L527 374M541 372L527 374L538 366M611 360L577 356M588 360L577 356L588 354M658 360L625 375M638 373L625 375L635 368M705 360L681 377M690 373L681 377L688 369M238 390L231 386M233 388L231 386L234 387M284 390L279 395M281 394L279 395L280 393M332 390L287 402M302 401L287 402L301 394M378 390L334 404M350 403L334 404L347 396M424 390L387 389M399 393L387 389L399 387M471 390L442 401M452 399L442 401L451 395M518 390L500 410M507 405L500 410L504 402M565 390L546 409M554 404L546 409L551 401M611 390L583 393M592 394L583 393L592 390M192 422L186 420M187 421L186 420L188 420M238 422L231 416M233 418L231 416L234 417M284 422L278 425M280 425L278 425L280 423M332 422L308 429M316 429L308 429L315 425M378 422L350 437M360 434L350 437L358 430M424 422L396 418M405 422L396 418L406 417M471 422L465 417M467 419L465 417L467 418M705 422L709 420M708 421L709 420L708 421M192 452L187 453M189 453L187 453L188 452M238 452L232 448M234 450L232 448L234 449M284 452L278 455M280 455L278 455L280 454M332 452L326 463M329 460L326 463L327 459M378 452L374 462M376 459L374 462L375 458M424 452L420 450M421 451L420 450L422 451M471 452L466 448M467 450L466 448L468 449M611 452L615 448M613 449L615 448L614 450M751 452L755 457M754 455L755 457L754 456M238 484L234 481M235 483L234 481L236 482M284 484L278 486M280 486L278 486L280 485M332 484L327 493M329 491L327 493L328 490M378 484L380 492M380 489L380 492L379 490M471 484L468 480M469 482L468 480L469 481M332 515L329 522M331 520L329 522L329 520M378 515L378 522M379 520L378 522L377 520M471 515L469 510M469 512L469 510L470 512" fill="none" stroke="#000" stroke-width="4.8" stroke-linejoin="round"/><g fill="#000"><circle cx="750.0" cy="360.6" r="2.6"/><circle cx="657.2" cy="391.5" r="2.6"/><circle cx="705.7" cy="389.2" r="2.6"/><circle cx="752.5" cy="390.4" r="2.6"/><circle cx="516.4" cy="422.7" r="2.6"/><circle cx="563.8" cy="423.5" r="2.6"/><circle cx="610.5" cy="420.7" r="2.6"/><circle cx="659.8" cy="422.2" r="2.6"/><circle cx="753.3" cy="422.4" r="2.6"/><circle cx="516.4" cy="452.7" r="2.6"/><circle cx="566.1" cy="453.1" r="2.6"/><circle cx="659.8" cy="452.7" r="2.6"/><circle cx="706.9" cy="453.1" r="2.6"/><circle cx="190.4" cy="484.8" r="2.6"/><circle cx="425.0" cy="483.1" r="2.6"/><circle cx="516.4" cy="482.8" r="2.6"/><circle cx="563.8" cy="483.6" r="2.6"/><circle cx="611.9" cy="481.3" r="2.6"/><circle cx="660.3" cy="482.1" r="2.6"/><circle cx="237.3" cy="515.3" r="2.6"/><circle cx="282.9" cy="516.3" r="2.6"/><circle cx="423.7" cy="515.6" r="2.6"/></g>
</svg>
<rect x="0" y="0" width="1037.0" height="778.0" fill="none" stroke="#262626" stroke-width="4.5"/>
<path d="M0.0 0V-18M0.0 778.0v18M259.2 0V-18M259.2 778.0v18M518.5 0V-18M518.5 778.0v18M777.8 0V-18M777.8 778.0v18M1037.0 0V-18M1037.0 778.0v18M0 0.0h-18M1037.0 0.0h18M0 259.3h-18M1037.0 259.3h18M0 518.7h-18M1037.0 518.7h18M0 778.0h-18M1037.0 778.0h18" stroke="#262626" stroke-width="4.5" fill="none"/>
<rect x="74.6" y="654.2" width="887.6" height="31.1" fill="url(#cm2)" stroke="#262626" stroke-width="4.6"/>
<text x="74.6" y="754.5" font-size="41.67" fill="#262626" text-anchor="middle">45.89</text>
<text x="201.4" y="754.5" font-size="41.67" fill="#262626" text-anchor="middle">45.891</text>
<text x="328.2" y="754.5" font-size="41.67" fill="#262626" text-anchor="middle">45.892</text>
<text x="455.0" y="754.5" font-size="41.67" fill="#262626" text-anchor="middle">45.893</text>
<text x="581.8" y="754.5" font-size="41.67" fill="#262626" text-anchor="middle">45.894</text>
<text x="708.6" y="754.5" font-size="41.67" fill="#262626" text-anchor="middle">45.895</text>
<text x="835.4" y="754.5" font-size="41.67" fill="#262626" text-anchor="middle">45.896</text>
<text x="962.2" y="754.5" font-size="41.67" fill="#262626" text-anchor="middle">45.897</text>
<path d="M201.4 654.2v31.1M328.2 654.2v31.1M455.0 654.2v31.1M581.8 654.2v31.1M708.6 654.2v31.1M835.4 654.2v31.1" stroke="#262626" stroke-width="4.2" fill="none"/>
<text x="103.2" y="74.9" font-size="66.00" text-anchor="middle">(i)</text>
<text x="517.5" y="100.2" font-size="66.67" text-anchor="middle">5000 m</text>
<text x="706" y="623" font-size="66.67" font-style="italic">σ</text>
<text x="749.8" y="651.9" font-size="50">4</text>
<text x="797.5" y="623" font-size="66.67">(kg m</text>
<text x="956.4" y="591" font-size="50.00">-3</text>
<text x="1004.8" y="623" font-size="66.67">)</text>
<text x="43.3" y="186.5" font-size="66.67">3 cm s</text>
<text x="218.4" y="154.4" font-size="50.00">-1</text>
<use href="#arr" transform="translate(103.4 207.5)"/>
</g>
<g transform="translate(235.7 2706.1)">
<svg x="0" y="0" width="1037.0" height="778.0" overflow="hidden">
<g shape-rendering="geometricPrecision"><path d="M277 461l16 0l15 -16l62 0l16 -15l78 0l15 -16l62 0l16 -16l62 0l16 -15l62 0l16 -16l31 0l0 -93l-171 0l-16 16l-78 0l-15 15l-78 0l-16 16l-15 0l-31 31l0 15l-16 16l0 15l-15 16l0 31z" fill="#35419b"/><path d="M308 415l16 4l31 14l22 6l9 -9l78 0l15 -16l62 0l16 -16l62 0l16 -15l62 0l16 -16l31 0l0 -93l-171 0l-16 16l-78 0l-15 15l-78 0l-16 16l-15 0l-31 31l0 15l-16 16l0 15l-15 16l0 9z" fill="#3c58a6"/><path d="M308 405l16 2l46 17l22 6l72 0l15 -16l62 0l16 -16l62 0l16 -15l62 0l16 -16l31 0l0 -93l-171 0l-16 16l-78 0l-15 15l-78 0l-16 16l-15 0l-31 31l0 15l-16 16l0 15l-7 8z" fill="#436fb1"/><path d="M697 382l16 -15l31 0l0 -93l-171 0l-16 16l-78 0l-15 15l-78 0l-16 16l-15 0l-31 31l0 15l-16 16l0 12l22 3l56 19l15 4l32 5l31 2l1 0l14 -14l50 0l16 -3l12 -13l62 0l16 -15z" fill="#5284bc"/><path d="M643 383l54 -11l12 -1l4 -4l31 0l0 -93l-171 0l-16 16l-78 0l-15 15l-78 0l-16 16l-15 0l-31 31l0 15l-16 16l0 4l31 5l62 20l47 7l16 1l10 -1l5 -5l24 0l38 -14l13 1l3 -3l48 0l14 -5l11 -5l5 -5z" fill="#6399c6"/><path d="M312 379l43 8l46 16l16 3l31 5l16 1l15 -1l16 -2l15 -6l16 -7l15 -5l32 2l15 -1l16 -4l31 -12l62 -14l16 -2l31 1l0 -87l-171 0l-16 16l-78 0l-15 15l-78 0l-16 16l-15 0l-31 31l0 15z" fill="#74add1"/><path d="M319 372l36 6l46 16l16 4l31 5l16 1l15 0l16 -3l15 -6l16 -8l15 -5l16 2l23 -1l24 -6l29 -10l64 -14l16 -2l31 0l0 -77l-171 0l-16 16l-78 0l-15 15l-78 0l-16 16l-15 0l-31 31l0 15z" fill="#88bdda"/><path d="M324 365l46 9l47 17l31 4l16 1l15 0l16 -3l46 -22l16 2l16 1l15 -3l31 -10l47 -10l31 -9l16 -2l31 -2l0 -64l-171 0l-16 16l-78 0l-15 15l-78 0l-16 16l-15 0l-31 31z" fill="#9ccde2"/><path d="M324 357l46 8l46 18l17 3l31 3l15 -1l16 -3l46 -24l32 2l46 -11l47 -9l31 -11l16 -4l31 -3l0 -51l-171 0l-16 16l-78 0l-15 15l-78 0l-16 16l-15 0l-31 31z" fill="#b0dbea"/><path d="M327 349l28 4l15 3l47 19l16 4l31 2l15 -1l16 -4l46 -24l32 0l31 -7l46 -6l16 -4l31 -13l16 -5l31 -7l0 -36l-171 0l-16 16l-78 0l-15 15l-78 0l-16 16l-15 0z" fill="#c4e5f0"/><path d="M334 341l21 3l15 4l16 6l31 14l16 3l31 2l31 -5l15 -9l16 -6l15 -9l32 -1l28 -7l49 -5l16 -4l31 -16l47 -14l0 -23l-171 0l-16 16l-78 0l-15 15l-78 0l-16 16l-15 0z" fill="#d9eff6"/><path d="M355 335l31 11l31 14l16 3l31 2l31 -6l15 -9l16 -6l15 -9l32 -2l31 -6l31 -1l15 -3l16 -5l31 -17l47 -15l0 -12l-171 0l-16 16l-78 0l-15 15l-78 0l-16 16l-15 0l-13 12z" fill="#f9dd98"/><path d="M349 327l37 12l31 13l16 3l31 1l31 -6l46 -25l16 2l16 -2l15 -5l16 -2l31 -1l15 -3l16 -5l31 -16l47 -15l0 -4l-171 0l-16 16l-78 0l-15 15l-78 0l-16 16l-15 0z" fill="#fdce7f"/><path d="M355 321l62 23l16 3l31 1l15 -2l16 -4l31 -19l15 -8l16 3l47 -9l31 -1l15 -2l16 -6l31 -16l31 -10l-155 0l-16 16l-78 0l-15 15l-78 0l-16 16z" fill="#fdb86b"/><path d="M368 321l18 7l31 9l31 4l16 0l15 -2l16 -5l21 -13l10 -8l15 -7l16 2l16 -1l31 -8l31 0l15 -3l51 -22l-128 0l-16 16l-78 0l-15 15l-78 0l-16 16z" fill="#fba05c"/><path d="M373 318l28 9l16 3l47 4l15 -2l16 -6l31 -23l15 -6l16 2l16 -2l31 -9l15 -1l16 2l15 -2l29 -13l-106 0l-16 16l-78 0l-15 15l-78 0z" fill="#f78650"/><path d="M573 287l31 -9l15 -1l16 2l15 -2l7 -3l-84 0l-15 15zM386 318l15 4l16 2l47 3l15 -2l16 -7l31 -24l11 -4l-58 0l-15 15l-78 0l-9 9z" fill="#f46d43"/><path d="M569 277l12 -3l-8 0zM386 313l15 4l63 4l15 -3l16 -8l25 -20l-41 0l-15 15l-78 0l-6 6z" fill="#e95739"/><path d="M384 307l17 4l32 0l31 3l15 -3l11 -6l18 -15l-29 0l-15 15l-78 0z" fill="#df412f"/><path d="M442 305l22 2l8 -2l7 -3l17 -12l-17 0l-15 15zM401 306l16 0l10 -1l-31 0z" fill="#d22c27"/><path d="M479 291l2 -1l-4 1z" fill="#c01a27"/></g>
<use href="#ctr"/>
<g fill="#4d4d4d"><circle cx="354.4" cy="308.1" r="7.2"/><circle cx="313.6" cy="355.9" r="7.2"/><circle cx="450.0" cy="333.0" r="7.2"/><circle cx="425.6" cy="358.9" r="7.2"/><circle cx="569.0" cy="310.8" r="7.2"/><circle cx="576.3" cy="309.3" r="7.2"/><circle cx="520.0" cy="375.7" r="7.2"/><circle cx="556.8" cy="402.1" r="7.2"/><circle cx="492.3" cy="415.2" r="7.2"/><circle cx="479.2" cy="426.2" r="7.2"/><circle cx="270.7" cy="466.4" r="7.2"/><circle cx="641.8" cy="262.1" r="7.2"/><circle cx="637.2" cy="361.7" r="7.2"/><circle cx="654.0" cy="340.7" r="7.2"/><circle cx="756.3" cy="263.0" r="7.2"/><circle cx="731.9" cy="277.9" r="7.2"/><circle cx="743.5" cy="374.7" r="7.2"/></g>
</svg>
<rect x="0" y="0" width="1037.0" height="778.0" fill="none" stroke="#262626" stroke-width="4.5"/>
<path d="M0.0 0V-18M0.0 778.0v18M259.2 0V-18M259.2 778.0v18M518.5 0V-18M518.5 778.0v18M777.8 0V-18M777.8 778.0v18M1037.0 0V-18M1037.0 778.0v18M0 0.0h-18M1037.0 0.0h18M0 259.3h-18M1037.0 259.3h18M0 518.7h-18M1037.0 518.7h18M0 778.0h-18M1037.0 778.0h18" stroke="#262626" stroke-width="4.5" fill="none"/>
<rect x="74.6" y="654.2" width="887.6" height="31.1" fill="url(#cm0)" stroke="#262626" stroke-width="4.6"/>
<text x="74.6" y="754.5" font-size="41.67" fill="#262626" text-anchor="middle">1.015</text>
<text x="252.1" y="754.5" font-size="41.67" fill="#262626" text-anchor="middle">1.016</text>
<text x="429.6" y="754.5" font-size="41.67" fill="#262626" text-anchor="middle">1.017</text>
<text x="607.2" y="754.5" font-size="41.67" fill="#262626" text-anchor="middle">1.018</text>
<text x="784.7" y="754.5" font-size="41.67" fill="#262626" text-anchor="middle">1.019</text>
<text x="962.2" y="754.5" font-size="41.67" fill="#262626" text-anchor="middle">1.02</text>
<path d="M252.1 654.2v31.1M429.6 654.2v31.1M607.2 654.2v31.1M784.7 654.2v31.1" stroke="#262626" stroke-width="4.2" fill="none"/>
<text x="103.2" y="74.9" font-size="66.00" text-anchor="middle">(j)</text>
<text x="517.5" y="100.2" font-size="66.67" text-anchor="middle">6000 m</text>
<text x="762.6" y="636.4" font-size="66.67" font-style="italic">θ</text><text x="941.7" y="636.4" font-size="66.67" text-anchor="end">( °C)</text>
</g>
<g transform="translate(1310.3 2706.1)">
<svg x="0" y="0" width="1037.0" height="778.0" overflow="hidden">
<g shape-rendering="geometricPrecision"><path d="M277 461l16 0l15 -16l62 0l16 -15l78 0l15 -16l62 0l16 -16l62 0l16 -15l62 0l16 -16l31 0l0 -93l-171 0l-16 16l-78 0l-15 15l-78 0l-16 16l-15 0l-31 31l0 15l-16 16l0 15l-15 16l0 31z" fill="#2511be"/><path d="M386 321l-11 15l-20 16l-31 8l0 7l-16 16l0 15l-15 16l0 31l-16 16l16 0l15 -16l62 0l16 -15l78 0l15 -16l62 0l16 -16l62 0l16 -15l62 0l16 -16l31 0l0 -93l-171 0l-16 16l-78 0l-15 15l-69 0z" fill="#2030d0"/><path d="M415 305l-19 31l-12 16l-29 15l-16 3l-21 3l-10 10l0 15l-15 16l0 31l-16 16l16 0l15 -16l62 0l16 -15l78 0l15 -16l62 0l16 -16l62 0l16 -15l62 0l16 -16l31 0l0 -93l-171 0l-16 16l-78 0l-15 15z" fill="#1950e0"/><path d="M443 305l-26 21l-13 26l-3 3l-23 12l-23 10l-16 3l-30 2l-1 16l-15 16l0 31l-16 16l16 0l15 -16l62 0l16 -15l78 0l15 -16l62 0l16 -16l62 0l16 -15l62 0l16 -16l31 0l0 -93l-171 0l-16 16l-78 0l-15 15z" fill="#176fea"/><path d="M460 305l-12 20l-14 11l-10 16l-13 15l-10 6l-15 4l-31 11l-16 2l-31 2l0 6l-15 16l0 31l-16 16l16 0l15 -16l62 0l16 -15l78 0l15 -16l62 0l16 -16l62 0l16 -15l62 0l16 -16l31 0l0 -93l-171 0l-16 16l-78 0l-15 15z" fill="#1a8dee"/><path d="M473 295l-9 26l-12 15l-19 31l-16 11l-16 8l-31 9l-31 5l-36 3l-10 11l0 31l-16 16l16 0l15 -16l62 0l16 -15l78 0l15 -16l62 0l16 -16l62 0l16 -15l62 0l16 -16l31 0l0 -93l-171 0l-16 16l-78 0z" fill="#21aeee"/><path d="M619 284l-11 -10l-35 0l-16 16l-63 0l-13 15l-4 16l-13 20l-14 26l-2 3l-15 13l-16 11l-47 15l-77 11l0 25l-16 16l16 0l15 -16l62 0l16 -15l78 0l15 -16l62 0l16 -16l62 0l16 -15l62 0l16 -16l31 0l0 -93l-110 0z" fill="#2dd2eb"/><path d="M526 300l-16 3l-15 17l-8 16l-11 16l-14 31l-14 15l-15 8l-63 22l-31 3l-31 6l-15 1l0 7l-16 16l16 0l15 -16l62 0l16 -15l78 0l15 -16l62 0l16 -16l62 0l16 -15l62 0l16 -16l31 0l0 -93l-88 0l-8 16l-13 9l-16 5l-31 -1l-15 -10l-2 -3l2 -16l-16 16l-19 0z" fill="#40f0e5"/><path d="M300 453l-17 2l-6 6l16 0zM666 287l-16 18l-15 9l-16 5l-62 4l-31 8l-16 11l-21 25l-6 16l-4 23l-4 8l-11 7l-27 9l27 0l15 -16l62 0l16 -16l62 0l16 -15l62 0l16 -16l31 0l0 -93l-72 0z" fill="#6cecc3"/><path d="M681 289l-15 21l-16 11l-15 8l-16 4l-46 2l-16 4l-27 13l-18 15l-8 16l-3 31l40 0l16 -16l62 0l16 -15l62 0l16 -16l31 0l0 -93l-57 0z" fill="#8eeea2"/><path d="M697 285l-9 20l-7 9l-15 15l-16 9l-15 6l-16 3l-46 2l-16 6l-16 10l-3 2l-13 16l-3 31l19 0l16 -16l62 0l16 -15l62 0l16 -16l31 0l0 -93l-44 0z" fill="#a8ed8a"/><path d="M711 290l-6 15l-9 16l-15 14l-15 12l-16 7l-15 5l-16 3l-31 2l-15 3l-16 9l-6 7l-6 15l-1 14l13 -14l62 0l16 -15l62 0l16 -16l31 0l0 -93l-32 0z" fill="#c0e57b"/><path d="M726 290l-5 15l-8 23l-5 8l-11 13l-4 3l-12 6l-31 13l-15 4l-36 8l-26 12l-3 3l49 0l16 -15l62 0l16 -16l31 0l0 -93l-17 0z" fill="#d9d671"/><path d="M622 396l-9 2l6 0zM741 274l-13 55l-11 23l-4 6l-16 12l-37 13l37 0l16 -16l31 0l0 -93z" fill="#e3bd62"/><path d="M744 312l-5 24l-6 16l-11 15l22 0z" fill="#cda150"/><path d="M739 367l5 0l0 -9z" fill="#b08640"/></g>
<use href="#ctr"/>
<g fill="#4d4d4d"><circle cx="354.4" cy="308.1" r="7.2"/><circle cx="313.6" cy="355.9" r="7.2"/><circle cx="450.0" cy="333.0" r="7.2"/><circle cx="425.6" cy="358.9" r="7.2"/><circle cx="569.0" cy="310.8" r="7.2"/><circle cx="576.3" cy="309.3" r="7.2"/><circle cx="520.0" cy="375.7" r="7.2"/><circle cx="556.8" cy="402.1" r="7.2"/><circle cx="492.3" cy="415.2" r="7.2"/><circle cx="479.2" cy="426.2" r="7.2"/><circle cx="270.7" cy="466.4" r="7.2"/><circle cx="641.8" cy="262.1" r="7.2"/><circle cx="637.2" cy="361.7" r="7.2"/><circle cx="654.0" cy="340.7" r="7.2"/><circle cx="756.3" cy="263.0" r="7.2"/><circle cx="731.9" cy="277.9" r="7.2"/><circle cx="743.5" cy="374.7" r="7.2"/></g>
</svg>
<rect x="0" y="0" width="1037.0" height="778.0" fill="none" stroke="#262626" stroke-width="4.5"/>
<path d="M0.0 0V-18M0.0 778.0v18M259.2 0V-18M259.2 778.0v18M518.5 0V-18M518.5 778.0v18M777.8 0V-18M777.8 778.0v18M1037.0 0V-18M1037.0 778.0v18M0 0.0h-18M1037.0 0.0h18M0 259.3h-18M1037.0 259.3h18M0 518.7h-18M1037.0 518.7h18M0 778.0h-18M1037.0 778.0h18" stroke="#262626" stroke-width="4.5" fill="none"/>
<rect x="74.6" y="654.2" width="887.6" height="31.1" fill="url(#cm1)" stroke="#262626" stroke-width="4.6"/>
<text x="74.6" y="754.5" font-size="41.67" fill="#262626" text-anchor="middle">34.694</text>
<text x="252.1" y="754.5" font-size="41.67" fill="#262626" text-anchor="middle">34.6945</text>
<text x="429.6" y="754.5" font-size="41.67" fill="#262626" text-anchor="middle">34.695</text>
<text x="607.2" y="754.5" font-size="41.67" fill="#262626" text-anchor="middle">34.6955</text>
<text x="784.7" y="754.5" font-size="41.67" fill="#262626" text-anchor="middle">34.696</text>
<text x="962.2" y="754.5" font-size="41.67" fill="#262626" text-anchor="middle">34.6965</text>
<path d="M252.1 654.2v31.1M429.6 654.2v31.1M607.2 654.2v31.1M784.7 654.2v31.1" stroke="#262626" stroke-width="4.2" fill="none"/>
<text x="103.2" y="74.9" font-size="66.00" text-anchor="middle">(k)</text>
<text x="517.5" y="100.2" font-size="66.67" text-anchor="middle">6000 m</text>
<text x="757" y="636.4" font-size="66.67" font-style="italic">S</text><text x="947.9" y="636.4" font-size="66.67" text-anchor="end">(psu)</text>
</g>
<g transform="translate(2385.3 2706.1)">
<svg x="0" y="0" width="1037.0" height="778.0" overflow="hidden">
<g shape-rendering="geometricPrecision"><path d="M277 461l16 0l15 -16l62 0l16 -15l78 0l15 -16l62 0l16 -16l62 0l16 -15l62 0l16 -16l31 0l0 -93l-171 0l-16 16l-78 0l-15 15l-78 0l-16 16l-15 0l-31 31l0 15l-16 16l0 15l-15 16l0 31z" fill="#00edfe"/><path d="M421 305l-20 5l-23 3l-8 8l-15 0l-31 31l0 15l-16 16l0 15l-15 16l0 31l-16 16l16 0l15 -16l62 0l16 -15l78 0l15 -16l62 0l16 -16l62 0l16 -15l62 0l16 -16l31 0l0 -93l-171 0l-16 16l-78 0l-15 15z" fill="#00e6cd"/><path d="M440 305l-7 6l-16 6l-31 7l-16 1l-25 6l-21 21l0 15l-16 16l0 15l-15 16l0 31l-16 16l16 0l15 -16l62 0l16 -15l78 0l15 -16l62 0l16 -16l62 0l16 -15l62 0l16 -16l31 0l0 -93l-171 0l-16 16l-78 0l-15 15z" fill="#00d190"/><path d="M453 305l-20 18l-16 5l-31 8l-55 9l-7 7l0 15l-16 16l0 15l-15 16l0 31l-16 16l16 0l15 -16l62 0l16 -15l78 0l15 -16l62 0l16 -16l62 0l16 -15l62 0l16 -16l31 0l0 -93l-171 0l-16 16l-78 0l-15 15z" fill="#00bc52"/><path d="M479 295l-26 26l-20 13l-47 14l-62 8l0 11l-16 16l0 15l-15 16l0 31l-16 16l16 0l15 -16l62 0l16 -15l78 0l15 -16l62 0l16 -16l62 0l16 -15l62 0l16 -16l31 0l0 -93l-171 0l-16 16l-69 0z" fill="#0cae1e"/><path d="M522 290l-27 11l-16 10l-15 16l-13 9l-18 10l-15 6l-32 6l-62 9l-16 16l0 15l-15 16l0 31l-16 16l16 0l15 -16l62 0l16 -15l78 0l15 -16l62 0l16 -16l62 0l16 -15l62 0l16 -16l31 0l0 -93l-96 0l-13 5l-16 3l-54 0l-8 8z" fill="#51c516"/><path d="M650 285l-15 5l-16 2l-46 -1l-32 4l-15 5l-16 7l-15 9l-31 26l-16 9l-15 7l-16 5l-16 4l-62 7l-24 2l-7 7l0 15l-15 16l0 31l-16 16l16 0l15 -16l62 0l16 -15l78 0l15 -16l62 0l16 -16l62 0l16 -15l62 0l16 -16l31 0l0 -93l-79 0z" fill="#97dc0d"/><path d="M666 288l-16 10l-15 4l-16 1l-31 -2l-15 0l-32 5l-15 7l-16 8l-46 35l-16 8l-31 10l-16 3l-31 3l-31 4l-31 2l0 12l-15 16l0 31l-16 16l16 0l15 -16l62 0l16 -15l78 0l15 -16l62 0l16 -16l62 0l16 -15l62 0l16 -16l31 0l0 -93l-67 0z" fill="#dcf304"/><path d="M681 287l-15 17l-16 7l-15 3l-16 1l-31 -3l-15 1l-32 7l-15 6l-16 9l-40 32l-6 4l-16 7l-31 9l-16 2l-31 3l-31 4l-31 0l0 2l-15 16l0 31l-16 16l16 0l15 -16l62 0l16 -15l78 0l15 -16l62 0l16 -16l62 0l16 -15l62 0l16 -16l31 0l0 -93l-54 0z" fill="#fff200"/><path d="M702 274l-21 32l-15 13l-16 5l-15 2l-16 0l-31 -2l-15 1l-16 3l-16 5l-15 8l-15 11l-32 28l-15 9l-16 5l-47 8l-46 6l-47 1l-15 4l0 32l-16 16l16 0l15 -16l62 0l16 -15l78 0l15 -16l62 0l16 -16l62 0l16 -15l62 0l16 -16l31 0l0 -93z" fill="#ffd800"/><path d="M714 274l-17 31l-12 16l-19 11l-16 5l-15 1l-62 0l-16 3l-23 11l-18 15l-21 22l-16 12l-15 8l-16 4l-31 2l-47 6l-15 3l-47 -1l-15 4l0 18l-16 16l16 0l15 -16l62 0l16 -15l78 0l15 -16l62 0l16 -16l62 0l16 -15l62 0l16 -16l31 0l0 -93z" fill="#ffbe00"/><path d="M370 434l-15 4l-16 0l-15 -2l-16 0l-15 5l0 4l-16 16l16 0l15 -16l62 0l12 -11zM464 427l-16 2l-15 1l31 0l5 -6zM727 274l-27 47l-19 17l-15 7l-16 4l-15 1l-47 -1l-15 2l-16 4l-16 8l-4 4l-27 30l-23 17l54 0l16 -16l62 0l16 -15l62 0l16 -16l31 0l0 -93z" fill="#ffa400"/><path d="M300 453l-20 8l13 0zM730 290l-7 15l-10 17l-16 18l-16 10l-15 6l-16 3l-62 2l-15 3l-12 3l-4 2l-16 13l-15 23l-14 9l29 0l16 -16l62 0l16 -15l62 0l16 -16l31 0l0 -93l-4 0z" fill="#ff7c00"/><path d="M737 305l-9 16l-15 19l-16 14l-31 13l-31 4l-47 3l-15 3l-16 10l-19 27l3 0l16 -16l62 0l16 -15l62 0l16 -16l31 0l0 -76z" fill="#ff5000"/><path d="M744 319l-31 37l-16 11l-31 11l-16 3l-46 3l-16 3l-15 6l-8 5l54 0l16 -15l62 0l16 -16l31 0z" fill="#ff2400"/><path d="M623 395l-19 2l-7 1l22 0zM708 372l-27 9l-3 2l19 0zM728 350l-12 17l28 0l0 -31z" fill="#f70007"/><path d="M744 349l-16 15l-2 3l18 0z" fill="#c9002e"/><path d="M740 367l4 0l0 -3z" fill="#9b0055"/></g>
<use href="#ctr"/>
<path d="M518 297L505 307M510 305L505 307L508 303M565 297L546 309M553 306L546 309L551 303M612 297L592 296M599 298L592 296L599 295M658 297L642 321M650 315L642 321L646 312M705 297L692 321M698 314L692 321L694 312M378 328L349 333M359 334L349 333L359 329M425 328L400 341M409 339L400 341L407 335M472 328L455 357M463 349L455 357L458 346M518 328L506 360M512 351L506 360L507 349M565 328L540 345M549 341L540 345L547 337M612 328L571 331M585 333L571 331L584 327M658 328L621 348M635 345L621 348L632 339M705 328L684 350M693 345L684 350L689 341M331 360L313 358M319 360L313 358L319 357M378 360L337 363M351 365L337 363L351 359M425 360L380 372M396 372L380 372L394 365M472 360L437 387M451 381L437 387L446 375M518 360L496 395M506 385L496 395L500 381M565 360L547 382M555 376L547 382L551 373M612 360L595 360M601 361L595 360L601 359M658 360L641 373M648 370L641 373L646 367M705 360L690 382M697 376L690 382L693 373M331 390L286 389M301 393L286 389L301 386M378 390L340 395M353 397L340 395L352 391M425 390L397 394M406 395L397 394L406 390M472 390L454 408M462 404L454 408L459 401M518 390L511 419M516 410L511 419L511 409M565 390L556 417M561 409L556 417L557 407M612 390L587 398M596 397L587 398L594 394M331 422L308 415M315 419L308 415L316 415M378 422L351 427M360 428L351 427L360 423M425 422L400 420M408 422L400 420L409 418" fill="none" stroke="#000" stroke-width="4.8" stroke-linejoin="round"/><g fill="#000"></g>
</svg>
<rect x="0" y="0" width="1037.0" height="778.0" fill="none" stroke="#262626" stroke-width="4.5"/>
<path d="M0.0 0V-18M0.0 778.0v18M259.2 0V-18M259.2 778.0v18M518.5 0V-18M518.5 778.0v18M777.8 0V-18M777.8 778.0v18M1037.0 0V-18M1037.0 778.0v18M0 0.0h-18M1037.0 0.0h18M0 259.3h-18M1037.0 259.3h18M0 518.7h-18M1037.0 518.7h18M0 778.0h-18M1037.0 778.0h18" stroke="#262626" stroke-width="4.5" fill="none"/>
<rect x="74.6" y="654.2" width="887.6" height="31.1" fill="url(#cm2)" stroke="#262626" stroke-width="4.6"/>
<text x="74.6" y="754.5" font-size="41.67" fill="#262626" text-anchor="middle">45.8975</text>
<text x="252.1" y="754.5" font-size="41.67" fill="#262626" text-anchor="middle">45.898</text>
<text x="429.6" y="754.5" font-size="41.67" fill="#262626" text-anchor="middle">45.8985</text>
<text x="607.2" y="754.5" font-size="41.67" fill="#262626" text-anchor="middle">45.899</text>
<text x="784.7" y="754.5" font-size="41.67" fill="#262626" text-anchor="middle">45.8995</text>
<text x="962.2" y="754.5" font-size="41.67" fill="#262626" text-anchor="middle">45.9</text>
<path d="M252.1 654.2v31.1M429.6 654.2v31.1M607.2 654.2v31.1M784.7 654.2v31.1" stroke="#262626" stroke-width="4.2" fill="none"/>
<text x="103.2" y="74.9" font-size="66.00" text-anchor="middle">(l)</text>
<text x="517.5" y="100.2" font-size="66.67" text-anchor="middle">6000 m</text>
<text x="706" y="623" font-size="66.67" font-style="italic">σ</text>
<text x="749.8" y="651.9" font-size="50">4</text>
<text x="797.5" y="623" font-size="66.67">(kg m</text>
<text x="956.4" y="591" font-size="50.00">-3</text>
<text x="1004.8" y="623" font-size="66.67">)</text>
<text x="43.3" y="186.5" font-size="66.67">1 cm s</text>
<text x="218.4" y="154.4" font-size="50.00">-1</text>
<use href="#arr" transform="translate(103.4 207.5)"/>
</g>
<g transform="translate(235.7 3568.1)">
<svg x="0" y="0" width="1037.0" height="778.0" overflow="hidden">
<g shape-rendering="geometricPrecision"><path d="M277 461l16 0l15 -16l62 0l16 -15l78 0l15 -16l62 0l16 -16l62 0l16 -15l62 0l16 -16l31 0l0 -93l-78 0l-16 16l-124 0l-16 15l-124 0l-16 16l-15 0l0 15l-31 31l0 16l-16 15l0 16l-15 16l0 15z" fill="#4168ae"/><path d="M720 367l24 -6l0 -87l-78 0l-16 16l-124 0l-16 15l-124 0l-16 16l-15 0l0 15l-31 31l0 16l-16 15l0 16l-15 16l0 15l-16 16l16 0l15 -16l62 0l16 -15l78 0l15 -16l62 0l16 -16l62 0l16 -15l51 0l22 -11l5 -5z" fill="#4b7cb7"/><path d="M661 383l20 -14l32 -14l15 -5l16 -3l0 -73l-78 0l-16 16l-124 0l-16 15l-124 0l-16 16l-15 0l0 15l-31 31l0 16l-16 15l0 16l-15 16l0 15l-7 7l15 0l7 -7l62 0l16 -15l78 0l15 -16l62 0l16 -16l62 0l16 -15z" fill="#5a8ec1"/><path d="M637 383l29 -23l15 -9l47 -14l16 -1l0 -62l-78 0l-16 16l-124 0l-16 15l-124 0l-16 16l-15 0l0 15l-31 31l0 16l-16 15l0 16l-15 16l0 11l46 -2l35 2l12 -11l78 0l15 -16l62 0l16 -16l55 0l19 -12l4 -3z" fill="#69a0ca"/><path d="M588 389l47 -27l31 -22l9 -4l6 -2l63 -7l0 -53l-78 0l-16 16l-124 0l-16 15l-124 0l-16 16l-15 0l0 15l-31 31l0 16l-16 15l0 16l-15 16l46 -2l125 2l15 -16l62 0l16 -16l23 0z" fill="#78b1d3"/><path d="M569 383l4 -17l5 -14l10 -7l16 -6l31 -5l31 -14l15 -4l32 3l31 -2l0 -43l-78 0l-16 16l-124 0l-16 15l-124 0l-16 16l-15 0l0 15l-31 31l0 16l-16 15l0 16l-3 4l81 -1l15 2l47 10l16 1l15 -16l62 0l16 -16l4 0z" fill="#8abfdb"/><path d="M635 295l15 3l31 0l32 9l15 2l16 -2l0 -33l-78 0l-16 16l-27 0zM541 406l6 -8l9 -15l5 -16l2 -15l10 -18l12 -13l3 -17l13 -14l-75 0l-16 15l-124 0l-16 16l-15 0l0 15l-31 31l0 16l-16 15l0 7l62 -1l16 2l47 10l38 6l8 -8l51 0z" fill="#9ccde2"/><path d="M662 278l19 3l32 10l15 4l16 -1l0 -20l-78 0zM313 393l57 -1l16 2l47 13l46 6l16 0l15 -3l16 -7l6 -5l9 -10l4 -5l6 -16l3 -15l14 -31l3 -16l8 -15l-53 0l-16 15l-124 0l-16 16l-15 0l0 15l-31 31l0 16z" fill="#addaea"/><path d="M711 274l17 4l16 0l0 -4zM324 382l46 -1l11 2l52 16l31 4l15 1l16 -1l13 -5l18 -10l15 -18l5 -18l10 -31l2 -16l7 -15l-39 0l-16 15l-124 0l-16 16l-15 0l0 15l-31 31z" fill="#bfe3ef"/><path d="M324 371l46 2l16 3l47 16l15 2l31 2l16 -4l16 -9l16 -16l14 -30l6 -16l2 -16l5 -15l-28 0l-16 15l-124 0l-16 16l-15 0l0 15l-31 31z" fill="#d1ecf4"/><path d="M330 361l40 4l11 2l20 9l32 9l31 3l15 0l16 -6l16 -15l11 -15l4 -11l12 -20l2 -16l6 -15l-20 0l-16 15l-124 0l-16 16l-15 0l0 15z" fill="#f4e2a5"/><path d="M338 353l17 3l31 7l31 12l16 3l31 3l15 0l16 -5l9 -9l17 -31l10 -15l8 -31l-13 0l-16 15l-124 0l-16 16l-15 0l0 15z" fill="#fbd98e"/><path d="M355 348l31 10l31 12l47 5l15 0l16 -6l2 -2l27 -46l9 -31l-7 0l-16 15l-124 0l-16 16l-15 0l0 15l-10 10z" fill="#fdc87a"/><path d="M351 340l66 24l47 6l15 -1l16 -7l7 -10l6 -16l10 -15l9 -31l-17 15l-124 0l-16 16l-15 0l0 15z" fill="#fdb568"/><path d="M355 334l62 23l47 7l15 0l16 -9l2 -3l6 -16l10 -15l8 -26l-11 10l-124 0l-16 16l-15 0z" fill="#fa9f5c"/><path d="M355 325l62 26l47 7l15 0l10 -6l6 -8l15 -31l4 -12l-4 4l-124 0l-16 16l-15 0z" fill="#f88951"/><path d="M367 321l50 21l47 10l15 0l16 -20l14 -27l-123 0l-16 16z" fill="#f57346"/><path d="M376 315l49 21l39 9l15 -2l16 -22l8 -16l-117 0z" fill="#ed5e3c"/><path d="M383 308l34 17l16 6l31 7l15 -5l19 -28l-112 0z" fill="#e44b33"/><path d="M396 305l37 19l31 6l15 -8l13 -17z" fill="#da372a"/><path d="M410 305l23 12l15 4l16 1l15 -10l6 -7z" fill="#cd2627"/><path d="M433 309l15 4l16 0l12 -8l-51 0z" fill="#bd1726"/><path d="M448 305l1 0l-1 0z" fill="#ad0826"/></g>
<use href="#ctr"/>
<g fill="#4d4d4d"><circle cx="354.4" cy="308.1" r="7.2"/><circle cx="450.0" cy="333.0" r="7.2"/><circle cx="425.6" cy="358.9" r="7.2"/><circle cx="569.0" cy="310.8" r="7.2"/><circle cx="576.3" cy="309.3" r="7.2"/><circle cx="520.0" cy="375.7" r="7.2"/><circle cx="556.8" cy="402.1" r="7.2"/><circle cx="492.3" cy="415.2" r="7.2"/><circle cx="479.2" cy="426.2" r="7.2"/><circle cx="270.7" cy="466.4" r="7.2"/><circle cx="637.2" cy="361.7" r="7.2"/><circle cx="654.0" cy="340.7" r="7.2"/><circle cx="756.3" cy="263.0" r="7.2"/><circle cx="731.9" cy="277.9" r="7.2"/><circle cx="743.5" cy="374.7" r="7.2"/></g>
</svg>
<rect x="0" y="0" width="1037.0" height="778.0" fill="none" stroke="#262626" stroke-width="4.5"/>
<path d="M0.0 0V-18M0.0 778.0v18M259.2 0V-18M259.2 778.0v18M518.5 0V-18M518.5 778.0v18M777.8 0V-18M777.8 778.0v18M1037.0 0V-18M1037.0 778.0v18M0 0.0h-18M1037.0 0.0h18M0 259.3h-18M1037.0 259.3h18M0 518.7h-18M1037.0 518.7h18M0 778.0h-18M1037.0 778.0h18" stroke="#262626" stroke-width="4.5" fill="none"/>
<rect x="74.6" y="654.2" width="887.6" height="31.1" fill="url(#cm0)" stroke="#262626" stroke-width="4.6"/>
<text x="74.6" y="754.5" font-size="41.67" fill="#262626" text-anchor="middle">1.0133</text>
<text x="296.5" y="754.5" font-size="41.67" fill="#262626" text-anchor="middle">1.0135</text>
<text x="518.4" y="754.5" font-size="41.67" fill="#262626" text-anchor="middle">1.0137</text>
<text x="740.3" y="754.5" font-size="41.67" fill="#262626" text-anchor="middle">1.0139</text>
<text x="962.2" y="754.5" font-size="41.67" fill="#262626" text-anchor="middle">1.0141</text>
<path d="M296.5 654.2v31.1M518.4 654.2v31.1M740.3 654.2v31.1" stroke="#262626" stroke-width="4.2" fill="none"/>
<text x="103.2" y="74.9" font-size="66.00" text-anchor="middle">(m)</text>
<text x="517.5" y="100.2" font-size="66.67" text-anchor="middle">7000 m</text>
<text x="762.6" y="636.4" font-size="66.67" font-style="italic">θ</text><text x="941.7" y="636.4" font-size="66.67" text-anchor="end">( °C)</text>
</g>
<g transform="translate(1310.3 3568.1)">
<svg x="0" y="0" width="1037.0" height="778.0" overflow="hidden">
<g shape-rendering="geometricPrecision"><path d="M277 461l16 0l15 -16l62 0l16 -15l78 0l15 -16l62 0l16 -16l62 0l16 -15l62 0l16 -16l31 0l0 -93l-78 0l-16 16l-124 0l-16 15l-124 0l-16 16l-15 0l0 15l-31 31l0 16l-16 15l0 16l-15 16l0 15z" fill="#250ab4"/><path d="M412 321l-7 15l-19 14l-16 4l-35 2l-11 11l0 16l-16 15l0 16l-15 16l0 15l-16 16l16 0l15 -16l62 0l16 -15l78 0l15 -16l62 0l16 -16l62 0l16 -15l62 0l16 -16l31 0l0 -93l-78 0l-16 16l-124 0l-16 15l-97 0z" fill="#241dc6"/><path d="M426 321l-6 15l-19 18l-15 7l-16 2l-31 5l-15 -1l0 16l-16 15l0 16l-15 16l0 15l-16 16l16 0l15 -16l62 0l16 -15l78 0l15 -16l62 0l16 -16l62 0l16 -15l62 0l16 -16l31 0l0 -93l-78 0l-16 16l-124 0l-16 15l-82 0z" fill="#1e39d5"/><path d="M438 321l-5 15l-13 16l-19 13l-15 6l-47 6l-15 -1l0 7l-16 15l0 16l-15 16l0 15l-16 16l16 0l15 -16l62 0l16 -15l78 0l15 -16l62 0l16 -16l62 0l16 -15l62 0l16 -16l31 0l0 -93l-78 0l-16 16l-124 0l-16 15l-70 0z" fill="#1855e2"/><path d="M451 321l-4 15l-11 16l-19 15l-16 9l-15 5l-16 1l-15 3l-16 1l-18 -1l-13 13l0 16l-15 16l0 15l-16 16l16 0l15 -16l62 0l16 -15l78 0l15 -16l62 0l16 -16l62 0l16 -15l62 0l16 -16l31 0l0 -93l-78 0l-16 16l-124 0l-16 15l-58 0z" fill="#1770ea"/><path d="M466 321l-3 15l-9 16l-6 6l-15 16l-32 17l-15 4l-16 1l-15 2l-31 0l-16 2l0 14l-15 16l0 15l-16 16l16 0l15 -16l62 0l16 -15l78 0l15 -16l62 0l16 -16l62 0l16 -15l62 0l16 -16l31 0l0 -93l-78 0l-16 16l-124 0l-16 15l-44 0z" fill="#1a8aee"/><path d="M481 321l-3 15l-7 16l-21 31l-2 5l-6 10l-9 7l-16 5l-47 6l-62 -4l0 2l-15 16l0 15l-16 16l16 0l15 -16l62 0l16 -15l78 0l15 -16l62 0l16 -16l62 0l16 -15l62 0l16 -16l31 0l0 -93l-78 0l-16 16l-124 0l-16 15l-30 0z" fill="#1fa6ef"/><path d="M370 433l-46 -4l-31 0l0 16l-16 16l16 0l15 -16l62 0l12 -12zM491 321l-1 15l-11 33l-5 14l1 15l-3 16l-8 9l-17 7l17 0l15 -16l62 0l16 -16l62 0l16 -15l62 0l16 -16l31 0l0 -93l-78 0l-16 16l-124 0l-16 15l-21 0z" fill="#27c5ec"/><path d="M303 450l-14 -1l-12 12l16 0zM503 321l-1 15l-10 47l2 15l0 16l47 0l16 -16l62 0l16 -15l62 0l16 -16l31 0l0 -93l-78 0l-16 16l-124 0l-16 15l-9 0z" fill="#35e3e9"/><path d="M519 297l-1 39l-6 31l0 16l2 31l27 0l16 -16l62 0l16 -15l62 0l16 -16l31 0l0 -93l-78 0l-16 16l-124 0z" fill="#50eed8"/><path d="M541 290l-4 46l-5 31l-1 16l1 31l9 0l16 -16l62 0l16 -15l62 0l16 -16l31 0l0 -93l-78 0l-16 16z" fill="#75ecbb"/><path d="M573 290l-3 15l-15 47l-2 15l-3 38l7 -7l62 0l16 -15l62 0l16 -16l31 0l0 -93l-78 0l-16 16z" fill="#92ee9e"/><path d="M630 305l-18 31l-3 16l-11 15l-10 7l-11 24l42 0l16 -15l62 0l16 -16l31 0l0 -93l-78 0l-16 16l-24 0z" fill="#a8ed8a"/><path d="M655 290l5 15l-4 16l-1 15l7 16l6 15l-8 16l37 0l16 -16l31 0l0 -93l-78 0l-13 13z" fill="#bce77d"/><path d="M664 276l11 14l3 15l-3 16l2 15l4 11l7 20l-3 16l12 0l16 -16l31 0l0 -93l-78 0z" fill="#d1dc74"/><path d="M681 275l11 15l4 15l-3 16l1 15l4 16l5 15l1 9l9 -9l31 0l0 -93z" fill="#e7c96a"/><path d="M712 290l5 15l-2 16l2 15l9 31l18 0l0 -93l-45 0z" fill="#dcb059"/><path d="M744 276l0 -2l-1 0z" fill="#c5994b"/></g>
<use href="#ctr"/>
<g fill="#4d4d4d"><circle cx="354.4" cy="308.1" r="7.2"/><circle cx="450.0" cy="333.0" r="7.2"/><circle cx="425.6" cy="358.9" r="7.2"/><circle cx="569.0" cy="310.8" r="7.2"/><circle cx="576.3" cy="309.3" r="7.2"/><circle cx="520.0" cy="375.7" r="7.2"/><circle cx="556.8" cy="402.1" r="7.2"/><circle cx="492.3" cy="415.2" r="7.2"/><circle cx="479.2" cy="426.2" r="7.2"/><circle cx="270.7" cy="466.4" r="7.2"/><circle cx="637.2" cy="361.7" r="7.2"/><circle cx="654.0" cy="340.7" r="7.2"/><circle cx="756.3" cy="263.0" r="7.2"/><circle cx="731.9" cy="277.9" r="7.2"/><circle cx="743.5" cy="374.7" r="7.2"/></g>
</svg>
<rect x="0" y="0" width="1037.0" height="778.0" fill="none" stroke="#262626" stroke-width="4.5"/>
<path d="M0.0 0V-18M0.0 778.0v18M259.2 0V-18M259.2 778.0v18M518.5 0V-18M518.5 778.0v18M777.8 0V-18M777.8 778.0v18M1037.0 0V-18M1037.0 778.0v18M0 0.0h-18M1037.0 0.0h18M0 259.3h-18M1037.0 259.3h18M0 518.7h-18M1037.0 518.7h18M0 778.0h-18M1037.0 778.0h18" stroke="#262626" stroke-width="4.5" fill="none"/>
<rect x="74.6" y="654.2" width="887.6" height="31.1" fill="url(#cm1)" stroke="#262626" stroke-width="4.6"/>
<text x="74.6" y="754.5" font-size="41.67" fill="#262626" text-anchor="middle">34.695</text>
<text x="296.5" y="754.5" font-size="41.67" fill="#262626" text-anchor="middle">34.6955</text>
<text x="518.4" y="754.5" font-size="41.67" fill="#262626" text-anchor="middle">34.696</text>
<text x="740.3" y="754.5" font-size="41.67" fill="#262626" text-anchor="middle">34.6965</text>
<text x="962.2" y="754.5" font-size="41.67" fill="#262626" text-anchor="middle">34.697</text>
<path d="M296.5 654.2v31.1M518.4 654.2v31.1M740.3 654.2v31.1" stroke="#262626" stroke-width="4.2" fill="none"/>
<text x="103.2" y="74.9" font-size="66.00" text-anchor="middle">(n)</text>
<text x="517.5" y="100.2" font-size="66.67" text-anchor="middle">7000 m</text>
<text x="757" y="636.4" font-size="66.67" font-style="italic">S</text><text x="947.9" y="636.4" font-size="66.67" text-anchor="end">(psu)</text>
</g>
<g transform="translate(2385.3 3568.1)">
<svg x="0" y="0" width="1037.0" height="778.0" overflow="hidden">
<g shape-rendering="geometricPrecision"><path d="M277 461l16 0l15 -16l62 0l16 -15l78 0l15 -16l62 0l16 -16l62 0l16 -15l62 0l16 -16l31 0l0 -93l-78 0l-16 16l-124 0l-16 15l-124 0l-16 16l-15 0l0 15l-31 31l0 16l-16 15l0 16l-15 16l0 15z" fill="#00bcfb"/><path d="M401 311l-6 10l-9 7l-16 7l-15 1l-31 31l0 16l-16 15l0 16l-15 16l0 15l-16 16l16 0l15 -16l62 0l16 -15l78 0l15 -16l62 0l16 -16l62 0l16 -15l62 0l16 -16l31 0l0 -93l-78 0l-16 16l-124 0l-16 15l-106 0z" fill="#00f4f4"/><path d="M422 321l-10 15l-11 8l-15 7l-16 4l-37 3l-9 9l0 16l-16 15l0 16l-15 16l0 15l-16 16l16 0l15 -16l62 0l16 -15l78 0l15 -16l62 0l16 -16l62 0l16 -15l62 0l16 -16l31 0l0 -93l-78 0l-16 16l-124 0l-16 15l-83 0z" fill="#00ddb1"/><path d="M447 305l-12 31l-13 16l-21 11l-31 7l-31 3l-15 0l0 10l-16 15l0 16l-15 16l0 15l-16 16l16 0l15 -16l62 0l16 -15l78 0l15 -16l62 0l16 -16l62 0l16 -15l62 0l16 -16l31 0l0 -93l-78 0l-16 16l-124 0l-16 15z" fill="#00c56e"/><path d="M459 321l-5 15l-8 16l-13 12l-16 9l-16 6l-31 5l-31 3l-19 0l-12 11l0 16l-15 16l0 15l-16 16l16 0l15 -16l62 0l16 -15l78 0l15 -16l62 0l16 -16l62 0l16 -15l62 0l16 -16l31 0l0 -93l-78 0l-16 16l-124 0l-16 15l-48 0z" fill="#00ae2b"/><path d="M476 321l-4 15l-5 16l-12 15l-7 7l-15 10l-16 6l-31 8l-47 4l-31 -2l0 14l-15 16l0 15l-16 16l16 0l15 -16l62 0l16 -15l78 0l15 -16l62 0l16 -16l62 0l16 -15l62 0l16 -16l31 0l0 -93l-78 0l-16 16l-124 0l-16 15l-32 0z" fill="#40bf18"/><path d="M495 320l-9 32l-7 13l-15 22l-16 13l-31 9l-16 4l-62 4l-33 -1l-13 14l0 15l-16 16l16 0l15 -16l62 0l16 -15l78 0l15 -16l62 0l16 -16l62 0l16 -15l62 0l16 -16l31 0l0 -93l-78 0l-16 16l-124 0l-16 15l-14 0z" fill="#8cd90e"/><path d="M380 435l-41 1l-31 -6l-15 0l0 15l-16 16l16 0l15 -16l62 0zM512 304l-11 48l-13 31l-9 31l-4 4l4 -4l62 0l16 -16l62 0l16 -15l62 0l16 -16l31 0l0 -93l-78 0l-16 16l-124 0z" fill="#d9f205"/><path d="M293 446l-2 1l-14 14l16 0l14 -15zM527 290l-4 31l-5 31l-8 31l-1 31l32 0l16 -16l62 0l16 -15l62 0l16 -16l31 0l0 -93l-78 0l-16 16z" fill="#fff100"/><path d="M553 290l-19 93l-1 31l8 0l16 -16l62 0l16 -15l62 0l16 -16l31 0l0 -93l-78 0l-16 16z" fill="#ffd400"/><path d="M599 305l-26 36l-6 11l-9 31l-3 17l2 -2l62 0l16 -15l62 0l16 -16l31 0l0 -93l-78 0l-16 16l-52 0z" fill="#ffb800"/><path d="M646 305l-11 36l-17 11l-14 15l-17 31l32 0l16 -15l62 0l16 -16l31 0l0 -93l-78 0l-16 16l-9 0z" fill="#ff9800"/><path d="M657 283l10 22l-3 16l-1 15l6 16l0 15l-3 7l-8 9l39 0l16 -16l31 0l0 -93l-78 0z" fill="#ff6800"/><path d="M678 290l6 15l-1 16l0 15l4 16l1 15l-3 16l12 0l16 -16l31 0l0 -93l-75 0z" fill="#ff3800"/><path d="M696 290l5 15l-3 16l9 31l1 15l0 5l5 -5l31 0l0 -93l-56 0z" fill="#ff0800"/><path d="M722 290l3 15l-3 16l1 15l7 31l14 0l0 -93l-30 0z" fill="#d40024"/><path d="M743 290l0 15l-3 16l1 15l3 21l0 -83l-4 0z" fill="#a2004f"/></g>
<use href="#ctr"/>
<path d="" fill="none" stroke="#000" stroke-width="4.8" stroke-linejoin="round"/><g fill="#000"><circle cx="565.1" cy="297.1" r="1.9"/><circle cx="611.4" cy="297.1" r="1.9"/><circle cx="658.6" cy="297.1" r="1.9"/><circle cx="705.2" cy="297.1" r="1.9"/><circle cx="377.6" cy="329.1" r="1.9"/><circle cx="424.8" cy="329.1" r="1.9"/><circle cx="471.4" cy="329.1" r="1.9"/><circle cx="518.6" cy="329.1" r="1.9"/><circle cx="565.1" cy="329.1" r="1.9"/><circle cx="611.4" cy="329.1" r="1.9"/><circle cx="658.6" cy="329.1" r="1.9"/><circle cx="705.2" cy="329.1" r="1.9"/><circle cx="377.6" cy="360.1" r="1.9"/><circle cx="424.8" cy="360.1" r="1.9"/><circle cx="471.4" cy="360.1" r="1.9"/><circle cx="518.6" cy="360.1" r="1.9"/><circle cx="565.1" cy="360.1" r="1.9"/><circle cx="611.4" cy="360.1" r="1.9"/><circle cx="658.6" cy="360.1" r="1.9"/><circle cx="705.2" cy="360.1" r="1.9"/><circle cx="331.3" cy="390.9" r="1.9"/><circle cx="377.6" cy="390.9" r="1.9"/><circle cx="424.8" cy="390.9" r="1.9"/><circle cx="471.4" cy="390.9" r="1.9"/><circle cx="518.6" cy="390.9" r="1.9"/><circle cx="565.1" cy="390.9" r="1.9"/><circle cx="611.4" cy="390.9" r="1.9"/><circle cx="331.3" cy="421.9" r="1.9"/><circle cx="377.6" cy="421.9" r="1.9"/><circle cx="424.8" cy="421.9" r="1.9"/></g>
</svg>
<rect x="0" y="0" width="1037.0" height="778.0" fill="none" stroke="#262626" stroke-width="4.5"/>
<path d="M0.0 0V-18M0.0 778.0v18M259.2 0V-18M259.2 778.0v18M518.5 0V-18M518.5 778.0v18M777.8 0V-18M777.8 778.0v18M1037.0 0V-18M1037.0 778.0v18M0 0.0h-18M1037.0 0.0h18M0 259.3h-18M1037.0 259.3h18M0 518.7h-18M1037.0 518.7h18M0 778.0h-18M1037.0 778.0h18" stroke="#262626" stroke-width="4.5" fill="none"/>
<rect x="74.6" y="654.2" width="887.6" height="31.1" fill="url(#cm2)" stroke="#262626" stroke-width="4.6"/>
<text x="74.6" y="754.5" font-size="41.67" fill="#262626" text-anchor="middle">45.8992</text>
<text x="296.5" y="754.5" font-size="41.67" fill="#262626" text-anchor="middle">45.8996</text>
<text x="518.4" y="754.5" font-size="41.67" fill="#262626" text-anchor="middle">45.9</text>
<text x="740.3" y="754.5" font-size="41.67" fill="#262626" text-anchor="middle">45.9004</text>
<text x="962.2" y="754.5" font-size="41.67" fill="#262626" text-anchor="middle">45.9008</text>
<path d="M296.5 654.2v31.1M518.4 654.2v31.1M740.3 654.2v31.1" stroke="#262626" stroke-width="4.2" fill="none"/>
<text x="103.2" y="74.9" font-size="66.00" text-anchor="middle">(o)</text>
<text x="517.5" y="100.2" font-size="66.67" text-anchor="middle">7000 m</text>
<text x="706" y="623" font-size="66.67" font-style="italic">σ</text>
<text x="749.8" y="651.9" font-size="50">4</text>
<text x="797.5" y="623" font-size="66.67">(kg m</text>
<text x="956.4" y="591" font-size="50.00">-3</text>
<text x="1004.8" y="623" font-size="66.67">)</text>
<text x="43.3" y="186.5" font-size="66.67">1 cm s</text>
<text x="218.4" y="154.4" font-size="50.00">-1</text>
<use href="#arr" transform="translate(103.4 207.5)"/>
</g>
<text x="494.9" y="56.2" font-size="66.00" fill="#262626" text-anchor="middle">141.5°E</text>
<text x="754.2" y="56.2" font-size="66.00" fill="#262626" text-anchor="middle">142°E</text>
<text x="1013.5" y="56.2" font-size="66.00" fill="#262626" text-anchor="middle">142.5°E</text>
<text x="1569.5" y="56.2" font-size="66.00" fill="#262626" text-anchor="middle">141.5°E</text>
<text x="1828.8" y="56.2" font-size="66.00" fill="#262626" text-anchor="middle">142°E</text>
<text x="2088.1" y="56.2" font-size="66.00" fill="#262626" text-anchor="middle">142.5°E</text>
<text x="2644.6" y="56.2" font-size="66.00" fill="#262626" text-anchor="middle">141.5°E</text>
<text x="2903.8" y="56.2" font-size="66.00" fill="#262626" text-anchor="middle">142°E</text>
<text x="3163.1" y="56.2" font-size="66.00" fill="#262626" text-anchor="middle">142.5°E</text>
<text x="185" y="142.1" font-size="66.00" fill="#262626" text-anchor="end">12°N</text>
<text x="185" y="401.4" font-size="66.00" fill="#262626" text-anchor="end">11.5°N</text>
<text x="185" y="660.8" font-size="66.00" fill="#262626" text-anchor="end">11°N</text>
<text x="185" y="920.1" font-size="66.00" fill="#262626" text-anchor="end">10.5°N</text>
<text x="185" y="1004.1" font-size="66.00" fill="#262626" text-anchor="end">12°N</text>
<text x="185" y="1263.4" font-size="66.00" fill="#262626" text-anchor="end">11.5°N</text>
<text x="185" y="1522.8" font-size="66.00" fill="#262626" text-anchor="end">11°N</text>
<text x="185" y="1782.1" font-size="66.00" fill="#262626" text-anchor="end">10.5°N</text>
<text x="185" y="1866.1" font-size="66.00" fill="#262626" text-anchor="end">12°N</text>
<text x="185" y="2125.4" font-size="66.00" fill="#262626" text-anchor="end">11.5°N</text>
<text x="185" y="2384.8" font-size="66.00" fill="#262626" text-anchor="end">11°N</text>
<text x="185" y="2644.1" font-size="66.00" fill="#262626" text-anchor="end">10.5°N</text>
<text x="185" y="2728.1" font-size="66.00" fill="#262626" text-anchor="end">12°N</text>
<text x="185" y="2987.4" font-size="66.00" fill="#262626" text-anchor="end">11.5°N</text>
<text x="185" y="3246.8" font-size="66.00" fill="#262626" text-anchor="end">11°N</text>
<text x="185" y="3506.1" font-size="66.00" fill="#262626" text-anchor="end">10.5°N</text>
<text x="185" y="3590.1" font-size="66.00" fill="#262626" text-anchor="end">12°N</text>
<text x="185" y="3849.4" font-size="66.00" fill="#262626" text-anchor="end">11.5°N</text>
<text x="185" y="4108.8" font-size="66.00" fill="#262626" text-anchor="end">11°N</text>
<text x="185" y="4368.1" font-size="66.00" fill="#262626" text-anchor="end">10.5°N</text>
</svg></body></html>
